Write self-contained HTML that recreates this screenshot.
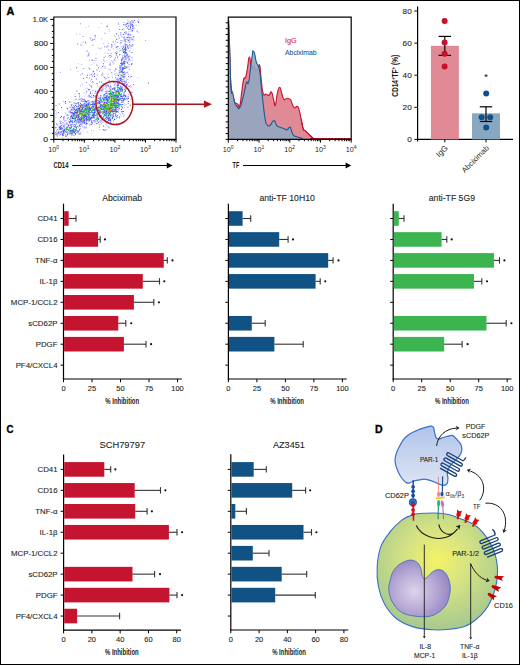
<!DOCTYPE html>
<html><head><meta charset="utf-8"><style>
html,body{margin:0;padding:0;background:#fff;}
body{width:520px;height:665px;overflow:hidden;}
svg{display:block;}
text{font-family:"Liberation Sans", sans-serif;}
</style></head><body>
<svg width="520" height="665" viewBox="0 0 520 665" fill="#231f20">
<defs>
<radialGradient id="mono" cx="0.5" cy="0.4" r="0.62">
<stop offset="0" stop-color="#f4f266"/><stop offset="0.4" stop-color="#d8e482"/><stop offset="1" stop-color="#a4c890"/>
</radialGradient>
<radialGradient id="nuc" cx="0.42" cy="0.55" r="0.6">
<stop offset="0" stop-color="#dcd4ea"/><stop offset="0.6" stop-color="#b4a6d4"/><stop offset="1" stop-color="#9484c0"/>
</radialGradient>
<linearGradient id="plt" x1="0" y1="0" x2="0" y2="1">
<stop offset="0" stop-color="#b0c4ea"/><stop offset="1" stop-color="#dde5f4"/>
</linearGradient>
</defs>
<rect x="0.5" y="0.5" width="519" height="664" fill="#fff" stroke="#000" stroke-width="1"/>
<text x="6.6" y="14.6" font-size="10.8" font-weight="bold" textLength="7.8" lengthAdjust="spacingAndGlyphs" fill="#000" stroke="#000" stroke-width="0.35">A</text>
<text x="6.8" y="197.9" font-size="10.8" font-weight="bold" textLength="7" lengthAdjust="spacingAndGlyphs" fill="#000" stroke="#000" stroke-width="0.35">B</text>
<text x="6.6" y="432.6" font-size="10.8" font-weight="bold" textLength="7" lengthAdjust="spacingAndGlyphs" fill="#000" stroke="#000" stroke-width="0.35">C</text>
<text x="375" y="432.7" font-size="10.8" font-weight="bold" textLength="7.6" lengthAdjust="spacingAndGlyphs" fill="#000" stroke="#000" stroke-width="0.35">D</text>
<path d="M98.4 104.9h.9v.9h-.9zM107.8 118.1h.9v.9h-.9zM114.9 105.0h.9v.9h-.9zM113.0 120.1h.9v.9h-.9zM104.9 118.5h.9v.9h-.9zM100.4 121.7h.9v.9h-.9zM115.1 82.9h.9v.9h-.9zM113.4 99.8h.9v.9h-.9zM124.3 104.8h.9v.9h-.9zM122.1 96.5h.9v.9h-.9zM127.5 97.4h.9v.9h-.9zM114.2 109.9h.9v.9h-.9zM104.5 109.3h.9v.9h-.9zM106.8 121.0h.9v.9h-.9zM99.6 98.2h.9v.9h-.9zM114.6 116.2h.9v.9h-.9zM114.1 117.7h.9v.9h-.9zM116.8 116.6h.9v.9h-.9zM97.1 113.1h.9v.9h-.9zM104.8 102.3h.9v.9h-.9zM126.1 118.7h.9v.9h-.9zM119.2 95.2h.9v.9h-.9zM114.9 86.4h.9v.9h-.9zM123.9 114.7h.9v.9h-.9zM124.7 81.7h.9v.9h-.9zM115.4 111.2h.9v.9h-.9zM130.2 85.1h.9v.9h-.9zM111.4 123.0h.9v.9h-.9zM116.5 112.2h.9v.9h-.9zM107.3 116.6h.9v.9h-.9zM103.4 100.9h.9v.9h-.9zM117.4 117.1h.9v.9h-.9zM127.3 98.1h.9v.9h-.9zM106.6 116.4h.9v.9h-.9zM107.0 107.0h.9v.9h-.9zM99.6 106.2h.9v.9h-.9zM118.3 100.7h.9v.9h-.9zM120.9 95.2h.9v.9h-.9zM99.3 106.5h.9v.9h-.9zM113.1 112.4h.9v.9h-.9zM110.4 116.6h.9v.9h-.9zM103.7 112.1h.9v.9h-.9zM115.5 111.2h.9v.9h-.9zM99.3 114.6h.9v.9h-.9zM97.4 107.0h.9v.9h-.9zM101.8 101.5h.9v.9h-.9zM100.0 103.0h.9v.9h-.9zM126.4 84.5h.9v.9h-.9zM96.4 121.1h.9v.9h-.9zM115.7 95.9h.9v.9h-.9zM118.2 93.0h.9v.9h-.9zM108.1 108.0h.9v.9h-.9zM119.9 114.3h.9v.9h-.9zM114.3 86.9h.9v.9h-.9zM114.7 111.3h.9v.9h-.9zM127.7 89.0h.9v.9h-.9zM101.5 108.0h.9v.9h-.9zM100.5 121.0h.9v.9h-.9zM119.6 103.3h.9v.9h-.9zM121.5 107.6h.9v.9h-.9zM101.1 100.6h.9v.9h-.9zM99.0 115.1h.9v.9h-.9zM122.1 101.4h.9v.9h-.9zM113.3 93.2h.9v.9h-.9zM107.5 90.5h.9v.9h-.9zM105.0 93.1h.9v.9h-.9zM94.2 122.0h.9v.9h-.9zM113.9 89.6h.9v.9h-.9zM103.7 112.6h.9v.9h-.9zM108.4 127.5h.9v.9h-.9zM102.6 88.7h.9v.9h-.9zM123.6 107.2h.9v.9h-.9zM120.6 116.4h.9v.9h-.9zM103.8 119.0h.9v.9h-.9zM104.2 97.3h.9v.9h-.9zM120.8 100.4h.9v.9h-.9zM119.8 93.5h.9v.9h-.9zM117.9 108.4h.9v.9h-.9zM118.3 106.2h.9v.9h-.9zM120.9 102.4h.9v.9h-.9zM112.9 104.1h.9v.9h-.9zM112.6 98.6h.9v.9h-.9zM116.2 97.9h.9v.9h-.9zM115.3 103.2h.9v.9h-.9zM105.2 79.4h.9v.9h-.9zM124.0 98.3h.9v.9h-.9zM123.8 81.1h.9v.9h-.9zM103.4 115.8h.9v.9h-.9zM109.1 105.7h.9v.9h-.9zM121.2 106.2h.9v.9h-.9zM115.2 99.8h.9v.9h-.9zM125.9 78.7h.9v.9h-.9zM119.1 117.8h.9v.9h-.9zM99.6 107.9h.9v.9h-.9zM116.5 102.0h.9v.9h-.9zM118.1 109.8h.9v.9h-.9zM116.6 90.9h.9v.9h-.9zM100.0 112.6h.9v.9h-.9zM103.6 121.7h.9v.9h-.9zM104.8 86.3h.9v.9h-.9zM107.0 99.3h.9v.9h-.9zM106.5 98.1h.9v.9h-.9zM126.1 88.5h.9v.9h-.9zM108.9 126.5h.9v.9h-.9zM120.9 95.4h.9v.9h-.9zM113.1 121.6h.9v.9h-.9zM125.7 103.8h.9v.9h-.9zM116.4 107.4h.9v.9h-.9zM100.3 115.8h.9v.9h-.9zM124.0 82.9h.9v.9h-.9zM120.0 97.7h.9v.9h-.9zM107.9 116.0h.9v.9h-.9zM100.3 88.4h.9v.9h-.9zM117.2 87.8h.9v.9h-.9zM115.9 114.6h.9v.9h-.9zM108.5 121.7h.9v.9h-.9zM109.4 119.8h.9v.9h-.9zM114.8 113.9h.9v.9h-.9zM119.4 105.8h.9v.9h-.9zM107.3 118.4h.9v.9h-.9zM102.3 120.5h.9v.9h-.9zM106.2 116.9h.9v.9h-.9zM111.5 114.4h.9v.9h-.9zM113.8 118.8h.9v.9h-.9zM114.5 91.9h.9v.9h-.9zM111.5 105.2h.9v.9h-.9zM107.1 111.1h.9v.9h-.9zM111.2 99.4h.9v.9h-.9zM112.1 98.3h.9v.9h-.9zM122.7 113.7h.9v.9h-.9zM111.5 114.2h.9v.9h-.9zM112.0 100.9h.9v.9h-.9zM110.4 90.4h.9v.9h-.9zM100.9 115.8h.9v.9h-.9zM107.1 107.3h.9v.9h-.9zM106.4 118.1h.9v.9h-.9zM103.3 104.4h.9v.9h-.9zM123.1 104.2h.9v.9h-.9zM100.6 116.5h.9v.9h-.9zM97.8 115.5h.9v.9h-.9zM102.7 113.1h.9v.9h-.9zM89.4 125.1h.9v.9h-.9zM115.2 96.4h.9v.9h-.9zM111.9 107.1h.9v.9h-.9zM107.6 105.5h.9v.9h-.9zM120.8 104.8h.9v.9h-.9zM105.4 92.1h.9v.9h-.9zM125.2 95.2h.9v.9h-.9zM116.0 117.8h.9v.9h-.9zM103.2 106.9h.9v.9h-.9zM101.6 89.1h.9v.9h-.9zM128.2 101.4h.9v.9h-.9zM110.4 100.1h.9v.9h-.9zM111.8 109.4h.9v.9h-.9zM116.9 105.1h.9v.9h-.9zM115.2 111.9h.9v.9h-.9zM103.1 104.4h.9v.9h-.9zM105.9 116.2h.9v.9h-.9zM127.8 94.3h.9v.9h-.9zM105.2 112.8h.9v.9h-.9zM115.5 84.2h.9v.9h-.9zM116.9 90.3h.9v.9h-.9zM105.9 113.8h.9v.9h-.9zM116.6 117.2h.9v.9h-.9zM124.4 94.8h.9v.9h-.9zM99.3 129.3h.9v.9h-.9zM108.7 109.9h.9v.9h-.9zM100.9 123.0h.9v.9h-.9zM112.1 106.3h.9v.9h-.9zM113.4 104.7h.9v.9h-.9zM123.6 102.7h.9v.9h-.9zM87.5 101.1h.9v.9h-.9zM68.0 114.9h.9v.9h-.9zM88.3 114.7h.9v.9h-.9zM63.1 101.0h.9v.9h-.9zM84.8 93.7h.9v.9h-.9zM74.2 110.9h.9v.9h-.9zM72.5 114.0h.9v.9h-.9zM79.7 102.6h.9v.9h-.9zM80.3 107.5h.9v.9h-.9zM70.3 112.3h.9v.9h-.9zM74.5 112.1h.9v.9h-.9zM64.2 120.3h.9v.9h-.9zM77.0 102.9h.9v.9h-.9zM91.7 118.0h.9v.9h-.9zM64.3 120.9h.9v.9h-.9zM66.5 107.3h.9v.9h-.9zM82.6 123.2h.9v.9h-.9zM68.6 111.9h.9v.9h-.9zM88.9 100.7h.9v.9h-.9zM78.4 105.9h.9v.9h-.9zM97.7 95.6h.9v.9h-.9zM79.1 94.8h.9v.9h-.9zM87.1 104.9h.9v.9h-.9zM74.5 116.4h.9v.9h-.9zM69.5 110.5h.9v.9h-.9zM90.4 118.2h.9v.9h-.9zM89.1 100.7h.9v.9h-.9zM91.4 101.7h.9v.9h-.9zM97.4 121.3h.9v.9h-.9zM63.9 116.1h.9v.9h-.9zM90.2 105.5h.9v.9h-.9zM82.7 103.3h.9v.9h-.9zM77.5 102.2h.9v.9h-.9zM79.6 111.8h.9v.9h-.9zM98.6 114.7h.9v.9h-.9zM96.0 108.2h.9v.9h-.9zM78.1 104.4h.9v.9h-.9zM88.1 102.4h.9v.9h-.9zM80.1 121.7h.9v.9h-.9zM91.4 121.7h.9v.9h-.9zM88.8 102.7h.9v.9h-.9zM75.5 107.1h.9v.9h-.9zM64.8 122.9h.9v.9h-.9zM73.5 117.4h.9v.9h-.9zM77.9 116.9h.9v.9h-.9zM90.1 103.9h.9v.9h-.9zM75.7 98.3h.9v.9h-.9zM75.2 120.1h.9v.9h-.9zM88.2 121.4h.9v.9h-.9zM96.9 94.8h.9v.9h-.9zM102.5 121.9h.9v.9h-.9zM71.8 107.0h.9v.9h-.9zM89.4 96.6h.9v.9h-.9zM70.4 107.3h.9v.9h-.9zM70.1 118.7h.9v.9h-.9zM75.0 109.0h.9v.9h-.9zM64.9 119.9h.9v.9h-.9zM88.3 111.9h.9v.9h-.9zM104.1 110.0h.9v.9h-.9zM74.9 115.1h.9v.9h-.9zM69.7 111.2h.9v.9h-.9zM67.4 118.7h.9v.9h-.9zM62.9 119.7h.9v.9h-.9zM72.4 114.3h.9v.9h-.9zM74.8 93.5h.9v.9h-.9zM88.1 115.5h.9v.9h-.9zM77.1 111.5h.9v.9h-.9zM86.7 120.2h.9v.9h-.9zM93.2 116.2h.9v.9h-.9zM79.1 124.1h.9v.9h-.9zM69.9 117.7h.9v.9h-.9zM75.6 115.5h.9v.9h-.9zM82.0 107.4h.9v.9h-.9zM71.4 106.1h.9v.9h-.9zM82.7 130.4h.9v.9h-.9zM88.5 99.9h.9v.9h-.9zM73.5 99.6h.9v.9h-.9zM69.2 106.6h.9v.9h-.9zM94.3 119.9h.9v.9h-.9zM69.2 111.8h.9v.9h-.9zM84.0 116.9h.9v.9h-.9zM72.9 117.8h.9v.9h-.9zM101.7 91.5h.9v.9h-.9zM71.9 123.4h.9v.9h-.9zM67.0 109.2h.9v.9h-.9zM68.1 126.0h.9v.9h-.9zM81.8 113.5h.9v.9h-.9zM77.7 118.8h.9v.9h-.9zM88.6 94.8h.9v.9h-.9zM70.9 101.5h.9v.9h-.9zM86.1 115.0h.9v.9h-.9zM88.8 110.2h.9v.9h-.9zM95.0 111.7h.9v.9h-.9zM86.7 119.0h.9v.9h-.9zM70.8 109.1h.9v.9h-.9zM66.2 126.9h.9v.9h-.9zM94.3 115.7h.9v.9h-.9zM75.5 108.8h.9v.9h-.9zM92.1 103.6h.9v.9h-.9zM82.2 119.4h.9v.9h-.9zM77.8 122.9h.9v.9h-.9zM88.9 106.5h.9v.9h-.9zM63.7 117.4h.9v.9h-.9zM84.3 119.5h.9v.9h-.9zM73.5 103.3h.9v.9h-.9zM76.9 122.1h.9v.9h-.9zM78.2 126.9h.9v.9h-.9zM87.4 113.5h.9v.9h-.9zM90.1 109.5h.9v.9h-.9zM95.6 123.3h.9v.9h-.9zM80.3 111.7h.9v.9h-.9zM80.1 119.7h.9v.9h-.9zM78.8 125.5h.9v.9h-.9zM76.7 106.5h.9v.9h-.9zM70.9 105.5h.9v.9h-.9zM63.5 116.5h.9v.9h-.9zM82.9 126.7h.9v.9h-.9zM94.7 121.3h.9v.9h-.9zM71.4 124.1h.9v.9h-.9zM82.0 113.4h.9v.9h-.9zM77.5 102.5h.9v.9h-.9zM87.5 95.9h.9v.9h-.9zM88.5 116.1h.9v.9h-.9zM106.2 105.2h.9v.9h-.9zM66.7 118.0h.9v.9h-.9zM69.9 114.6h.9v.9h-.9zM83.6 92.3h.9v.9h-.9zM73.3 115.0h.9v.9h-.9zM76.8 113.7h.9v.9h-.9zM93.2 113.5h.9v.9h-.9zM96.8 97.4h.9v.9h-.9zM71.2 115.5h.9v.9h-.9zM95.2 99.7h.9v.9h-.9zM91.9 122.8h.9v.9h-.9zM88.4 112.8h.9v.9h-.9zM86.1 123.8h.9v.9h-.9zM89.1 117.1h.9v.9h-.9zM80.8 99.7h.9v.9h-.9zM95.5 114.4h.9v.9h-.9zM81.5 120.8h.9v.9h-.9zM67.7 121.4h.9v.9h-.9zM92.7 115.9h.9v.9h-.9zM84.1 102.2h.9v.9h-.9zM76.8 113.7h.9v.9h-.9zM74.8 103.5h.9v.9h-.9zM80.7 100.6h.9v.9h-.9zM92.4 105.2h.9v.9h-.9zM61.0 120.8h.9v.9h-.9zM79.9 103.7h.9v.9h-.9zM60.2 132.2h.9v.9h-.9zM57.3 133.8h.9v.9h-.9zM65.6 130.8h.9v.9h-.9zM71.2 135.3h.9v.9h-.9zM65.1 135.6h.9v.9h-.9zM75.5 130.7h.9v.9h-.9zM72.8 135.1h.9v.9h-.9zM73.1 135.0h.9v.9h-.9zM90.9 129.8h.9v.9h-.9zM75.5 128.7h.9v.9h-.9zM86.4 127.3h.9v.9h-.9zM68.4 129.7h.9v.9h-.9zM71.6 130.1h.9v.9h-.9zM87.5 131.9h.9v.9h-.9zM62.3 136.8h.9v.9h-.9zM63.0 135.1h.9v.9h-.9zM67.0 130.8h.9v.9h-.9zM78.0 133.6h.9v.9h-.9zM62.3 135.1h.9v.9h-.9zM77.1 132.4h.9v.9h-.9zM55.5 134.1h.9v.9h-.9zM75.1 128.8h.9v.9h-.9zM70.8 133.7h.9v.9h-.9zM72.0 134.2h.9v.9h-.9zM78.8 130.3h.9v.9h-.9zM64.5 132.5h.9v.9h-.9zM77.3 131.4h.9v.9h-.9zM91.5 133.2h.9v.9h-.9zM59.1 134.8h.9v.9h-.9zM56.8 132.3h.9v.9h-.9zM60.8 131.0h.9v.9h-.9zM66.9 131.4h.9v.9h-.9zM71.8 125.8h.9v.9h-.9zM60.0 128.7h.9v.9h-.9zM63.6 132.7h.9v.9h-.9zM65.9 132.1h.9v.9h-.9zM65.1 132.3h.9v.9h-.9zM63.2 135.2h.9v.9h-.9zM86.7 131.4h.9v.9h-.9zM70.2 130.2h.9v.9h-.9zM77.7 131.1h.9v.9h-.9zM84.2 128.2h.9v.9h-.9zM79.1 129.9h.9v.9h-.9zM55.8 134.6h.9v.9h-.9zM72.8 130.7h.9v.9h-.9zM67.2 131.7h.9v.9h-.9zM59.2 131.9h.9v.9h-.9zM67.9 126.5h.9v.9h-.9zM77.4 125.8h.9v.9h-.9zM72.0 124.2h.9v.9h-.9zM79.9 132.1h.9v.9h-.9zM61.6 128.1h.9v.9h-.9zM62.6 132.4h.9v.9h-.9zM73.5 135.0h.9v.9h-.9zM57.2 133.5h.9v.9h-.9zM69.7 134.2h.9v.9h-.9zM76.9 131.1h.9v.9h-.9zM55.1 133.6h.9v.9h-.9zM72.9 127.4h.9v.9h-.9zM56.1 130.5h.9v.9h-.9zM65.8 135.6h.9v.9h-.9zM55.2 127.5h.9v.9h-.9zM67.6 130.9h.9v.9h-.9zM81.8 126.3h.9v.9h-.9zM56.3 130.6h.9v.9h-.9zM64.6 129.2h.9v.9h-.9zM80.8 133.7h.9v.9h-.9zM79.6 126.0h.9v.9h-.9zM66.0 120.2h.9v.9h-.9zM68.7 122.6h.9v.9h-.9zM63.4 125.2h.9v.9h-.9zM78.4 121.4h.9v.9h-.9zM69.4 124.5h.9v.9h-.9zM68.7 128.9h.9v.9h-.9zM69.6 125.5h.9v.9h-.9zM67.0 123.5h.9v.9h-.9zM66.2 122.2h.9v.9h-.9zM64.7 124.3h.9v.9h-.9zM72.9 125.6h.9v.9h-.9zM75.2 125.0h.9v.9h-.9zM69.9 121.3h.9v.9h-.9zM70.5 124.9h.9v.9h-.9zM65.5 128.0h.9v.9h-.9zM67.5 126.1h.9v.9h-.9zM65.8 126.4h.9v.9h-.9zM67.8 120.8h.9v.9h-.9zM75.1 119.8h.9v.9h-.9zM62.7 123.8h.9v.9h-.9zM66.0 122.3h.9v.9h-.9zM59.8 125.9h.9v.9h-.9zM106.2 96.4h.9v.9h-.9zM94.0 106.7h.9v.9h-.9zM108.1 126.3h.9v.9h-.9zM88.2 96.5h.9v.9h-.9zM93.5 100.0h.9v.9h-.9zM105.4 93.4h.9v.9h-.9zM107.9 118.6h.9v.9h-.9zM70.0 119.8h.9v.9h-.9zM85.0 118.5h.9v.9h-.9zM106.4 125.4h.9v.9h-.9zM88.4 95.0h.9v.9h-.9zM88.3 108.1h.9v.9h-.9zM83.5 99.1h.9v.9h-.9zM111.4 92.8h.9v.9h-.9zM99.4 88.2h.9v.9h-.9zM105.8 97.6h.9v.9h-.9zM103.2 108.5h.9v.9h-.9zM97.6 107.4h.9v.9h-.9zM97.2 103.1h.9v.9h-.9zM85.6 124.5h.9v.9h-.9zM124.3 91.2h.9v.9h-.9zM99.6 86.8h.9v.9h-.9zM97.7 96.7h.9v.9h-.9zM98.6 113.7h.9v.9h-.9zM100.7 109.8h.9v.9h-.9zM94.2 114.7h.9v.9h-.9zM93.3 130.5h.9v.9h-.9zM126.9 99.1h.9v.9h-.9zM80.9 123.0h.9v.9h-.9zM93.1 110.3h.9v.9h-.9zM102.6 87.2h.9v.9h-.9zM102.6 104.1h.9v.9h-.9zM137.5 77.4h.9v.9h-.9zM101.9 90.0h.9v.9h-.9zM77.8 110.0h.9v.9h-.9zM95.1 90.3h.9v.9h-.9zM116.4 80.8h.9v.9h-.9zM102.6 89.7h.9v.9h-.9zM90.5 95.9h.9v.9h-.9zM119.7 91.7h.9v.9h-.9zM100.0 120.5h.9v.9h-.9zM80.6 99.5h.9v.9h-.9zM111.1 102.5h.9v.9h-.9zM122.2 108.2h.9v.9h-.9zM79.0 118.6h.9v.9h-.9zM126.3 88.1h.9v.9h-.9zM86.7 102.6h.9v.9h-.9zM83.2 111.2h.9v.9h-.9zM95.0 104.6h.9v.9h-.9zM99.7 85.7h.9v.9h-.9zM103.3 82.9h.9v.9h-.9zM127.4 101.0h.9v.9h-.9zM92.3 92.7h.9v.9h-.9zM103.7 83.5h.9v.9h-.9zM130.6 91.6h.9v.9h-.9zM87.4 103.9h.9v.9h-.9zM89.7 102.7h.9v.9h-.9zM86.0 123.2h.9v.9h-.9zM74.8 117.4h.9v.9h-.9zM118.9 92.3h.9v.9h-.9zM97.3 98.4h.9v.9h-.9zM79.0 96.1h.9v.9h-.9zM90.0 120.2h.9v.9h-.9zM62.7 125.0h.9v.9h-.9zM92.4 121.6h.9v.9h-.9zM104.9 83.4h.9v.9h-.9zM67.9 110.8h.9v.9h-.9zM98.6 105.0h.9v.9h-.9zM92.2 104.3h.9v.9h-.9zM104.7 91.5h.9v.9h-.9zM95.7 119.5h.9v.9h-.9zM82.2 99.2h.9v.9h-.9zM93.1 97.1h.9v.9h-.9zM108.6 81.7h.9v.9h-.9zM101.5 91.1h.9v.9h-.9zM97.5 90.7h.9v.9h-.9zM95.2 121.4h.9v.9h-.9zM96.5 123.0h.9v.9h-.9zM109.9 116.6h.9v.9h-.9zM121.2 100.0h.9v.9h-.9zM111.3 122.9h.9v.9h-.9zM95.7 97.6h.9v.9h-.9zM90.6 101.0h.9v.9h-.9zM104.5 78.3h.9v.9h-.9zM80.1 99.7h.9v.9h-.9zM92.5 97.2h.9v.9h-.9zM95.8 83.3h.9v.9h-.9zM128.8 86.1h.9v.9h-.9zM121.5 60.0h.9v.9h-.9zM121.3 60.0h.9v.9h-.9zM123.4 44.8h.9v.9h-.9zM129.5 40.8h.9v.9h-.9zM120.3 66.5h.9v.9h-.9zM125.4 61.3h.9v.9h-.9zM126.9 57.2h.9v.9h-.9zM127.7 35.5h.9v.9h-.9zM123.0 37.6h.9v.9h-.9zM128.6 55.4h.9v.9h-.9zM128.6 34.8h.9v.9h-.9zM125.6 52.5h.9v.9h-.9zM117.2 73.4h.9v.9h-.9zM120.5 86.0h.9v.9h-.9zM128.8 33.5h.9v.9h-.9zM118.6 72.5h.9v.9h-.9zM130.3 37.8h.9v.9h-.9zM123.7 33.7h.9v.9h-.9zM122.0 72.1h.9v.9h-.9zM129.7 31.4h.9v.9h-.9zM125.0 46.9h.9v.9h-.9zM130.6 34.8h.9v.9h-.9zM125.3 45.0h.9v.9h-.9zM132.6 29.4h.9v.9h-.9zM128.9 68.5h.9v.9h-.9zM134.4 28.1h.9v.9h-.9zM132.2 30.3h.9v.9h-.9zM132.9 27.6h.9v.9h-.9zM127.5 67.6h.9v.9h-.9zM124.5 66.0h.9v.9h-.9zM126.4 41.5h.9v.9h-.9zM119.2 65.1h.9v.9h-.9zM125.2 53.1h.9v.9h-.9zM123.8 38.0h.9v.9h-.9zM127.0 34.3h.9v.9h-.9zM125.7 31.7h.9v.9h-.9zM132.4 27.4h.9v.9h-.9zM122.2 55.1h.9v.9h-.9zM130.6 35.2h.9v.9h-.9zM123.8 78.3h.9v.9h-.9zM129.7 22.4h.9v.9h-.9zM132.4 26.2h.9v.9h-.9zM123.9 75.6h.9v.9h-.9zM121.4 58.6h.9v.9h-.9zM132.1 27.7h.9v.9h-.9zM126.9 57.0h.9v.9h-.9zM122.3 83.3h.9v.9h-.9zM122.6 83.4h.9v.9h-.9zM124.3 43.7h.9v.9h-.9zM121.3 72.2h.9v.9h-.9zM132.7 37.1h.9v.9h-.9zM125.7 33.8h.9v.9h-.9zM124.8 40.1h.9v.9h-.9zM127.5 20.7h.9v.9h-.9zM126.8 66.8h.9v.9h-.9zM125.2 56.7h.9v.9h-.9zM132.6 44.8h.9v.9h-.9zM128.1 57.0h.9v.9h-.9zM130.3 60.3h.9v.9h-.9zM124.3 71.1h.9v.9h-.9zM122.6 34.3h.9v.9h-.9zM122.6 66.8h.9v.9h-.9zM127.8 73.5h.9v.9h-.9zM125.5 47.9h.9v.9h-.9zM135.7 25.0h.9v.9h-.9zM130.6 29.1h.9v.9h-.9zM126.1 24.0h.9v.9h-.9zM122.3 69.4h.9v.9h-.9zM121.1 61.3h.9v.9h-.9zM127.5 57.0h.9v.9h-.9zM122.7 79.2h.9v.9h-.9zM128.3 20.9h.9v.9h-.9zM138.5 19.3h.9v.9h-.9zM123.9 40.8h.9v.9h-.9zM127.3 39.1h.9v.9h-.9zM127.8 25.1h.9v.9h-.9zM130.8 20.7h.9v.9h-.9zM137.8 32.2h.9v.9h-.9zM127.3 19.2h.9v.9h-.9zM124.1 82.0h.9v.9h-.9zM127.2 57.4h.9v.9h-.9zM128.6 51.4h.9v.9h-.9zM120.7 46.3h.9v.9h-.9zM127.0 71.8h.9v.9h-.9zM132.5 29.2h.9v.9h-.9zM119.4 48.2h.9v.9h-.9zM127.9 28.4h.9v.9h-.9zM129.6 38.9h.9v.9h-.9zM121.4 40.7h.9v.9h-.9zM128.4 31.3h.9v.9h-.9zM130.0 26.7h.9v.9h-.9zM129.1 39.3h.9v.9h-.9zM132.9 26.6h.9v.9h-.9zM115.9 50.9h.9v.9h-.9zM122.5 22.3h.9v.9h-.9zM132.4 22.5h.9v.9h-.9zM122.8 58.3h.9v.9h-.9zM123.9 79.9h.9v.9h-.9zM124.7 65.9h.9v.9h-.9zM129.6 27.8h.9v.9h-.9zM123.2 45.9h.9v.9h-.9zM127.5 66.0h.9v.9h-.9zM126.2 50.2h.9v.9h-.9zM124.3 74.2h.9v.9h-.9zM124.6 24.0h.9v.9h-.9zM118.1 84.9h.9v.9h-.9zM117.6 79.9h.9v.9h-.9zM116.0 69.1h.9v.9h-.9zM131.8 43.7h.9v.9h-.9zM126.0 47.4h.9v.9h-.9zM126.3 38.4h.9v.9h-.9zM132.6 21.3h.9v.9h-.9zM120.7 42.7h.9v.9h-.9zM122.0 56.3h.9v.9h-.9zM122.5 39.8h.9v.9h-.9zM124.6 43.1h.9v.9h-.9zM121.7 71.1h.9v.9h-.9zM128.6 41.6h.9v.9h-.9zM124.2 87.5h.9v.9h-.9zM127.5 24.9h.9v.9h-.9zM129.6 24.8h.9v.9h-.9zM128.8 22.4h.9v.9h-.9zM124.9 75.8h.9v.9h-.9zM123.4 89.4h.9v.9h-.9zM132.5 20.3h.9v.9h-.9zM126.3 61.5h.9v.9h-.9zM124.5 43.9h.9v.9h-.9zM126.8 60.5h.9v.9h-.9zM126.3 25.7h.9v.9h-.9zM84.0 96.4h.9v.9h-.9zM98.8 87.6h.9v.9h-.9zM114.0 73.6h.9v.9h-.9zM79.1 97.4h.9v.9h-.9zM127.0 21.7h.9v.9h-.9zM126.2 38.8h.9v.9h-.9zM109.4 63.7h.9v.9h-.9zM123.4 54.7h.9v.9h-.9zM93.8 74.8h.9v.9h-.9zM120.7 31.9h.9v.9h-.9zM101.7 75.0h.9v.9h-.9zM129.8 55.7h.9v.9h-.9zM104.2 77.1h.9v.9h-.9zM109.9 83.0h.9v.9h-.9zM128.7 69.2h.9v.9h-.9zM102.2 72.4h.9v.9h-.9zM116.2 86.2h.9v.9h-.9zM122.0 89.3h.9v.9h-.9zM93.3 95.9h.9v.9h-.9zM127.9 96.4h.9v.9h-.9zM127.8 29.2h.9v.9h-.9zM120.4 35.2h.9v.9h-.9zM107.6 68.4h.9v.9h-.9zM115.1 83.4h.9v.9h-.9zM121.5 49.7h.9v.9h-.9zM94.3 95.5h.9v.9h-.9zM128.4 39.6h.9v.9h-.9zM132.0 60.2h.9v.9h-.9zM114.3 70.3h.9v.9h-.9zM111.6 44.5h.9v.9h-.9zM110.8 47.0h.9v.9h-.9zM131.7 46.1h.9v.9h-.9zM103.3 65.6h.9v.9h-.9zM113.3 88.1h.9v.9h-.9zM124.6 52.4h.9v.9h-.9zM102.4 86.3h.9v.9h-.9zM104.6 86.0h.9v.9h-.9zM124.4 72.6h.9v.9h-.9zM130.0 44.8h.9v.9h-.9zM89.1 77.3h.9v.9h-.9zM131.4 23.8h.9v.9h-.9zM86.5 89.8h.9v.9h-.9zM122.3 45.8h.9v.9h-.9zM112.1 77.3h.9v.9h-.9zM124.0 92.2h.9v.9h-.9zM130.3 47.6h.9v.9h-.9zM125.2 82.8h.9v.9h-.9zM127.9 82.1h.9v.9h-.9zM120.8 74.4h.9v.9h-.9zM119.8 32.3h.9v.9h-.9zM122.8 36.8h.9v.9h-.9zM108.2 76.8h.9v.9h-.9zM92.9 74.2h.9v.9h-.9zM94.6 92.5h.9v.9h-.9zM101.3 61.7h.9v.9h-.9zM130.5 99.3h.9v.9h-.9zM127.4 79.1h.9v.9h-.9zM131.3 30.9h.9v.9h-.9zM97.2 85.6h.9v.9h-.9zM109.8 49.8h.9v.9h-.9zM89.3 75.2h.9v.9h-.9zM115.6 72.8h.9v.9h-.9zM110.9 86.4h.9v.9h-.9zM122.1 96.1h.9v.9h-.9zM121.4 36.6h.9v.9h-.9zM102.4 82.9h.9v.9h-.9zM119.0 50.5h.9v.9h-.9zM128.2 58.6h.9v.9h-.9zM102.6 84.0h.9v.9h-.9zM91.1 85.3h.9v.9h-.9zM125.8 55.7h.9v.9h-.9zM112.6 48.4h.9v.9h-.9zM115.4 36.3h.9v.9h-.9zM95.1 95.1h.9v.9h-.9zM92.2 71.6h.9v.9h-.9zM128.5 60.0h.9v.9h-.9zM98.9 81.1h.9v.9h-.9zM80.2 98.1h.9v.9h-.9zM116.8 48.5h.9v.9h-.9zM117.2 78.7h.9v.9h-.9zM117.9 79.1h.9v.9h-.9zM128.4 61.3h.9v.9h-.9zM108.6 56.2h.9v.9h-.9zM128.9 66.1h.9v.9h-.9zM111.6 45.7h.9v.9h-.9zM89.1 84.2h.9v.9h-.9zM110.0 65.2h.9v.9h-.9zM106.0 78.0h.9v.9h-.9zM108.6 31.2h.9v.9h-.9zM117.3 51.8h.9v.9h-.9zM91.1 74.5h.9v.9h-.9zM107.7 91.5h.9v.9h-.9zM112.7 59.7h.9v.9h-.9zM106.5 90.2h.9v.9h-.9zM124.4 22.3h.9v.9h-.9zM120.6 49.5h.9v.9h-.9zM102.1 73.5h.9v.9h-.9zM93.7 62.7h.9v.9h-.9zM118.4 24.0h.9v.9h-.9zM79.5 34.2h.9v.9h-.9zM127.9 44.9h.9v.9h-.9zM87.9 67.5h.9v.9h-.9zM122.4 62.5h.9v.9h-.9zM85.5 42.8h.9v.9h-.9zM88.6 78.4h.9v.9h-.9zM76.1 33.5h.9v.9h-.9zM77.3 70.7h.9v.9h-.9zM99.1 81.8h.9v.9h-.9zM106.1 87.0h.9v.9h-.9zM85.7 26.9h.9v.9h-.9zM81.5 42.1h.9v.9h-.9zM89.6 37.3h.9v.9h-.9zM81.8 83.8h.9v.9h-.9zM100.7 85.4h.9v.9h-.9zM114.3 44.3h.9v.9h-.9zM104.4 52.7h.9v.9h-.9zM124.6 73.1h.9v.9h-.9zM77.8 63.3h.9v.9h-.9zM104.8 55.9h.9v.9h-.9zM115.4 60.6h.9v.9h-.9zM100.8 47.5h.9v.9h-.9zM97.6 47.5h.9v.9h-.9zM99.1 71.1h.9v.9h-.9zM107.3 90.7h.9v.9h-.9zM89.6 84.8h.9v.9h-.9zM89.0 68.1h.9v.9h-.9zM90.5 64.3h.9v.9h-.9zM127.5 33.4h.9v.9h-.9zM120.1 53.9h.9v.9h-.9zM119.2 67.3h.9v.9h-.9zM117.3 58.3h.9v.9h-.9zM104.0 32.7h.9v.9h-.9zM108.1 42.9h.9v.9h-.9zM90.3 85.6h.9v.9h-.9zM82.9 41.2h.9v.9h-.9zM80.2 85.6h.9v.9h-.9zM101.0 38.3h.9v.9h-.9zM120.9 69.8h.9v.9h-.9zM93.1 81.8h.9v.9h-.9zM119.3 25.9h.9v.9h-.9zM127.5 48.1h.9v.9h-.9zM104.6 66.0h.9v.9h-.9zM109.7 62.3h.9v.9h-.9zM113.9 35.3h.9v.9h-.9zM104.5 33.0h.9v.9h-.9zM118.5 70.3h.9v.9h-.9zM104.1 61.2h.9v.9h-.9zM108.8 28.8h.9v.9h-.9zM93.8 60.1h.9v.9h-.9zM116.7 55.5h.9v.9h-.9zM114.9 52.1h.9v.9h-.9zM88.3 25.8h.9v.9h-.9zM98.5 27.1h.9v.9h-.9zM107.9 48.9h.9v.9h-.9zM95.7 53.4h.9v.9h-.9zM110.9 60.3h.9v.9h-.9zM111.0 45.9h.9v.9h-.9zM90.3 80.3h.9v.9h-.9zM83.4 88.9h.9v.9h-.9zM106.8 24.7h.9v.9h-.9zM89.1 89.7h.9v.9h-.9zM101.0 23.2h.9v.9h-.9zM101.2 74.0h.9v.9h-.9zM85.6 87.8h.9v.9h-.9zM123.5 30.4h.9v.9h-.9zM103.0 75.9h.9v.9h-.9zM91.6 59.2h.9v.9h-.9zM92.0 82.8h.9v.9h-.9zM124.6 67.4h.9v.9h-.9zM116.2 33.6h.9v.9h-.9zM120.2 67.1h.9v.9h-.9zM103.3 73.7h.9v.9h-.9zM95.6 60.0h.9v.9h-.9zM114.5 43.6h.9v.9h-.9zM116.2 39.0h.9v.9h-.9zM109.3 68.8h.9v.9h-.9zM80.1 74.5h.9v.9h-.9zM81.3 64.0h.9v.9h-.9zM108.2 73.5h.9v.9h-.9zM109.9 69.6h.9v.9h-.9zM107.3 76.5h.9v.9h-.9zM96.5 63.9h.9v.9h-.9zM111.6 75.5h.9v.9h-.9zM120.0 43.7h.9v.9h-.9zM103.3 43.1h.9v.9h-.9zM115.7 78.9h.9v.9h-.9zM107.8 49.9h.9v.9h-.9zM87.4 87.8h.9v.9h-.9zM120.1 50.0h.9v.9h-.9zM108.7 77.4h.9v.9h-.9zM114.5 70.9h.9v.9h-.9zM100.4 68.1h.9v.9h-.9zM110.2 62.8h.9v.9h-.9zM121.5 87.3h.9v.9h-.9zM115.1 60.4h.9v.9h-.9zM55.9 131.1h.9v.9h-.9zM56.4 111.8h.9v.9h-.9zM56.8 131.7h.9v.9h-.9zM63.9 101.9h.9v.9h-.9zM55.2 117.4h.9v.9h-.9zM58.6 118.4h.9v.9h-.9zM69.4 125.4h.9v.9h-.9zM55.6 113.6h.9v.9h-.9zM55.0 105.3h.9v.9h-.9zM56.3 105.0h.9v.9h-.9zM55.1 109.9h.9v.9h-.9zM59.6 125.5h.9v.9h-.9zM70.0 69.0h.9v.9h-.9zM60.0 72.0h.9v.9h-.9zM145.0 40.0h.9v.9h-.9z" fill="#a4a4ff"/>
<path d="M117.3 108.9h.9v.9h-.9zM107.8 108.9h.9v.9h-.9zM102.5 116.8h.9v.9h-.9zM106.8 109.6h.9v.9h-.9zM105.8 110.5h.9v.9h-.9zM108.3 92.9h.9v.9h-.9zM105.8 105.6h.9v.9h-.9zM117.0 86.6h.9v.9h-.9zM107.8 97.1h.9v.9h-.9zM118.9 92.6h.9v.9h-.9zM105.3 111.0h.9v.9h-.9zM116.7 99.7h.9v.9h-.9zM105.9 109.4h.9v.9h-.9zM108.2 100.4h.9v.9h-.9zM99.3 109.4h.9v.9h-.9zM110.4 96.6h.9v.9h-.9zM104.8 106.5h.9v.9h-.9zM99.8 108.1h.9v.9h-.9zM110.7 111.3h.9v.9h-.9zM116.0 104.9h.9v.9h-.9zM105.1 104.6h.9v.9h-.9zM107.4 109.0h.9v.9h-.9zM108.3 115.1h.9v.9h-.9zM123.3 94.5h.9v.9h-.9zM108.2 108.0h.9v.9h-.9zM122.1 100.2h.9v.9h-.9zM120.2 96.1h.9v.9h-.9zM106.4 98.1h.9v.9h-.9zM116.9 111.1h.9v.9h-.9zM92.1 115.4h.9v.9h-.9zM117.3 102.0h.9v.9h-.9zM110.1 103.7h.9v.9h-.9zM116.6 99.8h.9v.9h-.9zM106.1 98.8h.9v.9h-.9zM119.2 104.2h.9v.9h-.9zM105.2 98.6h.9v.9h-.9zM106.6 116.8h.9v.9h-.9zM116.4 122.9h.9v.9h-.9zM104.0 106.8h.9v.9h-.9zM110.7 101.3h.9v.9h-.9zM115.2 107.5h.9v.9h-.9zM114.7 102.1h.9v.9h-.9zM104.1 109.1h.9v.9h-.9zM108.0 117.6h.9v.9h-.9zM111.1 96.7h.9v.9h-.9zM108.2 97.1h.9v.9h-.9zM108.1 105.5h.9v.9h-.9zM120.6 88.8h.9v.9h-.9zM115.0 109.6h.9v.9h-.9zM105.0 107.2h.9v.9h-.9zM115.8 116.1h.9v.9h-.9zM96.2 119.2h.9v.9h-.9zM110.7 110.6h.9v.9h-.9zM115.4 98.9h.9v.9h-.9zM116.3 102.6h.9v.9h-.9zM108.2 112.0h.9v.9h-.9zM109.8 107.3h.9v.9h-.9zM112.5 100.4h.9v.9h-.9zM113.7 106.4h.9v.9h-.9zM111.5 96.1h.9v.9h-.9zM109.3 101.2h.9v.9h-.9zM106.8 105.1h.9v.9h-.9zM104.4 115.2h.9v.9h-.9zM117.1 95.1h.9v.9h-.9zM121.1 93.7h.9v.9h-.9zM101.3 104.5h.9v.9h-.9zM118.4 96.8h.9v.9h-.9zM117.0 102.5h.9v.9h-.9zM112.8 100.5h.9v.9h-.9zM107.6 94.4h.9v.9h-.9zM114.3 89.4h.9v.9h-.9zM116.3 107.6h.9v.9h-.9zM103.3 96.6h.9v.9h-.9zM112.3 107.1h.9v.9h-.9zM114.6 102.0h.9v.9h-.9zM104.0 106.5h.9v.9h-.9zM117.6 91.9h.9v.9h-.9zM116.5 103.3h.9v.9h-.9zM109.5 114.2h.9v.9h-.9zM103.8 111.7h.9v.9h-.9zM113.8 113.2h.9v.9h-.9zM122.9 98.6h.9v.9h-.9zM103.7 103.8h.9v.9h-.9zM117.5 87.1h.9v.9h-.9zM110.4 106.0h.9v.9h-.9zM105.6 114.4h.9v.9h-.9zM104.7 117.8h.9v.9h-.9zM114.8 101.5h.9v.9h-.9zM115.7 100.0h.9v.9h-.9zM125.4 95.8h.9v.9h-.9zM106.2 95.6h.9v.9h-.9zM113.5 102.6h.9v.9h-.9zM99.2 115.5h.9v.9h-.9zM110.7 95.6h.9v.9h-.9zM111.0 104.1h.9v.9h-.9zM115.9 99.1h.9v.9h-.9zM103.4 129.6h.9v.9h-.9zM118.5 99.3h.9v.9h-.9zM121.0 109.0h.9v.9h-.9zM110.4 114.7h.9v.9h-.9zM105.3 115.3h.9v.9h-.9zM107.7 101.5h.9v.9h-.9zM110.9 98.0h.9v.9h-.9zM107.1 108.4h.9v.9h-.9zM97.4 100.0h.9v.9h-.9zM114.7 104.2h.9v.9h-.9zM98.1 112.4h.9v.9h-.9zM125.0 88.5h.9v.9h-.9zM115.4 107.6h.9v.9h-.9zM112.7 104.2h.9v.9h-.9zM120.9 93.8h.9v.9h-.9zM115.0 102.0h.9v.9h-.9zM101.5 118.2h.9v.9h-.9zM107.8 113.7h.9v.9h-.9zM110.4 97.7h.9v.9h-.9zM111.6 106.2h.9v.9h-.9zM113.6 99.4h.9v.9h-.9zM91.6 110.2h.9v.9h-.9zM106.4 106.5h.9v.9h-.9zM111.2 108.7h.9v.9h-.9zM107.2 108.2h.9v.9h-.9zM115.0 97.9h.9v.9h-.9zM108.2 119.2h.9v.9h-.9zM109.6 102.3h.9v.9h-.9zM116.9 105.1h.9v.9h-.9zM104.4 102.2h.9v.9h-.9zM118.1 94.7h.9v.9h-.9zM103.5 98.8h.9v.9h-.9zM105.1 98.7h.9v.9h-.9zM117.2 91.2h.9v.9h-.9zM98.0 106.8h.9v.9h-.9zM113.9 101.4h.9v.9h-.9zM112.0 117.0h.9v.9h-.9zM103.6 118.9h.9v.9h-.9zM114.7 104.7h.9v.9h-.9zM120.6 89.3h.9v.9h-.9zM127.8 103.2h.9v.9h-.9zM100.1 95.3h.9v.9h-.9zM115.0 115.2h.9v.9h-.9zM118.0 100.7h.9v.9h-.9zM99.9 105.6h.9v.9h-.9zM112.6 116.1h.9v.9h-.9zM115.5 108.4h.9v.9h-.9zM122.1 97.5h.9v.9h-.9zM103.3 94.8h.9v.9h-.9zM106.9 100.7h.9v.9h-.9zM103.8 103.5h.9v.9h-.9zM102.1 110.7h.9v.9h-.9zM106.3 105.6h.9v.9h-.9zM118.3 105.5h.9v.9h-.9zM112.3 93.8h.9v.9h-.9zM110.6 108.2h.9v.9h-.9zM104.3 112.0h.9v.9h-.9zM113.8 105.0h.9v.9h-.9zM114.9 106.6h.9v.9h-.9zM124.2 98.7h.9v.9h-.9zM109.5 118.0h.9v.9h-.9zM112.8 96.8h.9v.9h-.9zM121.1 100.4h.9v.9h-.9zM104.0 105.5h.9v.9h-.9zM111.5 94.5h.9v.9h-.9zM110.1 109.5h.9v.9h-.9zM103.8 101.6h.9v.9h-.9zM118.5 103.3h.9v.9h-.9zM109.3 108.9h.9v.9h-.9zM100.6 104.1h.9v.9h-.9zM116.2 98.1h.9v.9h-.9zM109.4 93.0h.9v.9h-.9zM112.9 92.0h.9v.9h-.9zM107.1 100.0h.9v.9h-.9zM117.8 111.5h.9v.9h-.9zM117.8 107.2h.9v.9h-.9zM107.7 99.5h.9v.9h-.9zM101.6 107.2h.9v.9h-.9zM106.9 116.9h.9v.9h-.9zM125.1 90.6h.9v.9h-.9zM107.2 111.5h.9v.9h-.9zM96.7 114.0h.9v.9h-.9zM126.0 97.9h.9v.9h-.9zM96.4 117.3h.9v.9h-.9zM119.0 107.7h.9v.9h-.9zM111.4 107.3h.9v.9h-.9zM124.4 95.3h.9v.9h-.9zM116.5 97.5h.9v.9h-.9zM115.7 95.3h.9v.9h-.9zM125.3 99.2h.9v.9h-.9zM114.2 99.1h.9v.9h-.9zM93.6 110.0h.9v.9h-.9zM123.1 111.0h.9v.9h-.9zM100.5 95.2h.9v.9h-.9zM103.9 102.0h.9v.9h-.9zM112.0 118.0h.9v.9h-.9zM109.7 95.0h.9v.9h-.9zM100.9 107.8h.9v.9h-.9zM109.0 98.3h.9v.9h-.9zM100.8 100.7h.9v.9h-.9zM101.6 106.2h.9v.9h-.9zM100.7 117.3h.9v.9h-.9zM123.4 99.5h.9v.9h-.9zM101.5 117.3h.9v.9h-.9zM113.1 98.0h.9v.9h-.9zM104.8 118.2h.9v.9h-.9zM115.3 106.6h.9v.9h-.9zM121.9 112.7h.9v.9h-.9zM107.9 107.3h.9v.9h-.9zM119.9 97.7h.9v.9h-.9zM112.3 96.7h.9v.9h-.9zM97.9 119.2h.9v.9h-.9zM105.1 99.0h.9v.9h-.9zM111.9 110.2h.9v.9h-.9zM106.4 112.5h.9v.9h-.9zM123.2 100.4h.9v.9h-.9zM97.5 107.0h.9v.9h-.9zM122.6 95.4h.9v.9h-.9zM114.1 95.8h.9v.9h-.9zM118.0 103.7h.9v.9h-.9zM111.5 101.1h.9v.9h-.9zM120.3 104.0h.9v.9h-.9zM110.1 106.4h.9v.9h-.9zM106.6 95.1h.9v.9h-.9zM115.7 109.6h.9v.9h-.9zM112.1 91.5h.9v.9h-.9zM123.3 98.2h.9v.9h-.9zM115.0 97.9h.9v.9h-.9zM98.2 110.0h.9v.9h-.9zM106.4 97.2h.9v.9h-.9zM105.5 111.7h.9v.9h-.9zM97.6 103.4h.9v.9h-.9zM103.2 102.7h.9v.9h-.9zM115.5 103.4h.9v.9h-.9zM119.1 99.0h.9v.9h-.9zM117.2 107.1h.9v.9h-.9zM107.7 107.7h.9v.9h-.9zM108.8 113.1h.9v.9h-.9zM109.0 95.9h.9v.9h-.9zM110.0 111.2h.9v.9h-.9zM114.6 109.8h.9v.9h-.9zM101.2 120.4h.9v.9h-.9zM122.5 98.2h.9v.9h-.9zM103.6 98.1h.9v.9h-.9zM116.3 96.5h.9v.9h-.9zM115.0 113.5h.9v.9h-.9zM110.3 105.1h.9v.9h-.9zM107.9 108.5h.9v.9h-.9zM108.5 105.7h.9v.9h-.9zM96.9 119.8h.9v.9h-.9zM111.0 107.5h.9v.9h-.9zM113.5 111.0h.9v.9h-.9zM118.8 92.5h.9v.9h-.9zM112.5 92.2h.9v.9h-.9zM119.8 86.5h.9v.9h-.9zM105.6 129.3h.9v.9h-.9zM98.9 124.4h.9v.9h-.9zM114.1 101.3h.9v.9h-.9zM113.1 104.8h.9v.9h-.9zM99.4 112.2h.9v.9h-.9zM98.9 107.0h.9v.9h-.9zM105.2 105.2h.9v.9h-.9zM117.0 83.7h.9v.9h-.9zM113.6 107.1h.9v.9h-.9zM108.5 86.4h.9v.9h-.9zM114.5 97.0h.9v.9h-.9zM111.2 114.4h.9v.9h-.9zM102.7 107.8h.9v.9h-.9zM122.5 95.9h.9v.9h-.9zM108.2 103.9h.9v.9h-.9zM107.3 118.4h.9v.9h-.9zM101.3 106.6h.9v.9h-.9zM115.8 112.2h.9v.9h-.9zM108.6 117.8h.9v.9h-.9zM116.3 105.9h.9v.9h-.9zM106.3 117.1h.9v.9h-.9zM118.8 92.3h.9v.9h-.9zM111.3 94.1h.9v.9h-.9zM131.0 95.8h.9v.9h-.9zM101.9 104.6h.9v.9h-.9zM108.0 104.9h.9v.9h-.9zM109.3 109.2h.9v.9h-.9zM109.4 87.8h.9v.9h-.9zM119.7 98.7h.9v.9h-.9zM110.7 109.2h.9v.9h-.9zM108.7 80.2h.9v.9h-.9zM106.3 99.6h.9v.9h-.9zM98.1 122.0h.9v.9h-.9zM105.7 102.5h.9v.9h-.9zM107.3 108.6h.9v.9h-.9zM109.2 107.9h.9v.9h-.9zM103.0 125.6h.9v.9h-.9zM103.1 98.8h.9v.9h-.9zM107.2 111.9h.9v.9h-.9zM106.5 110.2h.9v.9h-.9zM93.8 120.6h.9v.9h-.9zM119.3 94.4h.9v.9h-.9zM123.7 99.2h.9v.9h-.9zM110.2 121.8h.9v.9h-.9zM107.8 97.5h.9v.9h-.9zM110.4 110.7h.9v.9h-.9zM119.3 93.5h.9v.9h-.9zM111.3 104.9h.9v.9h-.9zM108.5 109.7h.9v.9h-.9zM124.2 88.9h.9v.9h-.9zM116.8 105.2h.9v.9h-.9zM111.4 102.9h.9v.9h-.9zM104.8 95.5h.9v.9h-.9zM94.0 114.5h.9v.9h-.9zM115.9 103.7h.9v.9h-.9zM113.0 114.5h.9v.9h-.9zM123.2 115.7h.9v.9h-.9zM110.3 99.9h.9v.9h-.9zM116.4 111.2h.9v.9h-.9zM111.3 96.6h.9v.9h-.9zM109.8 112.0h.9v.9h-.9zM105.8 123.4h.9v.9h-.9zM110.8 102.4h.9v.9h-.9zM109.3 96.5h.9v.9h-.9zM113.6 103.0h.9v.9h-.9zM107.5 113.1h.9v.9h-.9zM114.0 95.3h.9v.9h-.9zM106.0 110.8h.9v.9h-.9zM111.4 108.1h.9v.9h-.9zM104.5 103.8h.9v.9h-.9zM113.9 102.7h.9v.9h-.9zM106.0 113.0h.9v.9h-.9zM110.0 120.1h.9v.9h-.9zM109.5 113.1h.9v.9h-.9zM110.4 102.7h.9v.9h-.9zM99.1 103.1h.9v.9h-.9zM104.5 97.1h.9v.9h-.9zM115.9 102.2h.9v.9h-.9zM120.9 98.3h.9v.9h-.9zM106.1 103.2h.9v.9h-.9zM113.4 108.4h.9v.9h-.9zM116.8 94.7h.9v.9h-.9zM108.2 100.6h.9v.9h-.9zM99.7 116.6h.9v.9h-.9zM112.5 110.6h.9v.9h-.9zM113.0 116.0h.9v.9h-.9zM100.4 117.4h.9v.9h-.9zM116.6 103.7h.9v.9h-.9zM109.6 107.9h.9v.9h-.9zM109.8 99.7h.9v.9h-.9zM114.3 103.4h.9v.9h-.9zM123.5 92.5h.9v.9h-.9zM112.5 98.3h.9v.9h-.9zM96.4 123.0h.9v.9h-.9zM111.8 97.5h.9v.9h-.9zM104.9 88.4h.9v.9h-.9zM113.8 103.3h.9v.9h-.9zM118.8 92.3h.9v.9h-.9zM111.5 108.8h.9v.9h-.9zM104.3 110.1h.9v.9h-.9zM112.5 109.4h.9v.9h-.9zM102.5 106.0h.9v.9h-.9zM105.9 110.7h.9v.9h-.9zM112.6 111.2h.9v.9h-.9zM110.0 112.3h.9v.9h-.9zM109.6 106.5h.9v.9h-.9zM112.1 111.0h.9v.9h-.9zM110.4 120.4h.9v.9h-.9zM112.6 109.3h.9v.9h-.9zM117.7 100.0h.9v.9h-.9zM114.6 97.3h.9v.9h-.9zM118.0 84.8h.9v.9h-.9zM109.0 106.8h.9v.9h-.9zM118.3 92.0h.9v.9h-.9zM121.9 106.8h.9v.9h-.9zM115.1 96.2h.9v.9h-.9zM118.2 92.9h.9v.9h-.9zM102.7 112.4h.9v.9h-.9zM121.8 90.3h.9v.9h-.9zM115.3 108.0h.9v.9h-.9zM100.4 102.1h.9v.9h-.9zM105.7 91.0h.9v.9h-.9zM112.4 103.7h.9v.9h-.9zM106.6 92.8h.9v.9h-.9zM104.1 94.1h.9v.9h-.9zM99.9 106.1h.9v.9h-.9zM102.0 101.5h.9v.9h-.9zM113.0 114.4h.9v.9h-.9zM115.5 111.0h.9v.9h-.9zM102.5 112.1h.9v.9h-.9zM112.8 104.5h.9v.9h-.9zM121.8 104.0h.9v.9h-.9zM103.0 99.5h.9v.9h-.9zM95.0 119.4h.9v.9h-.9zM107.9 96.5h.9v.9h-.9zM105.9 113.1h.9v.9h-.9zM112.2 91.3h.9v.9h-.9zM125.1 95.3h.9v.9h-.9zM108.7 106.8h.9v.9h-.9zM116.6 95.5h.9v.9h-.9zM113.2 92.6h.9v.9h-.9zM117.3 101.6h.9v.9h-.9zM102.9 106.1h.9v.9h-.9zM114.9 95.3h.9v.9h-.9zM118.3 103.9h.9v.9h-.9zM105.5 108.1h.9v.9h-.9zM106.4 106.7h.9v.9h-.9zM123.4 95.7h.9v.9h-.9zM115.4 93.9h.9v.9h-.9zM123.6 93.7h.9v.9h-.9zM119.0 116.6h.9v.9h-.9zM97.3 114.9h.9v.9h-.9zM104.7 120.3h.9v.9h-.9zM133.3 84.1h.9v.9h-.9zM119.4 99.6h.9v.9h-.9zM122.5 101.2h.9v.9h-.9zM108.9 107.8h.9v.9h-.9zM110.8 108.7h.9v.9h-.9zM101.5 111.8h.9v.9h-.9zM100.6 104.6h.9v.9h-.9zM103.3 108.5h.9v.9h-.9zM109.2 111.1h.9v.9h-.9zM111.6 106.9h.9v.9h-.9zM111.1 111.3h.9v.9h-.9zM101.1 100.7h.9v.9h-.9zM118.1 95.8h.9v.9h-.9zM103.6 111.7h.9v.9h-.9zM107.7 104.0h.9v.9h-.9zM104.1 113.9h.9v.9h-.9zM106.4 114.5h.9v.9h-.9zM103.7 109.6h.9v.9h-.9zM113.9 108.9h.9v.9h-.9zM113.0 92.5h.9v.9h-.9zM112.7 110.4h.9v.9h-.9zM112.2 100.6h.9v.9h-.9zM103.2 98.5h.9v.9h-.9zM112.9 100.5h.9v.9h-.9zM112.7 93.9h.9v.9h-.9zM115.1 101.6h.9v.9h-.9zM110.8 108.9h.9v.9h-.9zM106.7 98.8h.9v.9h-.9zM106.7 101.6h.9v.9h-.9zM110.1 100.5h.9v.9h-.9zM102.9 104.2h.9v.9h-.9zM101.7 105.0h.9v.9h-.9zM93.0 114.5h.9v.9h-.9zM119.0 88.8h.9v.9h-.9zM117.1 88.9h.9v.9h-.9zM112.2 91.3h.9v.9h-.9zM115.9 103.1h.9v.9h-.9zM114.6 102.9h.9v.9h-.9zM115.7 110.0h.9v.9h-.9zM113.2 112.2h.9v.9h-.9zM112.1 111.6h.9v.9h-.9zM118.7 108.4h.9v.9h-.9zM116.9 85.0h.9v.9h-.9zM105.6 116.7h.9v.9h-.9zM116.1 102.8h.9v.9h-.9zM109.8 89.2h.9v.9h-.9zM108.1 108.4h.9v.9h-.9zM112.5 103.0h.9v.9h-.9zM129.8 104.8h.9v.9h-.9zM114.0 94.6h.9v.9h-.9zM116.4 91.1h.9v.9h-.9zM103.3 116.1h.9v.9h-.9zM102.5 118.9h.9v.9h-.9zM121.1 96.1h.9v.9h-.9zM115.8 102.7h.9v.9h-.9zM111.6 105.7h.9v.9h-.9zM106.0 102.1h.9v.9h-.9zM123.4 94.7h.9v.9h-.9zM103.8 93.9h.9v.9h-.9zM113.3 96.3h.9v.9h-.9zM113.9 99.1h.9v.9h-.9zM103.0 118.4h.9v.9h-.9zM107.1 103.1h.9v.9h-.9zM100.9 108.9h.9v.9h-.9zM114.7 87.8h.9v.9h-.9zM102.4 105.2h.9v.9h-.9zM117.8 90.8h.9v.9h-.9zM120.2 94.7h.9v.9h-.9zM109.1 117.3h.9v.9h-.9zM113.6 101.6h.9v.9h-.9zM99.4 120.7h.9v.9h-.9zM103.6 105.6h.9v.9h-.9zM116.9 98.8h.9v.9h-.9zM115.5 108.0h.9v.9h-.9zM108.7 105.6h.9v.9h-.9zM117.1 97.2h.9v.9h-.9zM95.1 107.6h.9v.9h-.9zM115.6 94.7h.9v.9h-.9zM116.7 103.4h.9v.9h-.9zM117.8 91.1h.9v.9h-.9zM121.8 97.9h.9v.9h-.9zM121.7 90.6h.9v.9h-.9zM105.8 102.7h.9v.9h-.9zM102.9 108.6h.9v.9h-.9zM109.1 94.0h.9v.9h-.9zM114.3 119.0h.9v.9h-.9zM124.1 84.6h.9v.9h-.9zM109.9 107.4h.9v.9h-.9zM104.5 107.5h.9v.9h-.9zM108.7 108.8h.9v.9h-.9zM106.3 96.1h.9v.9h-.9zM107.8 120.1h.9v.9h-.9zM103.4 108.5h.9v.9h-.9zM120.8 105.7h.9v.9h-.9zM107.6 99.0h.9v.9h-.9zM107.4 115.4h.9v.9h-.9zM104.6 97.1h.9v.9h-.9zM114.0 98.8h.9v.9h-.9zM106.0 112.9h.9v.9h-.9zM113.4 103.4h.9v.9h-.9zM103.8 114.8h.9v.9h-.9zM108.1 119.8h.9v.9h-.9zM112.5 114.5h.9v.9h-.9zM121.0 88.6h.9v.9h-.9zM95.0 109.7h.9v.9h-.9zM115.0 97.8h.9v.9h-.9zM115.3 91.5h.9v.9h-.9zM111.4 107.5h.9v.9h-.9zM104.6 112.1h.9v.9h-.9zM112.4 110.9h.9v.9h-.9zM115.4 109.6h.9v.9h-.9zM106.2 108.6h.9v.9h-.9zM105.1 112.5h.9v.9h-.9zM113.2 104.8h.9v.9h-.9zM108.9 108.4h.9v.9h-.9zM102.7 128.9h.9v.9h-.9zM120.5 90.6h.9v.9h-.9zM120.9 111.3h.9v.9h-.9zM105.6 113.9h.9v.9h-.9zM112.1 100.6h.9v.9h-.9zM98.4 112.0h.9v.9h-.9zM119.5 91.2h.9v.9h-.9zM107.3 121.4h.9v.9h-.9zM110.1 119.1h.9v.9h-.9zM115.3 99.2h.9v.9h-.9zM121.8 81.4h.9v.9h-.9zM115.4 110.1h.9v.9h-.9zM104.4 129.9h.9v.9h-.9zM107.8 85.6h.9v.9h-.9zM113.5 101.4h.9v.9h-.9zM114.4 105.1h.9v.9h-.9zM111.3 93.7h.9v.9h-.9zM117.1 114.9h.9v.9h-.9zM115.3 109.9h.9v.9h-.9zM116.9 105.5h.9v.9h-.9zM117.4 102.3h.9v.9h-.9zM110.8 109.7h.9v.9h-.9zM108.9 119.7h.9v.9h-.9zM118.3 103.3h.9v.9h-.9zM104.5 111.0h.9v.9h-.9zM106.2 110.3h.9v.9h-.9zM124.8 95.5h.9v.9h-.9zM103.1 108.9h.9v.9h-.9zM125.6 81.9h.9v.9h-.9zM114.5 110.9h.9v.9h-.9zM115.9 98.6h.9v.9h-.9zM109.3 101.1h.9v.9h-.9zM113.0 113.2h.9v.9h-.9zM106.2 119.3h.9v.9h-.9zM87.1 116.7h.9v.9h-.9zM93.1 109.1h.9v.9h-.9zM79.0 117.8h.9v.9h-.9zM91.9 101.1h.9v.9h-.9zM84.3 119.7h.9v.9h-.9zM84.5 119.7h.9v.9h-.9zM81.2 116.2h.9v.9h-.9zM73.6 113.6h.9v.9h-.9zM88.5 110.8h.9v.9h-.9zM87.9 109.9h.9v.9h-.9zM88.5 117.4h.9v.9h-.9zM81.6 113.4h.9v.9h-.9zM83.2 115.0h.9v.9h-.9zM77.8 115.9h.9v.9h-.9zM92.7 119.9h.9v.9h-.9zM91.8 111.5h.9v.9h-.9zM85.1 108.3h.9v.9h-.9zM81.2 114.2h.9v.9h-.9zM91.3 117.0h.9v.9h-.9zM80.8 109.1h.9v.9h-.9zM96.7 111.6h.9v.9h-.9zM89.7 107.9h.9v.9h-.9zM76.8 114.5h.9v.9h-.9zM58.2 112.2h.9v.9h-.9zM71.4 114.7h.9v.9h-.9zM89.1 108.3h.9v.9h-.9zM87.0 113.6h.9v.9h-.9zM89.5 108.6h.9v.9h-.9zM87.5 100.0h.9v.9h-.9zM69.9 119.8h.9v.9h-.9zM73.3 109.2h.9v.9h-.9zM87.6 108.8h.9v.9h-.9zM96.3 113.2h.9v.9h-.9zM80.7 113.6h.9v.9h-.9zM94.4 117.4h.9v.9h-.9zM98.2 107.5h.9v.9h-.9zM81.0 116.0h.9v.9h-.9zM81.4 119.7h.9v.9h-.9zM84.5 122.5h.9v.9h-.9zM81.7 122.2h.9v.9h-.9zM80.2 111.1h.9v.9h-.9zM84.3 108.4h.9v.9h-.9zM85.5 112.0h.9v.9h-.9zM75.5 102.8h.9v.9h-.9zM71.3 114.8h.9v.9h-.9zM79.3 113.0h.9v.9h-.9zM79.1 110.0h.9v.9h-.9zM84.4 114.2h.9v.9h-.9zM80.0 117.6h.9v.9h-.9zM76.2 116.9h.9v.9h-.9zM77.0 112.5h.9v.9h-.9zM86.0 118.3h.9v.9h-.9zM97.8 109.4h.9v.9h-.9zM75.7 112.5h.9v.9h-.9zM77.8 103.7h.9v.9h-.9zM65.1 101.1h.9v.9h-.9zM71.4 112.6h.9v.9h-.9zM82.6 108.8h.9v.9h-.9zM82.0 105.3h.9v.9h-.9zM74.5 111.5h.9v.9h-.9zM71.6 115.4h.9v.9h-.9zM88.7 112.7h.9v.9h-.9zM73.5 109.7h.9v.9h-.9zM87.6 119.6h.9v.9h-.9zM88.1 104.6h.9v.9h-.9zM93.3 112.6h.9v.9h-.9zM71.9 111.7h.9v.9h-.9zM74.2 113.0h.9v.9h-.9zM88.7 109.3h.9v.9h-.9zM79.0 113.7h.9v.9h-.9zM72.0 118.1h.9v.9h-.9zM80.0 120.0h.9v.9h-.9zM70.2 124.4h.9v.9h-.9zM88.3 111.7h.9v.9h-.9zM94.4 112.5h.9v.9h-.9zM78.2 109.9h.9v.9h-.9zM82.5 110.6h.9v.9h-.9zM90.0 118.0h.9v.9h-.9zM60.1 126.1h.9v.9h-.9zM89.7 123.8h.9v.9h-.9zM85.9 113.5h.9v.9h-.9zM84.5 115.4h.9v.9h-.9zM83.9 115.6h.9v.9h-.9zM81.5 119.6h.9v.9h-.9zM99.8 106.6h.9v.9h-.9zM86.5 109.9h.9v.9h-.9zM77.0 112.0h.9v.9h-.9zM91.3 124.0h.9v.9h-.9zM70.4 112.3h.9v.9h-.9zM89.7 113.9h.9v.9h-.9zM85.9 102.3h.9v.9h-.9zM91.1 120.5h.9v.9h-.9zM79.8 109.5h.9v.9h-.9zM82.2 115.1h.9v.9h-.9zM73.2 112.4h.9v.9h-.9zM87.3 112.7h.9v.9h-.9zM86.1 117.8h.9v.9h-.9zM76.3 121.7h.9v.9h-.9zM73.4 104.9h.9v.9h-.9zM90.9 111.9h.9v.9h-.9zM88.9 108.2h.9v.9h-.9zM88.8 105.9h.9v.9h-.9zM72.4 121.7h.9v.9h-.9zM75.6 99.2h.9v.9h-.9zM82.4 113.9h.9v.9h-.9zM82.9 118.4h.9v.9h-.9zM93.5 109.2h.9v.9h-.9zM84.1 121.8h.9v.9h-.9zM84.9 113.2h.9v.9h-.9zM77.2 111.2h.9v.9h-.9zM85.3 116.2h.9v.9h-.9zM75.9 109.0h.9v.9h-.9zM92.1 114.9h.9v.9h-.9zM85.6 116.0h.9v.9h-.9zM87.6 112.4h.9v.9h-.9zM96.0 109.3h.9v.9h-.9zM94.7 108.4h.9v.9h-.9zM70.9 109.4h.9v.9h-.9zM73.8 125.8h.9v.9h-.9zM92.5 114.4h.9v.9h-.9zM77.7 111.7h.9v.9h-.9zM82.9 101.2h.9v.9h-.9zM88.1 113.9h.9v.9h-.9zM80.9 113.8h.9v.9h-.9zM77.5 108.1h.9v.9h-.9zM82.0 107.8h.9v.9h-.9zM80.3 103.1h.9v.9h-.9zM88.8 114.7h.9v.9h-.9zM80.6 109.3h.9v.9h-.9zM70.5 116.1h.9v.9h-.9zM87.7 117.5h.9v.9h-.9zM88.1 110.7h.9v.9h-.9zM82.4 114.0h.9v.9h-.9zM84.0 120.6h.9v.9h-.9zM71.0 121.0h.9v.9h-.9zM92.4 112.1h.9v.9h-.9zM84.1 117.0h.9v.9h-.9zM82.4 98.8h.9v.9h-.9zM82.4 114.0h.9v.9h-.9zM83.6 109.8h.9v.9h-.9zM88.9 118.1h.9v.9h-.9zM79.9 110.8h.9v.9h-.9zM85.5 114.5h.9v.9h-.9zM86.3 112.6h.9v.9h-.9zM85.7 119.7h.9v.9h-.9zM85.3 115.6h.9v.9h-.9zM87.7 115.3h.9v.9h-.9zM81.2 116.4h.9v.9h-.9zM75.2 105.1h.9v.9h-.9zM87.4 103.5h.9v.9h-.9zM84.9 106.2h.9v.9h-.9zM75.1 112.4h.9v.9h-.9zM70.7 117.8h.9v.9h-.9zM81.3 111.0h.9v.9h-.9zM75.8 129.9h.9v.9h-.9zM92.0 110.1h.9v.9h-.9zM102.5 108.7h.9v.9h-.9zM82.6 111.4h.9v.9h-.9zM82.4 113.7h.9v.9h-.9zM74.9 111.6h.9v.9h-.9zM79.0 111.3h.9v.9h-.9zM89.7 112.3h.9v.9h-.9zM77.7 116.9h.9v.9h-.9zM72.5 113.1h.9v.9h-.9zM74.0 112.4h.9v.9h-.9zM77.3 111.4h.9v.9h-.9zM86.1 106.8h.9v.9h-.9zM85.6 112.9h.9v.9h-.9zM59.9 117.0h.9v.9h-.9zM93.4 104.4h.9v.9h-.9zM83.6 99.6h.9v.9h-.9zM79.3 108.5h.9v.9h-.9zM76.2 121.4h.9v.9h-.9zM88.2 107.6h.9v.9h-.9zM95.1 107.0h.9v.9h-.9zM67.7 117.3h.9v.9h-.9zM80.6 113.0h.9v.9h-.9zM93.6 114.2h.9v.9h-.9zM78.4 119.0h.9v.9h-.9zM98.0 109.5h.9v.9h-.9zM85.9 105.3h.9v.9h-.9zM98.6 100.5h.9v.9h-.9zM85.7 116.0h.9v.9h-.9zM77.2 110.9h.9v.9h-.9zM89.9 119.0h.9v.9h-.9zM76.9 125.9h.9v.9h-.9zM86.1 123.0h.9v.9h-.9zM81.0 118.8h.9v.9h-.9zM99.6 97.1h.9v.9h-.9zM82.0 117.9h.9v.9h-.9zM95.5 95.9h.9v.9h-.9zM79.8 120.5h.9v.9h-.9zM106.6 108.6h.9v.9h-.9zM86.4 120.5h.9v.9h-.9zM79.2 112.5h.9v.9h-.9zM82.9 118.8h.9v.9h-.9zM80.4 113.9h.9v.9h-.9zM94.0 111.6h.9v.9h-.9zM85.5 123.7h.9v.9h-.9zM81.8 108.6h.9v.9h-.9zM73.2 128.1h.9v.9h-.9zM83.0 106.1h.9v.9h-.9zM71.2 111.8h.9v.9h-.9zM59.6 120.8h.9v.9h-.9zM71.4 108.7h.9v.9h-.9zM84.3 119.4h.9v.9h-.9zM64.3 124.7h.9v.9h-.9zM87.7 111.2h.9v.9h-.9zM90.7 118.1h.9v.9h-.9zM84.8 117.8h.9v.9h-.9zM76.0 111.7h.9v.9h-.9zM78.3 120.8h.9v.9h-.9zM73.8 107.6h.9v.9h-.9zM76.8 111.3h.9v.9h-.9zM75.6 115.3h.9v.9h-.9zM81.1 106.9h.9v.9h-.9zM79.0 108.0h.9v.9h-.9zM78.4 114.1h.9v.9h-.9zM86.0 116.1h.9v.9h-.9zM100.7 116.6h.9v.9h-.9zM88.5 114.3h.9v.9h-.9zM82.5 111.9h.9v.9h-.9zM72.7 113.9h.9v.9h-.9zM84.4 115.1h.9v.9h-.9zM73.0 115.7h.9v.9h-.9zM80.5 114.1h.9v.9h-.9zM88.6 109.8h.9v.9h-.9zM82.5 120.5h.9v.9h-.9zM85.1 112.0h.9v.9h-.9zM66.4 114.5h.9v.9h-.9zM80.5 119.1h.9v.9h-.9zM89.0 111.0h.9v.9h-.9zM92.5 103.2h.9v.9h-.9zM93.4 117.1h.9v.9h-.9zM86.0 113.6h.9v.9h-.9zM88.5 109.3h.9v.9h-.9zM88.3 110.9h.9v.9h-.9zM93.9 108.3h.9v.9h-.9zM96.8 111.5h.9v.9h-.9zM81.6 100.8h.9v.9h-.9zM88.8 110.9h.9v.9h-.9zM86.4 118.7h.9v.9h-.9zM91.0 96.9h.9v.9h-.9zM88.6 102.8h.9v.9h-.9zM82.2 108.9h.9v.9h-.9zM85.1 108.1h.9v.9h-.9zM81.8 106.8h.9v.9h-.9zM93.9 112.8h.9v.9h-.9zM88.9 112.2h.9v.9h-.9zM80.1 118.9h.9v.9h-.9zM60.6 123.3h.9v.9h-.9zM85.6 102.2h.9v.9h-.9zM67.4 129.1h.9v.9h-.9zM72.0 117.1h.9v.9h-.9zM85.4 111.2h.9v.9h-.9zM75.5 115.3h.9v.9h-.9zM93.4 113.4h.9v.9h-.9zM73.8 115.5h.9v.9h-.9zM85.6 110.8h.9v.9h-.9zM86.2 105.2h.9v.9h-.9zM79.2 111.1h.9v.9h-.9zM73.9 108.9h.9v.9h-.9zM92.7 116.7h.9v.9h-.9zM82.4 105.8h.9v.9h-.9zM79.6 106.9h.9v.9h-.9zM79.3 119.3h.9v.9h-.9zM71.7 109.5h.9v.9h-.9zM87.3 122.9h.9v.9h-.9zM86.6 119.3h.9v.9h-.9zM74.2 120.6h.9v.9h-.9zM78.9 125.1h.9v.9h-.9zM78.6 114.5h.9v.9h-.9zM76.5 112.5h.9v.9h-.9zM73.7 102.4h.9v.9h-.9zM67.3 114.7h.9v.9h-.9zM78.5 116.1h.9v.9h-.9zM78.0 103.3h.9v.9h-.9zM69.8 117.2h.9v.9h-.9zM81.7 117.9h.9v.9h-.9zM92.0 104.0h.9v.9h-.9zM97.5 117.2h.9v.9h-.9zM80.0 113.5h.9v.9h-.9zM98.0 118.1h.9v.9h-.9zM87.3 106.9h.9v.9h-.9zM83.7 116.8h.9v.9h-.9zM91.2 110.9h.9v.9h-.9zM90.2 117.3h.9v.9h-.9zM88.1 108.7h.9v.9h-.9zM85.1 109.8h.9v.9h-.9zM81.6 120.9h.9v.9h-.9zM66.8 108.0h.9v.9h-.9zM84.4 116.4h.9v.9h-.9zM91.8 104.2h.9v.9h-.9zM86.1 115.5h.9v.9h-.9zM94.9 109.5h.9v.9h-.9zM83.9 119.7h.9v.9h-.9zM80.7 112.6h.9v.9h-.9zM84.1 118.8h.9v.9h-.9zM80.7 115.4h.9v.9h-.9zM74.6 117.6h.9v.9h-.9zM79.7 125.9h.9v.9h-.9zM73.7 108.5h.9v.9h-.9zM86.0 112.6h.9v.9h-.9zM79.7 111.1h.9v.9h-.9zM94.0 111.9h.9v.9h-.9zM84.6 114.1h.9v.9h-.9zM73.1 112.9h.9v.9h-.9zM63.2 117.3h.9v.9h-.9zM77.7 106.0h.9v.9h-.9zM94.9 103.5h.9v.9h-.9zM88.2 103.6h.9v.9h-.9zM94.0 104.0h.9v.9h-.9zM92.3 105.8h.9v.9h-.9zM84.4 116.1h.9v.9h-.9zM88.6 108.7h.9v.9h-.9zM85.9 108.4h.9v.9h-.9zM89.0 106.4h.9v.9h-.9zM81.3 112.8h.9v.9h-.9zM80.4 106.0h.9v.9h-.9zM85.4 106.0h.9v.9h-.9zM83.6 121.7h.9v.9h-.9zM93.2 109.2h.9v.9h-.9zM91.2 108.1h.9v.9h-.9zM77.1 112.4h.9v.9h-.9zM88.5 120.7h.9v.9h-.9zM81.6 117.6h.9v.9h-.9zM80.7 110.3h.9v.9h-.9zM81.2 109.9h.9v.9h-.9zM92.9 114.5h.9v.9h-.9zM87.0 111.9h.9v.9h-.9zM94.2 112.4h.9v.9h-.9zM77.8 102.0h.9v.9h-.9zM85.9 104.0h.9v.9h-.9zM89.5 119.3h.9v.9h-.9zM91.2 121.8h.9v.9h-.9zM82.8 107.2h.9v.9h-.9zM72.5 122.0h.9v.9h-.9zM76.1 127.0h.9v.9h-.9zM93.7 102.6h.9v.9h-.9zM75.8 111.7h.9v.9h-.9zM80.4 119.0h.9v.9h-.9zM81.0 113.6h.9v.9h-.9zM94.4 109.3h.9v.9h-.9zM76.0 110.2h.9v.9h-.9zM86.8 105.4h.9v.9h-.9zM76.4 111.4h.9v.9h-.9zM99.9 104.5h.9v.9h-.9zM92.9 102.2h.9v.9h-.9zM83.6 111.0h.9v.9h-.9zM89.4 110.0h.9v.9h-.9zM81.2 104.2h.9v.9h-.9zM76.4 109.6h.9v.9h-.9zM77.8 107.6h.9v.9h-.9zM83.5 114.5h.9v.9h-.9zM79.8 113.7h.9v.9h-.9zM78.7 99.0h.9v.9h-.9zM99.2 103.3h.9v.9h-.9zM87.7 119.3h.9v.9h-.9zM75.1 117.9h.9v.9h-.9zM80.3 113.2h.9v.9h-.9zM87.8 103.9h.9v.9h-.9zM83.3 107.1h.9v.9h-.9zM78.8 109.5h.9v.9h-.9zM98.3 118.8h.9v.9h-.9zM85.5 109.2h.9v.9h-.9zM82.9 104.4h.9v.9h-.9zM93.6 104.1h.9v.9h-.9zM83.0 117.7h.9v.9h-.9zM102.8 108.1h.9v.9h-.9zM86.1 106.8h.9v.9h-.9zM102.0 97.6h.9v.9h-.9zM86.7 109.2h.9v.9h-.9zM80.3 124.2h.9v.9h-.9zM77.0 118.4h.9v.9h-.9zM83.4 117.7h.9v.9h-.9zM90.8 115.5h.9v.9h-.9zM79.0 112.1h.9v.9h-.9zM85.7 105.1h.9v.9h-.9zM84.1 99.5h.9v.9h-.9zM94.9 103.3h.9v.9h-.9zM81.2 104.9h.9v.9h-.9zM84.1 111.2h.9v.9h-.9zM88.9 119.9h.9v.9h-.9zM74.9 117.8h.9v.9h-.9zM82.5 117.1h.9v.9h-.9zM85.5 114.6h.9v.9h-.9zM81.8 112.7h.9v.9h-.9zM95.9 108.2h.9v.9h-.9zM76.3 106.1h.9v.9h-.9zM88.7 118.3h.9v.9h-.9zM83.0 115.8h.9v.9h-.9zM77.9 117.4h.9v.9h-.9zM69.8 110.6h.9v.9h-.9zM80.3 123.4h.9v.9h-.9zM78.0 115.4h.9v.9h-.9zM72.8 118.0h.9v.9h-.9zM82.1 110.8h.9v.9h-.9zM75.2 119.3h.9v.9h-.9zM84.0 108.6h.9v.9h-.9zM78.8 108.9h.9v.9h-.9zM76.1 116.6h.9v.9h-.9zM99.7 114.8h.9v.9h-.9zM93.0 95.0h.9v.9h-.9zM78.1 116.7h.9v.9h-.9zM75.8 112.7h.9v.9h-.9zM82.5 111.5h.9v.9h-.9zM84.6 106.5h.9v.9h-.9zM84.3 102.9h.9v.9h-.9zM70.8 104.6h.9v.9h-.9zM85.6 101.1h.9v.9h-.9zM78.8 118.8h.9v.9h-.9zM85.9 109.1h.9v.9h-.9zM87.4 116.8h.9v.9h-.9zM64.8 112.7h.9v.9h-.9zM75.9 123.6h.9v.9h-.9zM89.3 107.2h.9v.9h-.9zM71.3 115.4h.9v.9h-.9zM93.5 114.4h.9v.9h-.9zM84.5 101.1h.9v.9h-.9zM78.1 108.5h.9v.9h-.9zM75.0 110.1h.9v.9h-.9zM80.7 109.2h.9v.9h-.9zM79.5 105.0h.9v.9h-.9zM80.5 119.1h.9v.9h-.9zM89.2 116.0h.9v.9h-.9zM86.5 105.3h.9v.9h-.9zM94.5 108.9h.9v.9h-.9zM84.1 109.7h.9v.9h-.9zM88.7 102.0h.9v.9h-.9zM78.7 109.0h.9v.9h-.9zM84.0 122.9h.9v.9h-.9zM82.0 120.8h.9v.9h-.9zM74.7 96.0h.9v.9h-.9zM79.3 109.5h.9v.9h-.9zM85.4 107.9h.9v.9h-.9zM86.3 104.3h.9v.9h-.9zM86.6 107.7h.9v.9h-.9zM75.8 117.0h.9v.9h-.9zM83.4 104.2h.9v.9h-.9zM99.2 111.4h.9v.9h-.9zM84.2 108.6h.9v.9h-.9zM72.7 107.6h.9v.9h-.9zM71.1 116.3h.9v.9h-.9zM89.0 118.9h.9v.9h-.9zM83.0 117.2h.9v.9h-.9zM84.3 105.3h.9v.9h-.9zM99.6 113.2h.9v.9h-.9zM80.1 117.0h.9v.9h-.9zM85.8 121.5h.9v.9h-.9zM81.0 120.8h.9v.9h-.9zM75.8 103.3h.9v.9h-.9zM77.2 108.3h.9v.9h-.9zM75.7 113.6h.9v.9h-.9zM74.0 105.9h.9v.9h-.9zM80.9 118.1h.9v.9h-.9zM93.6 105.5h.9v.9h-.9zM84.5 112.1h.9v.9h-.9zM72.0 107.2h.9v.9h-.9zM87.3 106.6h.9v.9h-.9zM85.8 108.4h.9v.9h-.9zM80.7 119.0h.9v.9h-.9zM89.0 110.5h.9v.9h-.9zM77.7 114.6h.9v.9h-.9zM90.5 108.2h.9v.9h-.9zM94.5 115.1h.9v.9h-.9zM100.1 106.3h.9v.9h-.9zM87.6 118.9h.9v.9h-.9zM76.1 108.7h.9v.9h-.9zM71.8 112.3h.9v.9h-.9zM70.9 127.0h.9v.9h-.9zM84.9 116.0h.9v.9h-.9zM79.3 107.3h.9v.9h-.9zM62.0 133.7h.9v.9h-.9zM69.9 131.2h.9v.9h-.9zM72.7 130.0h.9v.9h-.9zM63.3 129.4h.9v.9h-.9zM73.7 132.6h.9v.9h-.9zM64.4 129.7h.9v.9h-.9zM61.1 127.8h.9v.9h-.9zM60.7 130.9h.9v.9h-.9zM69.1 130.6h.9v.9h-.9zM66.5 127.1h.9v.9h-.9zM71.6 128.8h.9v.9h-.9zM64.0 130.3h.9v.9h-.9zM64.8 128.4h.9v.9h-.9zM59.6 132.4h.9v.9h-.9zM70.0 127.8h.9v.9h-.9zM66.9 127.6h.9v.9h-.9zM57.9 131.9h.9v.9h-.9zM72.6 131.1h.9v.9h-.9zM57.3 129.3h.9v.9h-.9zM63.0 131.3h.9v.9h-.9zM71.6 128.8h.9v.9h-.9zM62.2 127.8h.9v.9h-.9zM68.8 130.4h.9v.9h-.9zM85.3 127.4h.9v.9h-.9zM67.1 133.5h.9v.9h-.9zM75.0 134.3h.9v.9h-.9zM71.4 134.4h.9v.9h-.9zM60.8 128.9h.9v.9h-.9zM71.4 131.7h.9v.9h-.9zM60.0 128.1h.9v.9h-.9zM73.0 132.4h.9v.9h-.9zM76.3 131.9h.9v.9h-.9zM77.4 131.4h.9v.9h-.9zM61.3 127.3h.9v.9h-.9zM70.8 130.5h.9v.9h-.9zM55.2 132.2h.9v.9h-.9zM64.7 131.2h.9v.9h-.9zM67.5 133.5h.9v.9h-.9zM62.6 131.3h.9v.9h-.9zM61.6 133.5h.9v.9h-.9zM77.8 131.7h.9v.9h-.9zM69.2 133.3h.9v.9h-.9zM74.9 129.2h.9v.9h-.9zM73.2 130.2h.9v.9h-.9zM76.0 128.2h.9v.9h-.9zM62.8 130.7h.9v.9h-.9zM75.2 130.9h.9v.9h-.9zM70.0 132.6h.9v.9h-.9zM58.3 133.3h.9v.9h-.9zM58.5 131.3h.9v.9h-.9zM70.8 132.6h.9v.9h-.9zM55.5 127.1h.9v.9h-.9zM62.2 129.7h.9v.9h-.9zM79.7 128.3h.9v.9h-.9zM70.6 127.4h.9v.9h-.9zM69.4 128.2h.9v.9h-.9zM60.8 131.6h.9v.9h-.9zM73.2 131.3h.9v.9h-.9zM72.1 130.8h.9v.9h-.9zM71.7 130.3h.9v.9h-.9zM79.0 129.3h.9v.9h-.9zM66.7 126.7h.9v.9h-.9zM56.5 133.0h.9v.9h-.9zM79.0 133.5h.9v.9h-.9zM62.9 132.6h.9v.9h-.9zM77.8 130.7h.9v.9h-.9zM70.8 132.9h.9v.9h-.9zM70.8 129.9h.9v.9h-.9zM65.4 136.1h.9v.9h-.9zM74.0 130.9h.9v.9h-.9zM66.6 129.1h.9v.9h-.9zM69.4 128.9h.9v.9h-.9zM75.3 130.1h.9v.9h-.9zM62.1 134.6h.9v.9h-.9zM80.1 133.4h.9v.9h-.9zM68.5 131.9h.9v.9h-.9zM60.6 129.0h.9v.9h-.9zM72.8 128.9h.9v.9h-.9zM69.8 130.2h.9v.9h-.9zM65.3 134.5h.9v.9h-.9zM63.3 132.1h.9v.9h-.9zM75.1 133.0h.9v.9h-.9zM66.4 132.4h.9v.9h-.9zM74.0 131.9h.9v.9h-.9zM63.5 129.6h.9v.9h-.9zM63.6 130.7h.9v.9h-.9zM74.1 129.4h.9v.9h-.9zM67.2 134.6h.9v.9h-.9zM62.9 130.5h.9v.9h-.9zM71.8 133.2h.9v.9h-.9zM67.4 124.4h.9v.9h-.9zM68.2 125.2h.9v.9h-.9zM63.7 125.9h.9v.9h-.9zM63.6 130.0h.9v.9h-.9zM70.5 124.7h.9v.9h-.9zM77.9 119.6h.9v.9h-.9zM67.9 124.6h.9v.9h-.9zM66.0 123.4h.9v.9h-.9zM68.9 122.4h.9v.9h-.9zM65.8 129.5h.9v.9h-.9zM70.8 126.7h.9v.9h-.9zM76.6 115.6h.9v.9h-.9zM74.6 121.6h.9v.9h-.9zM70.1 121.2h.9v.9h-.9zM76.9 118.4h.9v.9h-.9zM74.6 125.7h.9v.9h-.9zM73.6 118.1h.9v.9h-.9zM75.5 126.6h.9v.9h-.9zM69.3 127.0h.9v.9h-.9zM76.8 120.3h.9v.9h-.9zM62.9 125.9h.9v.9h-.9zM60.9 125.0h.9v.9h-.9zM63.9 129.0h.9v.9h-.9zM63.4 118.6h.9v.9h-.9zM72.4 121.9h.9v.9h-.9zM71.6 121.6h.9v.9h-.9zM66.6 114.5h.9v.9h-.9zM69.6 122.3h.9v.9h-.9zM58.6 127.3h.9v.9h-.9zM60.1 128.8h.9v.9h-.9zM72.5 116.8h.9v.9h-.9zM62.5 122.3h.9v.9h-.9zM73.8 124.0h.9v.9h-.9zM78.2 122.7h.9v.9h-.9zM82.6 122.3h.9v.9h-.9zM73.6 128.7h.9v.9h-.9zM78.6 121.9h.9v.9h-.9zM70.9 120.8h.9v.9h-.9zM58.9 126.6h.9v.9h-.9zM74.6 126.7h.9v.9h-.9zM60.2 134.1h.9v.9h-.9zM81.6 124.6h.9v.9h-.9zM79.6 121.3h.9v.9h-.9zM73.4 114.9h.9v.9h-.9zM70.8 124.3h.9v.9h-.9zM116.6 99.1h.9v.9h-.9zM98.6 101.3h.9v.9h-.9zM118.5 88.8h.9v.9h-.9zM118.7 105.1h.9v.9h-.9zM110.4 92.1h.9v.9h-.9zM103.4 109.2h.9v.9h-.9zM118.2 90.3h.9v.9h-.9zM116.7 98.4h.9v.9h-.9zM104.7 98.7h.9v.9h-.9zM99.0 115.8h.9v.9h-.9zM103.4 96.7h.9v.9h-.9zM97.7 109.4h.9v.9h-.9zM91.1 117.3h.9v.9h-.9zM91.3 78.8h.9v.9h-.9zM114.0 119.0h.9v.9h-.9zM122.0 110.9h.9v.9h-.9zM107.5 108.0h.9v.9h-.9zM116.1 92.3h.9v.9h-.9zM92.1 106.0h.9v.9h-.9zM103.4 109.6h.9v.9h-.9zM126.1 85.5h.9v.9h-.9zM74.0 121.2h.9v.9h-.9zM127.6 96.5h.9v.9h-.9zM109.7 115.0h.9v.9h-.9zM100.4 111.6h.9v.9h-.9zM96.8 90.5h.9v.9h-.9zM130.6 86.7h.9v.9h-.9zM108.8 97.7h.9v.9h-.9zM81.3 98.4h.9v.9h-.9zM93.9 103.8h.9v.9h-.9zM109.2 101.9h.9v.9h-.9zM82.8 120.1h.9v.9h-.9zM105.5 99.7h.9v.9h-.9zM101.1 115.2h.9v.9h-.9zM120.2 85.4h.9v.9h-.9zM85.2 100.8h.9v.9h-.9zM98.9 111.3h.9v.9h-.9zM100.7 90.0h.9v.9h-.9zM105.9 111.3h.9v.9h-.9zM118.2 100.1h.9v.9h-.9zM110.6 81.2h.9v.9h-.9zM114.2 95.8h.9v.9h-.9zM79.8 105.1h.9v.9h-.9zM107.9 102.1h.9v.9h-.9zM91.4 107.1h.9v.9h-.9zM83.6 106.7h.9v.9h-.9zM99.2 98.7h.9v.9h-.9zM94.8 111.7h.9v.9h-.9zM100.4 107.9h.9v.9h-.9zM101.4 109.2h.9v.9h-.9zM120.3 75.4h.9v.9h-.9zM95.9 78.6h.9v.9h-.9zM114.6 95.7h.9v.9h-.9zM113.6 99.3h.9v.9h-.9zM103.8 111.6h.9v.9h-.9zM92.6 102.5h.9v.9h-.9zM108.9 123.0h.9v.9h-.9zM84.8 103.5h.9v.9h-.9zM93.6 101.1h.9v.9h-.9zM90.1 92.8h.9v.9h-.9zM96.8 108.7h.9v.9h-.9zM99.0 126.7h.9v.9h-.9zM110.6 90.8h.9v.9h-.9zM86.9 107.3h.9v.9h-.9zM94.9 91.2h.9v.9h-.9zM89.7 96.1h.9v.9h-.9zM92.9 115.6h.9v.9h-.9zM107.5 84.6h.9v.9h-.9zM92.4 117.0h.9v.9h-.9zM97.5 118.0h.9v.9h-.9zM82.8 101.2h.9v.9h-.9zM101.4 118.5h.9v.9h-.9zM108.7 96.4h.9v.9h-.9zM122.0 89.3h.9v.9h-.9zM119.7 68.9h.9v.9h-.9zM86.3 101.2h.9v.9h-.9zM78.6 108.3h.9v.9h-.9zM88.7 94.7h.9v.9h-.9zM107.4 96.3h.9v.9h-.9zM99.2 101.8h.9v.9h-.9zM77.0 111.9h.9v.9h-.9zM91.6 122.5h.9v.9h-.9zM78.5 118.4h.9v.9h-.9zM87.7 117.1h.9v.9h-.9zM112.6 98.2h.9v.9h-.9zM111.7 87.9h.9v.9h-.9zM121.5 102.0h.9v.9h-.9zM102.4 88.6h.9v.9h-.9zM95.7 115.3h.9v.9h-.9zM74.1 112.5h.9v.9h-.9zM74.2 114.3h.9v.9h-.9zM110.7 103.8h.9v.9h-.9zM98.1 97.9h.9v.9h-.9zM110.5 89.6h.9v.9h-.9zM113.4 81.8h.9v.9h-.9zM75.3 120.2h.9v.9h-.9zM77.2 109.9h.9v.9h-.9zM95.7 92.5h.9v.9h-.9zM128.0 101.1h.9v.9h-.9zM79.0 112.0h.9v.9h-.9zM100.0 111.2h.9v.9h-.9zM105.2 104.6h.9v.9h-.9zM88.8 89.1h.9v.9h-.9zM110.8 109.5h.9v.9h-.9zM101.9 98.1h.9v.9h-.9zM105.2 109.1h.9v.9h-.9zM94.8 107.5h.9v.9h-.9zM100.0 99.9h.9v.9h-.9zM105.7 92.9h.9v.9h-.9zM93.2 103.9h.9v.9h-.9zM84.3 126.5h.9v.9h-.9zM122.7 80.7h.9v.9h-.9zM90.1 109.8h.9v.9h-.9zM98.5 102.6h.9v.9h-.9zM94.6 95.7h.9v.9h-.9zM79.6 104.4h.9v.9h-.9zM108.9 113.7h.9v.9h-.9zM85.6 111.6h.9v.9h-.9zM105.5 97.3h.9v.9h-.9zM80.3 110.3h.9v.9h-.9zM93.3 104.2h.9v.9h-.9zM96.4 100.4h.9v.9h-.9zM131.5 91.9h.9v.9h-.9zM87.6 105.4h.9v.9h-.9zM103.5 104.1h.9v.9h-.9zM115.9 101.1h.9v.9h-.9zM94.3 115.4h.9v.9h-.9zM90.9 104.1h.9v.9h-.9zM88.7 109.2h.9v.9h-.9zM117.9 102.7h.9v.9h-.9zM127.5 106.8h.9v.9h-.9zM87.8 114.8h.9v.9h-.9zM114.3 88.7h.9v.9h-.9zM91.3 106.5h.9v.9h-.9zM91.7 101.4h.9v.9h-.9zM89.9 109.5h.9v.9h-.9zM107.8 91.2h.9v.9h-.9zM84.5 104.8h.9v.9h-.9zM93.9 110.1h.9v.9h-.9zM115.0 92.7h.9v.9h-.9zM89.0 107.4h.9v.9h-.9zM103.8 104.4h.9v.9h-.9zM121.6 71.3h.9v.9h-.9zM92.9 106.1h.9v.9h-.9zM100.0 98.4h.9v.9h-.9zM101.6 108.9h.9v.9h-.9zM95.6 105.8h.9v.9h-.9zM112.1 88.8h.9v.9h-.9zM89.7 118.1h.9v.9h-.9zM99.1 101.0h.9v.9h-.9zM79.4 119.9h.9v.9h-.9zM96.0 107.2h.9v.9h-.9zM82.1 104.6h.9v.9h-.9zM94.9 108.1h.9v.9h-.9zM97.6 102.1h.9v.9h-.9zM125.3 96.5h.9v.9h-.9zM86.6 111.4h.9v.9h-.9zM93.6 115.3h.9v.9h-.9zM79.8 106.9h.9v.9h-.9zM88.1 117.5h.9v.9h-.9zM93.1 107.1h.9v.9h-.9zM100.2 99.3h.9v.9h-.9zM82.8 107.0h.9v.9h-.9zM106.5 84.5h.9v.9h-.9zM109.9 96.9h.9v.9h-.9zM87.4 116.3h.9v.9h-.9zM111.3 72.3h.9v.9h-.9zM100.5 96.4h.9v.9h-.9zM84.3 106.9h.9v.9h-.9zM71.6 104.4h.9v.9h-.9zM81.2 113.3h.9v.9h-.9zM77.4 119.1h.9v.9h-.9zM113.6 91.9h.9v.9h-.9zM68.9 119.2h.9v.9h-.9zM89.8 113.9h.9v.9h-.9zM117.6 99.1h.9v.9h-.9zM110.5 103.3h.9v.9h-.9zM115.3 107.2h.9v.9h-.9zM106.1 98.4h.9v.9h-.9zM117.7 84.2h.9v.9h-.9zM105.1 106.0h.9v.9h-.9zM137.6 21.1h.9v.9h-.9zM127.3 37.2h.9v.9h-.9zM130.9 45.5h.9v.9h-.9zM124.5 39.7h.9v.9h-.9zM119.2 71.8h.9v.9h-.9zM120.1 77.6h.9v.9h-.9zM122.9 67.4h.9v.9h-.9zM123.6 72.0h.9v.9h-.9zM123.4 64.3h.9v.9h-.9zM125.7 53.2h.9v.9h-.9zM119.5 67.5h.9v.9h-.9zM125.9 25.9h.9v.9h-.9zM118.8 80.9h.9v.9h-.9zM122.2 68.8h.9v.9h-.9zM123.6 83.2h.9v.9h-.9zM124.2 60.9h.9v.9h-.9zM131.5 20.4h.9v.9h-.9zM122.6 62.6h.9v.9h-.9zM123.0 34.2h.9v.9h-.9zM124.5 45.7h.9v.9h-.9zM129.0 37.5h.9v.9h-.9zM138.1 22.1h.9v.9h-.9zM121.7 71.2h.9v.9h-.9zM127.2 27.5h.9v.9h-.9zM123.2 74.3h.9v.9h-.9zM119.8 78.4h.9v.9h-.9zM120.9 75.3h.9v.9h-.9zM121.3 86.8h.9v.9h-.9zM123.6 63.0h.9v.9h-.9zM125.2 49.1h.9v.9h-.9zM121.0 79.6h.9v.9h-.9zM130.0 26.6h.9v.9h-.9zM124.4 39.3h.9v.9h-.9zM123.3 24.0h.9v.9h-.9zM125.3 58.8h.9v.9h-.9zM120.9 71.0h.9v.9h-.9zM116.2 53.0h.9v.9h-.9zM122.1 89.5h.9v.9h-.9zM123.3 61.0h.9v.9h-.9zM130.2 27.0h.9v.9h-.9zM130.3 28.4h.9v.9h-.9zM124.8 46.5h.9v.9h-.9zM120.5 79.8h.9v.9h-.9zM121.5 65.3h.9v.9h-.9zM125.1 52.0h.9v.9h-.9zM125.3 44.3h.9v.9h-.9zM122.9 76.8h.9v.9h-.9zM121.1 59.1h.9v.9h-.9zM132.2 26.1h.9v.9h-.9zM122.1 66.9h.9v.9h-.9zM123.9 36.6h.9v.9h-.9zM113.9 84.5h.9v.9h-.9zM128.2 25.8h.9v.9h-.9zM134.1 20.1h.9v.9h-.9zM132.9 25.3h.9v.9h-.9zM127.4 55.7h.9v.9h-.9zM121.2 60.3h.9v.9h-.9zM119.6 80.7h.9v.9h-.9zM117.6 75.1h.9v.9h-.9zM126.3 44.3h.9v.9h-.9zM120.6 39.9h.9v.9h-.9zM124.3 47.9h.9v.9h-.9zM123.5 62.3h.9v.9h-.9zM125.7 67.3h.9v.9h-.9zM131.5 63.0h.9v.9h-.9zM121.4 61.9h.9v.9h-.9zM121.0 64.7h.9v.9h-.9zM120.3 79.5h.9v.9h-.9zM127.1 62.2h.9v.9h-.9zM130.3 34.2h.9v.9h-.9zM124.4 52.8h.9v.9h-.9zM125.0 50.6h.9v.9h-.9zM122.7 49.0h.9v.9h-.9zM123.2 52.0h.9v.9h-.9zM121.7 71.5h.9v.9h-.9zM118.9 77.9h.9v.9h-.9zM124.7 24.8h.9v.9h-.9zM122.8 47.1h.9v.9h-.9zM125.7 66.6h.9v.9h-.9zM122.6 57.7h.9v.9h-.9zM122.9 52.2h.9v.9h-.9zM128.6 58.8h.9v.9h-.9zM121.9 75.4h.9v.9h-.9zM122.4 73.2h.9v.9h-.9zM122.2 69.8h.9v.9h-.9zM126.8 45.4h.9v.9h-.9zM131.9 30.3h.9v.9h-.9zM129.2 44.3h.9v.9h-.9zM127.9 40.1h.9v.9h-.9zM124.2 67.8h.9v.9h-.9zM121.2 87.9h.9v.9h-.9zM119.2 88.0h.9v.9h-.9zM121.6 69.5h.9v.9h-.9zM124.5 61.5h.9v.9h-.9zM122.2 63.0h.9v.9h-.9zM123.6 64.2h.9v.9h-.9zM122.5 83.2h.9v.9h-.9zM133.3 36.0h.9v.9h-.9zM129.1 58.6h.9v.9h-.9zM129.2 46.4h.9v.9h-.9zM124.0 49.1h.9v.9h-.9zM131.5 24.9h.9v.9h-.9zM125.9 58.6h.9v.9h-.9zM123.3 50.7h.9v.9h-.9zM118.5 76.4h.9v.9h-.9zM124.7 57.3h.9v.9h-.9zM124.6 52.6h.9v.9h-.9zM132.6 22.0h.9v.9h-.9zM124.9 39.3h.9v.9h-.9zM118.2 74.7h.9v.9h-.9zM125.0 46.8h.9v.9h-.9zM125.7 53.5h.9v.9h-.9zM126.7 23.1h.9v.9h-.9zM129.3 41.9h.9v.9h-.9zM119.7 89.7h.9v.9h-.9zM131.4 39.3h.9v.9h-.9zM124.4 74.2h.9v.9h-.9zM131.5 52.1h.9v.9h-.9zM131.6 30.1h.9v.9h-.9zM122.9 72.0h.9v.9h-.9zM125.6 80.6h.9v.9h-.9zM122.1 68.1h.9v.9h-.9zM124.5 67.7h.9v.9h-.9zM125.6 31.6h.9v.9h-.9zM125.0 48.3h.9v.9h-.9zM130.5 37.0h.9v.9h-.9zM123.4 85.0h.9v.9h-.9zM124.6 68.2h.9v.9h-.9zM121.7 76.6h.9v.9h-.9zM120.2 80.0h.9v.9h-.9zM127.6 46.8h.9v.9h-.9zM126.4 23.5h.9v.9h-.9zM119.4 73.7h.9v.9h-.9zM123.9 51.2h.9v.9h-.9zM116.6 78.5h.9v.9h-.9zM129.6 50.4h.9v.9h-.9zM128.7 29.0h.9v.9h-.9zM121.9 58.6h.9v.9h-.9zM124.5 63.2h.9v.9h-.9zM131.5 56.9h.9v.9h-.9zM136.7 30.8h.9v.9h-.9zM124.7 50.8h.9v.9h-.9zM123.0 67.9h.9v.9h-.9zM125.3 32.9h.9v.9h-.9zM132.2 44.4h.9v.9h-.9zM128.2 36.7h.9v.9h-.9zM121.4 63.9h.9v.9h-.9zM124.0 67.6h.9v.9h-.9zM120.0 71.7h.9v.9h-.9zM125.6 49.2h.9v.9h-.9zM133.4 39.7h.9v.9h-.9zM123.5 28.4h.9v.9h-.9zM125.9 84.0h.9v.9h-.9zM123.7 67.9h.9v.9h-.9zM117.9 86.7h.9v.9h-.9zM120.4 62.9h.9v.9h-.9zM123.3 52.2h.9v.9h-.9zM122.1 63.8h.9v.9h-.9zM131.9 24.0h.9v.9h-.9zM118.6 80.8h.9v.9h-.9zM120.0 88.5h.9v.9h-.9zM127.3 63.2h.9v.9h-.9zM132.4 38.5h.9v.9h-.9zM128.6 56.0h.9v.9h-.9zM117.3 82.6h.9v.9h-.9zM118.0 83.8h.9v.9h-.9zM125.2 50.1h.9v.9h-.9zM132.3 28.1h.9v.9h-.9zM120.5 64.7h.9v.9h-.9zM124.8 41.3h.9v.9h-.9zM121.1 81.1h.9v.9h-.9zM128.6 63.9h.9v.9h-.9zM121.9 86.4h.9v.9h-.9zM127.2 54.2h.9v.9h-.9zM128.0 33.8h.9v.9h-.9zM119.1 87.6h.9v.9h-.9zM121.1 63.0h.9v.9h-.9zM125.7 56.4h.9v.9h-.9zM127.7 40.1h.9v.9h-.9zM122.2 83.4h.9v.9h-.9zM130.2 25.4h.9v.9h-.9zM111.1 43.9h.9v.9h-.9zM127.0 84.4h.9v.9h-.9zM120.5 42.0h.9v.9h-.9zM115.1 40.7h.9v.9h-.9zM124.9 47.8h.9v.9h-.9zM103.1 63.3h.9v.9h-.9zM126.9 54.6h.9v.9h-.9zM120.7 78.0h.9v.9h-.9zM127.9 76.1h.9v.9h-.9zM96.8 82.9h.9v.9h-.9zM104.7 67.7h.9v.9h-.9zM91.3 94.7h.9v.9h-.9zM115.0 77.3h.9v.9h-.9zM117.4 96.1h.9v.9h-.9zM78.8 93.0h.9v.9h-.9zM96.8 74.7h.9v.9h-.9zM116.2 93.0h.9v.9h-.9zM123.4 76.0h.9v.9h-.9zM131.0 24.7h.9v.9h-.9zM128.5 23.3h.9v.9h-.9zM117.2 56.6h.9v.9h-.9zM115.4 52.5h.9v.9h-.9zM101.2 99.4h.9v.9h-.9zM86.0 81.9h.9v.9h-.9zM122.7 69.1h.9v.9h-.9zM92.2 89.9h.9v.9h-.9zM111.1 93.5h.9v.9h-.9zM119.9 68.8h.9v.9h-.9zM93.1 71.1h.9v.9h-.9zM78.6 93.3h.9v.9h-.9zM108.6 81.2h.9v.9h-.9zM110.0 85.6h.9v.9h-.9zM92.0 80.9h.9v.9h-.9zM89.9 92.8h.9v.9h-.9zM131.2 64.1h.9v.9h-.9zM128.7 85.8h.9v.9h-.9zM115.8 47.1h.9v.9h-.9zM90.6 73.8h.9v.9h-.9zM115.5 74.7h.9v.9h-.9zM91.9 75.7h.9v.9h-.9zM125.1 95.9h.9v.9h-.9zM113.7 87.6h.9v.9h-.9zM124.0 54.7h.9v.9h-.9zM130.3 21.5h.9v.9h-.9zM102.0 66.1h.9v.9h-.9zM112.8 41.5h.9v.9h-.9zM114.0 59.3h.9v.9h-.9zM116.0 90.8h.9v.9h-.9zM123.7 59.6h.9v.9h-.9zM109.3 54.9h.9v.9h-.9zM129.8 76.7h.9v.9h-.9zM122.1 48.0h.9v.9h-.9zM130.1 23.5h.9v.9h-.9zM96.4 69.5h.9v.9h-.9zM104.3 77.2h.9v.9h-.9zM122.7 57.0h.9v.9h-.9zM100.9 81.5h.9v.9h-.9zM118.2 80.5h.9v.9h-.9zM130.8 75.9h.9v.9h-.9zM122.3 88.7h.9v.9h-.9zM126.4 72.2h.9v.9h-.9zM99.5 90.3h.9v.9h-.9zM113.5 63.4h.9v.9h-.9zM123.6 51.4h.9v.9h-.9zM127.9 98.1h.9v.9h-.9zM116.7 90.4h.9v.9h-.9zM120.4 33.5h.9v.9h-.9zM125.8 52.0h.9v.9h-.9zM120.7 67.5h.9v.9h-.9zM91.2 86.5h.9v.9h-.9zM115.1 68.6h.9v.9h-.9zM79.9 23.4h.9v.9h-.9zM110.3 86.7h.9v.9h-.9zM87.5 55.6h.9v.9h-.9zM90.1 91.5h.9v.9h-.9zM116.5 45.9h.9v.9h-.9zM88.1 89.3h.9v.9h-.9zM119.7 65.8h.9v.9h-.9zM106.9 26.3h.9v.9h-.9zM89.3 59.7h.9v.9h-.9zM109.4 64.3h.9v.9h-.9zM123.0 67.6h.9v.9h-.9zM86.5 77.1h.9v.9h-.9zM103.7 57.2h.9v.9h-.9zM83.3 67.9h.9v.9h-.9zM82.9 78.1h.9v.9h-.9zM105.7 85.7h.9v.9h-.9zM103.4 59.5h.9v.9h-.9zM90.2 38.4h.9v.9h-.9zM127.1 46.5h.9v.9h-.9zM126.5 37.1h.9v.9h-.9zM87.1 74.8h.9v.9h-.9zM117.9 22.7h.9v.9h-.9zM94.3 38.7h.9v.9h-.9zM119.2 29.0h.9v.9h-.9zM105.4 85.2h.9v.9h-.9zM116.8 42.2h.9v.9h-.9zM92.5 39.0h.9v.9h-.9zM111.0 55.7h.9v.9h-.9zM123.9 84.4h.9v.9h-.9zM121.9 81.7h.9v.9h-.9zM127.1 23.2h.9v.9h-.9zM80.5 44.6h.9v.9h-.9zM106.5 26.2h.9v.9h-.9zM114.9 57.3h.9v.9h-.9zM100.5 87.2h.9v.9h-.9zM119.5 70.3h.9v.9h-.9zM88.2 54.5h.9v.9h-.9zM89.4 68.7h.9v.9h-.9zM114.7 90.0h.9v.9h-.9zM117.4 46.3h.9v.9h-.9zM76.1 67.3h.9v.9h-.9zM107.5 45.6h.9v.9h-.9zM94.2 73.3h.9v.9h-.9zM112.5 61.5h.9v.9h-.9zM91.6 40.0h.9v.9h-.9zM96.5 64.9h.9v.9h-.9zM125.9 86.3h.9v.9h-.9zM92.5 44.7h.9v.9h-.9zM125.0 90.3h.9v.9h-.9zM94.1 76.0h.9v.9h-.9zM125.6 55.0h.9v.9h-.9zM121.8 29.0h.9v.9h-.9zM115.9 33.3h.9v.9h-.9zM118.8 82.8h.9v.9h-.9zM112.8 88.5h.9v.9h-.9zM124.1 56.3h.9v.9h-.9zM116.4 38.8h.9v.9h-.9zM121.1 71.6h.9v.9h-.9zM109.8 56.9h.9v.9h-.9zM76.5 90.5h.9v.9h-.9zM82.6 36.2h.9v.9h-.9zM124.2 65.4h.9v.9h-.9zM124.0 32.2h.9v.9h-.9zM110.7 52.9h.9v.9h-.9zM124.5 91.0h.9v.9h-.9zM95.1 36.4h.9v.9h-.9zM109.6 55.1h.9v.9h-.9zM85.1 41.8h.9v.9h-.9zM116.6 79.7h.9v.9h-.9zM86.7 50.6h.9v.9h-.9zM99.6 48.4h.9v.9h-.9zM118.1 35.4h.9v.9h-.9zM116.2 54.5h.9v.9h-.9zM91.8 60.1h.9v.9h-.9zM77.3 43.5h.9v.9h-.9zM106.4 46.5h.9v.9h-.9zM104.3 46.3h.9v.9h-.9zM109.0 90.4h.9v.9h-.9zM86.1 91.3h.9v.9h-.9zM119.0 37.7h.9v.9h-.9zM81.6 73.3h.9v.9h-.9zM107.7 52.9h.9v.9h-.9zM111.6 45.4h.9v.9h-.9zM124.4 80.9h.9v.9h-.9zM95.5 57.9h.9v.9h-.9zM123.8 76.3h.9v.9h-.9zM119.0 54.3h.9v.9h-.9zM127.9 47.9h.9v.9h-.9zM98.2 67.3h.9v.9h-.9zM88.5 52.8h.9v.9h-.9zM94.6 35.0h.9v.9h-.9zM57.0 135.6h.9v.9h-.9zM59.7 127.6h.9v.9h-.9zM61.0 107.1h.9v.9h-.9zM58.8 103.5h.9v.9h-.9zM58.3 132.8h.9v.9h-.9zM65.0 102.8h.9v.9h-.9zM59.9 122.5h.9v.9h-.9zM59.3 128.8h.9v.9h-.9zM69.1 101.6h.9v.9h-.9zM63.2 134.6h.9v.9h-.9zM57.4 124.6h.9v.9h-.9zM56.3 123.5h.9v.9h-.9zM55.7 134.4h.9v.9h-.9zM60.5 126.9h.9v.9h-.9zM62.3 133.4h.9v.9h-.9zM61.0 116.1h.9v.9h-.9zM148.0 82.5h.9v.9h-.9z" fill="#4646f6"/>
<path d="M110.4 108.0h.9v.9h-.9zM120.5 90.9h.9v.9h-.9zM121.8 91.3h.9v.9h-.9zM96.7 110.1h.9v.9h-.9zM106.5 96.4h.9v.9h-.9zM110.6 110.8h.9v.9h-.9zM110.8 106.7h.9v.9h-.9zM112.5 93.3h.9v.9h-.9zM105.1 102.9h.9v.9h-.9zM112.0 108.5h.9v.9h-.9zM109.8 105.9h.9v.9h-.9zM101.8 105.6h.9v.9h-.9zM122.9 97.9h.9v.9h-.9zM113.9 106.2h.9v.9h-.9zM109.3 120.6h.9v.9h-.9zM117.7 106.6h.9v.9h-.9zM108.0 105.3h.9v.9h-.9zM104.7 110.5h.9v.9h-.9zM113.3 95.8h.9v.9h-.9zM112.0 97.0h.9v.9h-.9zM109.6 120.5h.9v.9h-.9zM111.4 118.4h.9v.9h-.9zM107.4 104.2h.9v.9h-.9zM110.7 97.4h.9v.9h-.9zM111.5 106.2h.9v.9h-.9zM119.8 94.0h.9v.9h-.9zM106.2 106.7h.9v.9h-.9zM109.4 110.2h.9v.9h-.9zM99.3 113.1h.9v.9h-.9zM93.7 117.8h.9v.9h-.9zM108.4 112.5h.9v.9h-.9zM120.3 95.1h.9v.9h-.9zM112.3 115.2h.9v.9h-.9zM117.7 104.6h.9v.9h-.9zM115.1 98.6h.9v.9h-.9zM115.1 104.4h.9v.9h-.9zM104.7 113.2h.9v.9h-.9zM110.3 104.9h.9v.9h-.9zM103.1 111.3h.9v.9h-.9zM124.5 98.2h.9v.9h-.9zM103.7 95.6h.9v.9h-.9zM110.9 92.6h.9v.9h-.9zM105.6 101.4h.9v.9h-.9zM107.7 108.4h.9v.9h-.9zM106.1 113.8h.9v.9h-.9zM111.3 100.7h.9v.9h-.9zM121.8 104.1h.9v.9h-.9zM117.6 104.3h.9v.9h-.9zM109.1 91.0h.9v.9h-.9zM102.6 114.2h.9v.9h-.9zM118.2 87.7h.9v.9h-.9zM110.1 93.8h.9v.9h-.9zM103.5 103.7h.9v.9h-.9zM99.4 110.6h.9v.9h-.9zM102.0 118.1h.9v.9h-.9zM111.1 99.1h.9v.9h-.9zM101.0 101.0h.9v.9h-.9zM116.2 103.4h.9v.9h-.9zM108.5 116.1h.9v.9h-.9zM109.3 104.2h.9v.9h-.9zM98.3 112.3h.9v.9h-.9zM116.1 99.7h.9v.9h-.9zM102.8 110.8h.9v.9h-.9zM106.5 109.6h.9v.9h-.9zM111.3 102.7h.9v.9h-.9zM124.2 97.7h.9v.9h-.9zM116.1 90.4h.9v.9h-.9zM104.3 114.1h.9v.9h-.9zM119.9 99.2h.9v.9h-.9zM109.9 102.0h.9v.9h-.9zM118.4 97.6h.9v.9h-.9zM98.6 109.5h.9v.9h-.9zM111.5 104.3h.9v.9h-.9zM106.0 97.4h.9v.9h-.9zM104.5 100.3h.9v.9h-.9zM104.1 114.5h.9v.9h-.9zM113.3 102.7h.9v.9h-.9zM115.2 109.3h.9v.9h-.9zM78.8 111.5h.9v.9h-.9zM79.3 111.8h.9v.9h-.9zM87.6 103.0h.9v.9h-.9zM80.2 113.9h.9v.9h-.9zM80.9 110.1h.9v.9h-.9zM82.2 110.8h.9v.9h-.9zM85.2 113.3h.9v.9h-.9zM80.8 117.1h.9v.9h-.9zM78.6 116.3h.9v.9h-.9zM72.9 106.9h.9v.9h-.9zM90.7 109.9h.9v.9h-.9zM85.2 113.4h.9v.9h-.9zM89.8 112.0h.9v.9h-.9zM70.9 126.0h.9v.9h-.9zM97.2 110.0h.9v.9h-.9zM87.7 118.3h.9v.9h-.9zM71.7 116.0h.9v.9h-.9zM83.1 112.0h.9v.9h-.9zM86.4 107.6h.9v.9h-.9zM73.9 111.3h.9v.9h-.9zM92.1 114.0h.9v.9h-.9zM79.6 112.4h.9v.9h-.9zM85.6 119.0h.9v.9h-.9zM83.2 117.0h.9v.9h-.9zM86.0 117.0h.9v.9h-.9zM94.0 103.1h.9v.9h-.9zM80.5 114.0h.9v.9h-.9zM84.9 110.3h.9v.9h-.9zM76.7 110.4h.9v.9h-.9zM92.2 109.2h.9v.9h-.9zM73.7 106.6h.9v.9h-.9zM77.3 115.0h.9v.9h-.9zM79.6 112.2h.9v.9h-.9zM86.6 111.6h.9v.9h-.9zM78.5 111.7h.9v.9h-.9zM74.3 114.3h.9v.9h-.9zM81.4 117.7h.9v.9h-.9zM89.6 104.5h.9v.9h-.9zM86.1 113.1h.9v.9h-.9zM94.5 109.8h.9v.9h-.9zM77.8 109.2h.9v.9h-.9zM69.1 121.1h.9v.9h-.9zM87.4 107.1h.9v.9h-.9zM82.0 106.9h.9v.9h-.9zM92.1 109.9h.9v.9h-.9zM73.9 118.2h.9v.9h-.9zM78.4 105.6h.9v.9h-.9zM91.6 113.4h.9v.9h-.9zM78.2 115.8h.9v.9h-.9zM88.1 106.8h.9v.9h-.9zM81.5 115.8h.9v.9h-.9zM82.3 110.6h.9v.9h-.9zM70.3 128.0h.9v.9h-.9zM62.7 132.9h.9v.9h-.9zM67.4 129.1h.9v.9h-.9zM72.1 132.6h.9v.9h-.9zM69.8 131.3h.9v.9h-.9zM58.7 129.4h.9v.9h-.9zM75.4 129.1h.9v.9h-.9zM73.5 130.8h.9v.9h-.9zM65.5 131.0h.9v.9h-.9zM78.9 122.1h.9v.9h-.9zM76.5 121.3h.9v.9h-.9zM72.0 120.2h.9v.9h-.9zM100.2 100.3h.9v.9h-.9zM71.6 119.8h.9v.9h-.9zM107.5 105.1h.9v.9h-.9zM94.0 109.4h.9v.9h-.9zM73.6 119.1h.9v.9h-.9zM94.8 105.5h.9v.9h-.9zM88.7 109.7h.9v.9h-.9zM105.4 107.8h.9v.9h-.9zM119.5 88.3h.9v.9h-.9zM107.2 107.0h.9v.9h-.9zM97.4 118.1h.9v.9h-.9zM106.3 94.7h.9v.9h-.9zM101.3 118.5h.9v.9h-.9zM99.2 97.9h.9v.9h-.9zM100.0 97.9h.9v.9h-.9zM105.9 99.4h.9v.9h-.9zM89.6 106.9h.9v.9h-.9zM102.0 112.7h.9v.9h-.9zM94.4 110.9h.9v.9h-.9zM115.4 95.8h.9v.9h-.9zM114.7 96.6h.9v.9h-.9zM119.6 98.0h.9v.9h-.9zM80.8 105.0h.9v.9h-.9zM120.2 87.6h.9v.9h-.9zM122.9 49.5h.9v.9h-.9zM118.5 79.2h.9v.9h-.9zM122.2 84.1h.9v.9h-.9zM121.1 79.0h.9v.9h-.9zM120.2 63.0h.9v.9h-.9zM123.3 84.0h.9v.9h-.9zM107.7 98.9h.9v.9h-.9zM84.9 99.8h.9v.9h-.9zM122.1 48.1h.9v.9h-.9zM112.0 95.5h.9v.9h-.9zM122.4 79.3h.9v.9h-.9zM63.8 126.9h.9v.9h-.9z" fill="#10b0b0"/>
<path d="M102.3 112.8h.9v.9h-.9zM110.0 100.5h.9v.9h-.9zM115.1 102.9h.9v.9h-.9zM115.0 105.4h.9v.9h-.9zM109.7 110.8h.9v.9h-.9zM113.2 100.9h.9v.9h-.9zM106.0 106.9h.9v.9h-.9zM116.3 99.4h.9v.9h-.9zM109.0 106.7h.9v.9h-.9zM112.2 95.9h.9v.9h-.9zM105.2 112.3h.9v.9h-.9zM118.0 91.9h.9v.9h-.9zM115.4 101.7h.9v.9h-.9zM109.8 109.1h.9v.9h-.9zM106.9 112.6h.9v.9h-.9zM103.3 106.7h.9v.9h-.9zM110.4 101.7h.9v.9h-.9zM103.9 109.1h.9v.9h-.9zM106.4 105.8h.9v.9h-.9zM108.3 108.5h.9v.9h-.9zM105.9 108.0h.9v.9h-.9zM112.7 108.5h.9v.9h-.9zM107.6 107.6h.9v.9h-.9zM113.1 93.8h.9v.9h-.9zM114.1 103.3h.9v.9h-.9zM108.4 108.1h.9v.9h-.9zM106.6 107.7h.9v.9h-.9zM107.7 114.2h.9v.9h-.9zM108.1 107.8h.9v.9h-.9zM109.3 107.0h.9v.9h-.9zM109.5 112.1h.9v.9h-.9zM111.0 98.3h.9v.9h-.9zM106.2 106.4h.9v.9h-.9zM105.5 105.2h.9v.9h-.9zM115.7 105.0h.9v.9h-.9zM108.7 102.5h.9v.9h-.9zM104.5 99.9h.9v.9h-.9zM113.6 97.6h.9v.9h-.9zM117.7 105.3h.9v.9h-.9zM108.0 110.7h.9v.9h-.9zM108.0 105.0h.9v.9h-.9zM107.8 111.3h.9v.9h-.9zM114.2 97.7h.9v.9h-.9zM109.9 105.9h.9v.9h-.9zM115.3 91.9h.9v.9h-.9zM109.8 104.2h.9v.9h-.9zM110.0 99.7h.9v.9h-.9zM115.6 103.8h.9v.9h-.9zM102.3 118.7h.9v.9h-.9zM99.8 107.4h.9v.9h-.9zM114.6 104.4h.9v.9h-.9zM106.4 106.9h.9v.9h-.9zM115.0 101.5h.9v.9h-.9zM98.0 108.8h.9v.9h-.9zM110.5 101.1h.9v.9h-.9zM111.9 106.7h.9v.9h-.9zM109.9 104.7h.9v.9h-.9zM109.0 111.6h.9v.9h-.9zM110.0 96.2h.9v.9h-.9zM103.9 107.8h.9v.9h-.9zM114.5 91.7h.9v.9h-.9zM108.6 110.9h.9v.9h-.9zM114.9 108.6h.9v.9h-.9zM109.6 107.7h.9v.9h-.9zM110.0 110.9h.9v.9h-.9zM118.5 95.4h.9v.9h-.9zM104.1 104.3h.9v.9h-.9zM109.7 104.7h.9v.9h-.9zM107.5 108.4h.9v.9h-.9zM116.0 94.4h.9v.9h-.9zM110.2 103.7h.9v.9h-.9zM106.6 104.2h.9v.9h-.9zM108.4 107.3h.9v.9h-.9zM109.9 106.2h.9v.9h-.9zM111.7 109.3h.9v.9h-.9zM117.3 97.0h.9v.9h-.9zM108.3 105.3h.9v.9h-.9zM118.1 93.5h.9v.9h-.9zM111.9 101.2h.9v.9h-.9zM116.2 94.6h.9v.9h-.9zM112.8 95.3h.9v.9h-.9zM112.6 107.0h.9v.9h-.9zM115.3 111.3h.9v.9h-.9zM107.8 105.1h.9v.9h-.9zM110.4 104.3h.9v.9h-.9zM117.8 92.3h.9v.9h-.9zM117.1 94.6h.9v.9h-.9zM105.4 105.8h.9v.9h-.9zM110.4 93.9h.9v.9h-.9zM114.3 100.1h.9v.9h-.9zM109.4 101.9h.9v.9h-.9zM115.1 102.5h.9v.9h-.9zM115.3 97.9h.9v.9h-.9zM108.6 99.0h.9v.9h-.9zM110.5 102.8h.9v.9h-.9zM114.4 97.7h.9v.9h-.9zM107.7 100.2h.9v.9h-.9zM105.0 110.8h.9v.9h-.9zM110.5 116.3h.9v.9h-.9zM111.8 101.5h.9v.9h-.9zM112.6 106.5h.9v.9h-.9zM109.9 112.4h.9v.9h-.9zM109.6 102.2h.9v.9h-.9zM111.8 101.7h.9v.9h-.9zM115.6 104.2h.9v.9h-.9zM111.8 101.7h.9v.9h-.9zM107.9 104.5h.9v.9h-.9zM100.6 108.2h.9v.9h-.9zM102.9 104.4h.9v.9h-.9zM102.9 112.6h.9v.9h-.9zM108.7 105.3h.9v.9h-.9zM114.6 101.5h.9v.9h-.9zM104.8 108.7h.9v.9h-.9zM111.5 107.5h.9v.9h-.9zM119.1 97.5h.9v.9h-.9zM111.7 94.5h.9v.9h-.9zM112.8 109.7h.9v.9h-.9zM101.7 118.6h.9v.9h-.9zM115.3 97.9h.9v.9h-.9zM112.9 94.5h.9v.9h-.9zM108.7 110.5h.9v.9h-.9zM104.1 99.3h.9v.9h-.9zM111.3 99.5h.9v.9h-.9zM109.0 118.9h.9v.9h-.9zM103.1 106.6h.9v.9h-.9zM106.9 112.9h.9v.9h-.9zM100.0 109.3h.9v.9h-.9zM105.7 107.1h.9v.9h-.9zM113.1 103.6h.9v.9h-.9zM108.7 105.9h.9v.9h-.9zM114.9 109.9h.9v.9h-.9zM106.6 108.2h.9v.9h-.9zM113.5 103.7h.9v.9h-.9zM100.7 104.2h.9v.9h-.9zM106.0 105.0h.9v.9h-.9zM110.0 89.6h.9v.9h-.9zM108.2 105.4h.9v.9h-.9zM109.5 109.9h.9v.9h-.9zM110.2 101.6h.9v.9h-.9zM107.5 109.1h.9v.9h-.9zM117.7 93.8h.9v.9h-.9zM104.3 104.1h.9v.9h-.9zM103.8 108.6h.9v.9h-.9zM113.7 99.7h.9v.9h-.9zM116.1 100.1h.9v.9h-.9zM116.2 106.0h.9v.9h-.9zM113.0 100.2h.9v.9h-.9zM100.5 104.9h.9v.9h-.9zM103.0 100.1h.9v.9h-.9zM113.6 99.0h.9v.9h-.9zM107.4 108.1h.9v.9h-.9zM88.3 110.5h.9v.9h-.9zM95.9 114.5h.9v.9h-.9zM94.6 111.0h.9v.9h-.9zM77.5 118.9h.9v.9h-.9zM87.6 113.4h.9v.9h-.9zM85.9 109.3h.9v.9h-.9zM100.0 107.9h.9v.9h-.9zM85.3 113.2h.9v.9h-.9zM83.6 114.3h.9v.9h-.9zM81.6 115.0h.9v.9h-.9zM96.9 116.3h.9v.9h-.9zM87.1 113.5h.9v.9h-.9zM83.8 109.9h.9v.9h-.9zM91.8 108.1h.9v.9h-.9zM82.4 120.5h.9v.9h-.9zM86.3 106.4h.9v.9h-.9zM78.1 109.5h.9v.9h-.9zM85.9 110.5h.9v.9h-.9zM74.9 112.7h.9v.9h-.9zM86.9 110.2h.9v.9h-.9zM77.3 112.3h.9v.9h-.9zM87.7 117.5h.9v.9h-.9zM75.8 111.6h.9v.9h-.9zM89.5 104.1h.9v.9h-.9zM92.5 108.4h.9v.9h-.9zM83.6 113.6h.9v.9h-.9zM80.0 114.1h.9v.9h-.9zM81.6 106.5h.9v.9h-.9zM83.3 113.6h.9v.9h-.9zM83.2 121.3h.9v.9h-.9zM96.7 102.5h.9v.9h-.9zM80.1 106.8h.9v.9h-.9zM83.6 116.8h.9v.9h-.9zM83.8 109.9h.9v.9h-.9zM83.6 111.4h.9v.9h-.9zM93.2 107.2h.9v.9h-.9zM81.7 112.6h.9v.9h-.9zM82.1 109.2h.9v.9h-.9zM93.7 115.1h.9v.9h-.9zM83.3 116.6h.9v.9h-.9zM89.6 105.2h.9v.9h-.9zM78.7 111.0h.9v.9h-.9zM82.5 104.8h.9v.9h-.9zM102.4 108.8h.9v.9h-.9zM79.7 113.3h.9v.9h-.9zM87.4 111.5h.9v.9h-.9zM81.2 108.4h.9v.9h-.9zM89.0 118.0h.9v.9h-.9zM87.8 103.4h.9v.9h-.9zM77.5 113.8h.9v.9h-.9zM86.8 107.6h.9v.9h-.9zM75.1 116.6h.9v.9h-.9zM84.9 111.4h.9v.9h-.9zM85.6 111.5h.9v.9h-.9zM85.1 112.3h.9v.9h-.9zM82.4 106.9h.9v.9h-.9zM85.3 110.1h.9v.9h-.9zM96.6 110.9h.9v.9h-.9zM83.8 110.4h.9v.9h-.9zM84.4 109.1h.9v.9h-.9zM86.4 110.8h.9v.9h-.9zM83.3 111.6h.9v.9h-.9zM79.4 114.6h.9v.9h-.9zM79.6 118.7h.9v.9h-.9zM82.5 113.7h.9v.9h-.9zM74.6 109.4h.9v.9h-.9zM88.8 106.2h.9v.9h-.9zM78.9 104.8h.9v.9h-.9zM79.8 113.1h.9v.9h-.9zM86.0 112.9h.9v.9h-.9zM86.4 114.2h.9v.9h-.9zM86.5 106.1h.9v.9h-.9zM86.8 114.3h.9v.9h-.9zM83.4 120.8h.9v.9h-.9zM77.5 117.2h.9v.9h-.9zM71.4 116.7h.9v.9h-.9zM85.6 110.7h.9v.9h-.9zM84.7 113.4h.9v.9h-.9zM84.5 114.2h.9v.9h-.9zM81.6 106.6h.9v.9h-.9zM82.9 111.7h.9v.9h-.9zM83.3 112.7h.9v.9h-.9zM95.3 107.6h.9v.9h-.9zM80.7 104.3h.9v.9h-.9zM80.2 111.7h.9v.9h-.9zM82.2 117.8h.9v.9h-.9zM92.3 109.9h.9v.9h-.9zM74.4 116.7h.9v.9h-.9zM88.6 108.6h.9v.9h-.9zM85.4 112.8h.9v.9h-.9zM81.7 113.7h.9v.9h-.9zM92.1 108.8h.9v.9h-.9zM87.7 117.4h.9v.9h-.9zM87.4 112.1h.9v.9h-.9zM83.4 107.5h.9v.9h-.9zM71.5 130.6h.9v.9h-.9zM71.5 132.1h.9v.9h-.9zM64.6 128.7h.9v.9h-.9zM61.0 131.4h.9v.9h-.9zM76.7 130.1h.9v.9h-.9zM68.0 130.2h.9v.9h-.9zM70.2 131.7h.9v.9h-.9zM63.4 132.3h.9v.9h-.9zM76.1 127.7h.9v.9h-.9zM60.5 131.1h.9v.9h-.9zM70.8 120.9h.9v.9h-.9zM76.6 118.8h.9v.9h-.9zM75.7 126.6h.9v.9h-.9zM74.8 123.8h.9v.9h-.9zM88.4 118.8h.9v.9h-.9zM63.8 128.8h.9v.9h-.9zM72.1 120.9h.9v.9h-.9zM65.9 128.1h.9v.9h-.9zM111.9 104.5h.9v.9h-.9zM86.7 108.5h.9v.9h-.9zM111.3 97.9h.9v.9h-.9zM85.3 110.2h.9v.9h-.9zM103.9 103.8h.9v.9h-.9zM111.2 97.8h.9v.9h-.9zM109.8 92.0h.9v.9h-.9zM78.1 102.5h.9v.9h-.9zM96.6 118.0h.9v.9h-.9zM114.1 94.2h.9v.9h-.9zM97.9 103.3h.9v.9h-.9zM82.8 105.8h.9v.9h-.9zM114.8 96.3h.9v.9h-.9zM114.4 98.3h.9v.9h-.9zM103.6 106.7h.9v.9h-.9zM97.5 100.5h.9v.9h-.9zM115.2 100.9h.9v.9h-.9zM88.2 115.0h.9v.9h-.9zM106.3 104.2h.9v.9h-.9zM87.7 106.9h.9v.9h-.9zM91.0 110.2h.9v.9h-.9zM100.7 104.8h.9v.9h-.9zM89.0 110.7h.9v.9h-.9zM89.5 112.4h.9v.9h-.9zM102.3 112.6h.9v.9h-.9zM122.4 50.8h.9v.9h-.9zM125.3 56.3h.9v.9h-.9zM130.9 23.6h.9v.9h-.9zM121.7 74.4h.9v.9h-.9zM121.4 74.5h.9v.9h-.9zM125.5 56.2h.9v.9h-.9zM126.8 53.6h.9v.9h-.9zM119.9 71.7h.9v.9h-.9zM121.8 89.7h.9v.9h-.9zM122.7 71.4h.9v.9h-.9zM124.7 65.9h.9v.9h-.9zM111.4 97.8h.9v.9h-.9zM113.5 95.2h.9v.9h-.9zM113.6 87.4h.9v.9h-.9zM124.1 65.9h.9v.9h-.9zM61.3 131.5h.9v.9h-.9z" fill="#20d820"/>
<path d="M113.1 112.0h.9v.9h-.9zM111.2 109.0h.9v.9h-.9zM110.4 101.6h.9v.9h-.9zM107.3 111.7h.9v.9h-.9zM112.2 97.5h.9v.9h-.9zM109.8 98.6h.9v.9h-.9zM109.5 106.1h.9v.9h-.9zM105.7 109.4h.9v.9h-.9zM104.9 103.3h.9v.9h-.9zM109.7 110.1h.9v.9h-.9zM107.3 111.3h.9v.9h-.9zM108.7 106.7h.9v.9h-.9zM109.5 101.5h.9v.9h-.9zM111.6 105.7h.9v.9h-.9zM107.4 112.7h.9v.9h-.9zM102.0 111.8h.9v.9h-.9zM107.7 103.0h.9v.9h-.9zM110.4 97.1h.9v.9h-.9zM111.9 112.9h.9v.9h-.9zM106.6 106.5h.9v.9h-.9zM116.1 92.6h.9v.9h-.9zM111.5 112.5h.9v.9h-.9zM110.8 106.2h.9v.9h-.9zM111.9 100.1h.9v.9h-.9zM108.4 101.3h.9v.9h-.9zM104.8 109.4h.9v.9h-.9zM105.4 99.6h.9v.9h-.9zM88.3 106.3h.9v.9h-.9zM74.0 116.4h.9v.9h-.9zM80.2 116.7h.9v.9h-.9zM85.1 111.2h.9v.9h-.9zM81.7 120.3h.9v.9h-.9zM84.3 107.2h.9v.9h-.9zM102.1 104.1h.9v.9h-.9zM80.6 114.1h.9v.9h-.9zM87.1 111.6h.9v.9h-.9zM98.0 108.2h.9v.9h-.9zM83.6 118.7h.9v.9h-.9zM86.5 114.8h.9v.9h-.9zM75.9 110.8h.9v.9h-.9zM79.5 110.2h.9v.9h-.9zM79.4 114.9h.9v.9h-.9zM80.0 108.5h.9v.9h-.9zM75.1 113.4h.9v.9h-.9zM81.9 113.3h.9v.9h-.9zM85.8 113.5h.9v.9h-.9zM116.0 103.4h.9v.9h-.9zM86.7 113.2h.9v.9h-.9zM109.5 95.8h.9v.9h-.9zM82.9 106.3h.9v.9h-.9zM85.4 112.9h.9v.9h-.9zM88.4 109.7h.9v.9h-.9z" fill="#e6e020"/>
<path d="M108.7 106.8h.9v.9h-.9zM115.7 97.4h.9v.9h-.9zM108.4 108.6h.9v.9h-.9zM115.8 100.8h.9v.9h-.9zM107.6 110.2h.9v.9h-.9zM111.0 104.0h.9v.9h-.9zM108.6 110.3h.9v.9h-.9zM110.2 108.9h.9v.9h-.9zM110.1 109.5h.9v.9h-.9zM84.6 113.1h.9v.9h-.9zM85.1 112.4h.9v.9h-.9zM82.7 114.0h.9v.9h-.9zM81.6 112.6h.9v.9h-.9zM81.5 113.6h.9v.9h-.9zM104.4 104.3h.9v.9h-.9zM79.3 112.1h.9v.9h-.9zM107.4 104.2h.9v.9h-.9z" fill="#f08020"/>
<path d="M115.2 109.4h.9v.9h-.9zM104.2 103.4h.9v.9h-.9zM99.5 110.4h.9v.9h-.9zM114.6 109.8h.9v.9h-.9zM109.9 107.5h.9v.9h-.9zM117.6 96.6h.9v.9h-.9zM110.9 104.6h.9v.9h-.9zM114.2 99.5h.9v.9h-.9zM117.4 96.7h.9v.9h-.9zM114.9 105.9h.9v.9h-.9zM113.7 102.7h.9v.9h-.9zM77.5 116.5h.9v.9h-.9zM78.2 116.8h.9v.9h-.9zM75.8 112.0h.9v.9h-.9zM86.6 113.0h.9v.9h-.9zM89.7 108.8h.9v.9h-.9zM111.6 104.6h.9v.9h-.9zM111.3 99.8h.9v.9h-.9zM109.8 93.1h.9v.9h-.9zM79.9 106.0h.9v.9h-.9zM110.5 110.2h.9v.9h-.9z" fill="#e01818"/>
<path d="M53.8,17.0H176.0V139.4H53.8Z" fill="none" stroke="#000" stroke-width="1.2"/>
<line x1="50.2" y1="139.4" x2="53.8" y2="139.4" stroke="#000" stroke-width="1"/>
<line x1="51.8" y1="133.4" x2="53.8" y2="133.4" stroke="#000" stroke-width="1"/>
<line x1="51.8" y1="127.4" x2="53.8" y2="127.4" stroke="#000" stroke-width="1"/>
<line x1="51.8" y1="121.4" x2="53.8" y2="121.4" stroke="#000" stroke-width="1"/>
<line x1="50.2" y1="115.4" x2="53.8" y2="115.4" stroke="#000" stroke-width="1"/>
<line x1="51.8" y1="109.4" x2="53.8" y2="109.4" stroke="#000" stroke-width="1"/>
<line x1="51.8" y1="103.4" x2="53.8" y2="103.4" stroke="#000" stroke-width="1"/>
<line x1="51.8" y1="97.4" x2="53.8" y2="97.4" stroke="#000" stroke-width="1"/>
<line x1="50.2" y1="91.4" x2="53.8" y2="91.4" stroke="#000" stroke-width="1"/>
<line x1="51.8" y1="85.4" x2="53.8" y2="85.4" stroke="#000" stroke-width="1"/>
<line x1="51.8" y1="79.4" x2="53.8" y2="79.4" stroke="#000" stroke-width="1"/>
<line x1="51.8" y1="73.4" x2="53.8" y2="73.4" stroke="#000" stroke-width="1"/>
<line x1="50.2" y1="67.4" x2="53.8" y2="67.4" stroke="#000" stroke-width="1"/>
<line x1="51.8" y1="61.4" x2="53.8" y2="61.4" stroke="#000" stroke-width="1"/>
<line x1="51.8" y1="55.4" x2="53.8" y2="55.4" stroke="#000" stroke-width="1"/>
<line x1="51.8" y1="49.4" x2="53.8" y2="49.4" stroke="#000" stroke-width="1"/>
<line x1="50.2" y1="43.4" x2="53.8" y2="43.4" stroke="#000" stroke-width="1"/>
<line x1="51.8" y1="37.4" x2="53.8" y2="37.4" stroke="#000" stroke-width="1"/>
<line x1="51.8" y1="31.4" x2="53.8" y2="31.4" stroke="#000" stroke-width="1"/>
<line x1="51.8" y1="25.4" x2="53.8" y2="25.4" stroke="#000" stroke-width="1"/>
<line x1="50.2" y1="19.4" x2="53.8" y2="19.4" stroke="#000" stroke-width="1"/>
<text x="48" y="142.4" font-size="6.6" text-anchor="end" textLength="4.8" lengthAdjust="spacingAndGlyphs" fill="#231f20" stroke="#231f20" stroke-width="0.1">0</text>
<text x="48" y="118.4" font-size="6.6" text-anchor="end" textLength="14" lengthAdjust="spacingAndGlyphs" fill="#231f20" stroke="#231f20" stroke-width="0.1">200</text>
<text x="48" y="94.4" font-size="6.6" text-anchor="end" textLength="14" lengthAdjust="spacingAndGlyphs" fill="#231f20" stroke="#231f20" stroke-width="0.1">400</text>
<text x="48" y="70.4" font-size="6.6" text-anchor="end" textLength="14" lengthAdjust="spacingAndGlyphs" fill="#231f20" stroke="#231f20" stroke-width="0.1">600</text>
<text x="48" y="46.4" font-size="6.6" text-anchor="end" textLength="14" lengthAdjust="spacingAndGlyphs" fill="#231f20" stroke="#231f20" stroke-width="0.1">800</text>
<text x="48" y="22.4" font-size="6.6" text-anchor="end" textLength="15.2" lengthAdjust="spacingAndGlyphs" fill="#231f20" stroke="#231f20" stroke-width="0.1">1.0K</text>
<line x1="53.8" y1="139.4" x2="53.8" y2="142.6" stroke="#000" stroke-width="1"/>
<line x1="63" y1="139.4" x2="63" y2="141.2" stroke="#000" stroke-width="1"/>
<line x1="68.38" y1="139.4" x2="68.38" y2="141.2" stroke="#000" stroke-width="1"/>
<line x1="72.19" y1="139.4" x2="72.19" y2="141.2" stroke="#000" stroke-width="1"/>
<line x1="75.15" y1="139.4" x2="75.15" y2="141.2" stroke="#000" stroke-width="1"/>
<line x1="77.57" y1="139.4" x2="77.57" y2="141.2" stroke="#000" stroke-width="1"/>
<line x1="79.62" y1="139.4" x2="79.62" y2="141.2" stroke="#000" stroke-width="1"/>
<line x1="81.39" y1="139.4" x2="81.39" y2="141.2" stroke="#000" stroke-width="1"/>
<line x1="82.95" y1="139.4" x2="82.95" y2="141.2" stroke="#000" stroke-width="1"/>
<line x1="84.35" y1="139.4" x2="84.35" y2="142.6" stroke="#000" stroke-width="1"/>
<line x1="93.55" y1="139.4" x2="93.55" y2="141.2" stroke="#000" stroke-width="1"/>
<line x1="98.93" y1="139.4" x2="98.93" y2="141.2" stroke="#000" stroke-width="1"/>
<line x1="102.74" y1="139.4" x2="102.74" y2="141.2" stroke="#000" stroke-width="1"/>
<line x1="105.7" y1="139.4" x2="105.7" y2="141.2" stroke="#000" stroke-width="1"/>
<line x1="108.12" y1="139.4" x2="108.12" y2="141.2" stroke="#000" stroke-width="1"/>
<line x1="110.17" y1="139.4" x2="110.17" y2="141.2" stroke="#000" stroke-width="1"/>
<line x1="111.94" y1="139.4" x2="111.94" y2="141.2" stroke="#000" stroke-width="1"/>
<line x1="113.5" y1="139.4" x2="113.5" y2="141.2" stroke="#000" stroke-width="1"/>
<line x1="114.9" y1="139.4" x2="114.9" y2="142.6" stroke="#000" stroke-width="1"/>
<line x1="124.1" y1="139.4" x2="124.1" y2="141.2" stroke="#000" stroke-width="1"/>
<line x1="129.48" y1="139.4" x2="129.48" y2="141.2" stroke="#000" stroke-width="1"/>
<line x1="133.29" y1="139.4" x2="133.29" y2="141.2" stroke="#000" stroke-width="1"/>
<line x1="136.25" y1="139.4" x2="136.25" y2="141.2" stroke="#000" stroke-width="1"/>
<line x1="138.67" y1="139.4" x2="138.67" y2="141.2" stroke="#000" stroke-width="1"/>
<line x1="140.72" y1="139.4" x2="140.72" y2="141.2" stroke="#000" stroke-width="1"/>
<line x1="142.49" y1="139.4" x2="142.49" y2="141.2" stroke="#000" stroke-width="1"/>
<line x1="144.05" y1="139.4" x2="144.05" y2="141.2" stroke="#000" stroke-width="1"/>
<line x1="145.45" y1="139.4" x2="145.45" y2="142.6" stroke="#000" stroke-width="1"/>
<line x1="154.65" y1="139.4" x2="154.65" y2="141.2" stroke="#000" stroke-width="1"/>
<line x1="160.03" y1="139.4" x2="160.03" y2="141.2" stroke="#000" stroke-width="1"/>
<line x1="163.84" y1="139.4" x2="163.84" y2="141.2" stroke="#000" stroke-width="1"/>
<line x1="166.8" y1="139.4" x2="166.8" y2="141.2" stroke="#000" stroke-width="1"/>
<line x1="169.22" y1="139.4" x2="169.22" y2="141.2" stroke="#000" stroke-width="1"/>
<line x1="171.27" y1="139.4" x2="171.27" y2="141.2" stroke="#000" stroke-width="1"/>
<line x1="173.04" y1="139.4" x2="173.04" y2="141.2" stroke="#000" stroke-width="1"/>
<line x1="174.6" y1="139.4" x2="174.6" y2="141.2" stroke="#000" stroke-width="1"/>
<line x1="176" y1="139.4" x2="176" y2="142.6" stroke="#000" stroke-width="1"/>
<text x="48.3" y="151.6" font-size="7.2">10<tspan dy="-2.8" font-size="5">0</tspan></text>
<text x="78.85" y="151.6" font-size="7.2">10<tspan dy="-2.8" font-size="5">1</tspan></text>
<text x="109.4" y="151.6" font-size="7.2">10<tspan dy="-2.8" font-size="5">2</tspan></text>
<text x="139.95" y="151.6" font-size="7.2">10<tspan dy="-2.8" font-size="5">3</tspan></text>
<text x="170.5" y="151.6" font-size="7.2">10<tspan dy="-2.8" font-size="5">4</tspan></text>
<text x="53.4" y="167.7" font-size="9.4" font-weight="bold" textLength="15" lengthAdjust="spacingAndGlyphs" fill="#1a1a1a">CD14</text>
<line x1="72.3" y1="165.5" x2="168" y2="165.5" stroke="#000" stroke-width="1.1"/>
<path d="M172.6,165.5 L166.8,162.6 L166.8,168.4 Z" fill="#000"/>
<ellipse cx="114.4" cy="103" rx="18.4" ry="21.6" fill="none" stroke="#b0121e" stroke-width="1.5" transform="rotate(-8 114.4 103)"/>
<line x1="132.8" y1="104.2" x2="205" y2="104.2" stroke="#b0121e" stroke-width="1.5"/>
<path d="M212,104.2 L204,100.6 L204,107.8 Z" fill="#b0121e"/>
<path d="M228.6,20.5 C228.9,29.35 228.91,31.13 229.6,50 C230.29,68.87 229.64,68.7 230.9,83.4 C232.16,98.1 232.33,93.12 233.8,99 C235.27,104.88 234.63,101.5 235.8,103 C236.97,104.5 236.53,103.1 237.7,104 C238.87,104.9 238.53,109.24 239.7,106 C240.87,102.76 240.43,101.15 241.6,93.2 C242.77,85.25 242.43,84.18 243.6,79.5 C244.77,74.82 244.33,81.11 245.5,77.6 C246.67,74.09 246.33,73.98 247.5,67.8 C248.67,61.62 248.23,57 249.4,57 C250.57,57 250.17,64.95 251.4,67.8 C252.63,70.65 252.03,65.93 253.5,66.5 C254.97,67.07 254.89,69.31 256.3,69.7 C257.71,70.09 257.15,68.97 258.2,67.8 C259.25,66.63 258.9,62.29 259.8,65.8 C260.7,69.31 260.21,71.28 261.2,79.5 C262.19,87.72 261.63,88.79 263.1,93.2 C264.57,97.61 264.33,93.6 266.1,94.2 C267.87,94.8 267.38,95.8 269,95.2 C270.62,94.6 270.03,90.46 271.5,92.2 C272.97,93.94 272.73,97.16 273.9,101 C275.07,104.84 274.35,107.34 275.4,105 C276.45,102.66 276.11,98.51 277.4,93.2 C278.69,87.89 278.41,87.3 279.7,87.3 C280.99,87.3 280.5,89.69 281.7,93.2 C282.9,96.71 282.56,97.26 283.7,99 C284.84,100.74 284.36,99.24 285.5,99 C286.64,98.76 286.3,98.2 287.5,98.2 C288.7,98.2 288.45,98.34 289.5,99 C290.55,99.66 290.13,98.78 291,100.4 C291.87,102.02 291.38,102.18 292.4,104.4 C293.42,106.62 292.99,107.2 294.4,107.8 C295.81,108.4 295.69,105.8 297.1,106.4 C298.51,107 297.87,105.96 299.1,109.8 C300.33,113.64 299.97,113.56 301.2,119.2 C302.43,124.84 302,125.15 303.2,128.6 C304.4,132.05 303.79,129.26 305.2,130.7 C306.61,132.14 306.28,131.81 307.9,133.4 C309.52,134.99 308.98,134.53 310.6,136 C312.22,137.47 311.68,137.52 313.3,138.3 C314.92,139.08 304.69,138.51 316,138.6 C327.31,138.69 340.5,138.6 351,138.6 L351,139.4 L228.6,139.4 Z" fill="#e08a96"/>
<path d="M228.6,20.5 C228.9,29.35 228.91,31.13 229.6,50 C230.29,68.87 229.64,68.7 230.9,83.4 C232.16,98.1 232.33,93.12 233.8,99 C235.27,104.88 234.63,101.5 235.8,103 C236.97,104.5 236.53,103.1 237.7,104 C238.87,104.9 238.53,109.24 239.7,106 C240.87,102.76 240.43,101.15 241.6,93.2 C242.77,85.25 242.43,84.18 243.6,79.5 C244.77,74.82 244.33,81.11 245.5,77.6 C246.67,74.09 246.33,73.98 247.5,67.8 C248.67,61.62 248.23,57 249.4,57 C250.57,57 250.17,64.95 251.4,67.8 C252.63,70.65 252.03,65.93 253.5,66.5 C254.97,67.07 254.89,69.31 256.3,69.7 C257.71,70.09 257.15,68.97 258.2,67.8 C259.25,66.63 258.9,62.29 259.8,65.8 C260.7,69.31 260.21,71.28 261.2,79.5 C262.19,87.72 261.63,88.79 263.1,93.2 C264.57,97.61 264.33,93.6 266.1,94.2 C267.87,94.8 267.38,95.8 269,95.2 C270.62,94.6 270.03,90.46 271.5,92.2 C272.97,93.94 272.73,97.16 273.9,101 C275.07,104.84 274.35,107.34 275.4,105 C276.45,102.66 276.11,98.51 277.4,93.2 C278.69,87.89 278.41,87.3 279.7,87.3 C280.99,87.3 280.5,89.69 281.7,93.2 C282.9,96.71 282.56,97.26 283.7,99 C284.84,100.74 284.36,99.24 285.5,99 C286.64,98.76 286.3,98.2 287.5,98.2 C288.7,98.2 288.45,98.34 289.5,99 C290.55,99.66 290.13,98.78 291,100.4 C291.87,102.02 291.38,102.18 292.4,104.4 C293.42,106.62 292.99,107.2 294.4,107.8 C295.81,108.4 295.69,105.8 297.1,106.4 C298.51,107 297.87,105.96 299.1,109.8 C300.33,113.64 299.97,113.56 301.2,119.2 C302.43,124.84 302,125.15 303.2,128.6 C304.4,132.05 303.79,129.26 305.2,130.7 C306.61,132.14 306.28,131.81 307.9,133.4 C309.52,134.99 308.98,134.53 310.6,136 C312.22,137.47 311.68,137.52 313.3,138.3 C314.92,139.08 304.69,138.51 316,138.6 C327.31,138.69 340.5,138.6 351,138.6" fill="none" stroke="#c8102e" stroke-width="1.1"/>
<path d="M228.6,20.5 C228.99,30.55 229.21,33.96 229.9,54 C230.59,74.04 230.03,75.54 230.9,87.3 C231.77,99.06 231.63,88.49 232.8,93.2 C233.97,97.91 233.63,99.16 234.8,103 C235.97,106.84 235.23,104.53 236.7,106 C238.17,107.47 237.93,110 239.7,107.9 C241.47,105.8 241.16,104.01 242.6,99 C244.04,93.99 243.33,96.18 244.5,91.2 C245.67,86.22 245.3,85.04 246.5,82.4 C247.7,79.76 247.33,86.21 248.5,82.4 C249.67,78.59 249.23,78.19 250.4,69.7 C251.57,61.21 251.53,59.65 252.4,54.1 C253.27,48.55 252.61,51.2 253.3,51.2 C253.99,51.2 253.8,50.86 254.7,54.1 C255.6,57.34 255.25,58.49 256.3,62 C257.35,65.51 257.15,62.89 258.2,65.8 C259.25,68.71 258.9,65.82 259.8,71.7 C260.7,77.58 260.21,76.01 261.2,85.4 C262.19,94.79 261.93,93.04 263.1,103 C264.27,112.96 263.93,112.15 265.1,118.6 C266.27,125.05 265.53,122.43 267,124.5 C268.47,126.57 267.93,126.67 270,125.5 C272.07,124.33 271.86,120.6 273.9,120.6 C275.94,120.6 274.76,123.46 276.8,125.5 C278.84,127.54 278.63,126.53 280.7,127.4 C282.77,128.27 282.11,127.68 283.7,128.4 C285.29,129.12 284.86,129.47 286,129.8 C287.14,130.13 286.39,130.34 287.5,129.5 C288.61,128.66 288.65,127.06 289.7,127 C290.75,126.94 290.01,126.99 291,129.3 C291.99,131.61 291.56,132.57 293,134.7 C294.44,136.83 294.15,135.65 295.8,136.4 C297.45,137.15 296.49,136.57 298.5,137.2 C300.51,137.83 286.75,138.08 302.5,138.5 C318.25,138.92 336.45,138.57 351,138.6 L351,139.4 L228.6,139.4 Z" fill="#92a6c1" fill-opacity="0.9"/>
<path d="M228.6,20.5 C228.99,30.55 229.21,33.96 229.9,54 C230.59,74.04 230.03,75.54 230.9,87.3 C231.77,99.06 231.63,88.49 232.8,93.2 C233.97,97.91 233.63,99.16 234.8,103 C235.97,106.84 235.23,104.53 236.7,106 C238.17,107.47 237.93,110 239.7,107.9 C241.47,105.8 241.16,104.01 242.6,99 C244.04,93.99 243.33,96.18 244.5,91.2 C245.67,86.22 245.3,85.04 246.5,82.4 C247.7,79.76 247.33,86.21 248.5,82.4 C249.67,78.59 249.23,78.19 250.4,69.7 C251.57,61.21 251.53,59.65 252.4,54.1 C253.27,48.55 252.61,51.2 253.3,51.2 C253.99,51.2 253.8,50.86 254.7,54.1 C255.6,57.34 255.25,58.49 256.3,62 C257.35,65.51 257.15,62.89 258.2,65.8 C259.25,68.71 258.9,65.82 259.8,71.7 C260.7,77.58 260.21,76.01 261.2,85.4 C262.19,94.79 261.93,93.04 263.1,103 C264.27,112.96 263.93,112.15 265.1,118.6 C266.27,125.05 265.53,122.43 267,124.5 C268.47,126.57 267.93,126.67 270,125.5 C272.07,124.33 271.86,120.6 273.9,120.6 C275.94,120.6 274.76,123.46 276.8,125.5 C278.84,127.54 278.63,126.53 280.7,127.4 C282.77,128.27 282.11,127.68 283.7,128.4 C285.29,129.12 284.86,129.47 286,129.8 C287.14,130.13 286.39,130.34 287.5,129.5 C288.61,128.66 288.65,127.06 289.7,127 C290.75,126.94 290.01,126.99 291,129.3 C291.99,131.61 291.56,132.57 293,134.7 C294.44,136.83 294.15,135.65 295.8,136.4 C297.45,137.15 296.49,136.57 298.5,137.2 C300.51,137.83 301.3,138.11 302.5,138.5" fill="none" stroke="#1e5a96" stroke-width="1.1"/>
<path d="M301.2,119.2 C301.8,122.02 302,125.15 303.2,128.6 C304.4,132.05 303.79,129.26 305.2,130.7 C306.61,132.14 306.28,131.81 307.9,133.4 C309.52,134.99 308.98,134.53 310.6,136 C312.22,137.47 311.68,137.52 313.3,138.3 C314.92,139.08 304.69,138.51 316,138.6 C327.31,138.69 340.5,138.6 351,138.6" fill="none" stroke="#c8102e" stroke-width="1.1"/>
<path d="M228.3,17.2H351.2V139.4H228.3Z" fill="none" stroke="#000" stroke-width="1.2"/>
<line x1="225.7" y1="139.4" x2="228.3" y2="139.4" stroke="#000" stroke-width="1"/>
<line x1="225.7" y1="133.57" x2="228.3" y2="133.57" stroke="#000" stroke-width="1"/>
<line x1="225.7" y1="127.74" x2="228.3" y2="127.74" stroke="#000" stroke-width="1"/>
<line x1="225.7" y1="121.91" x2="228.3" y2="121.91" stroke="#000" stroke-width="1"/>
<line x1="225.7" y1="116.08" x2="228.3" y2="116.08" stroke="#000" stroke-width="1"/>
<line x1="225.7" y1="110.25" x2="228.3" y2="110.25" stroke="#000" stroke-width="1"/>
<line x1="225.7" y1="104.42" x2="228.3" y2="104.42" stroke="#000" stroke-width="1"/>
<line x1="225.7" y1="98.59" x2="228.3" y2="98.59" stroke="#000" stroke-width="1"/>
<line x1="225.7" y1="92.76" x2="228.3" y2="92.76" stroke="#000" stroke-width="1"/>
<line x1="225.7" y1="86.93" x2="228.3" y2="86.93" stroke="#000" stroke-width="1"/>
<line x1="225.7" y1="81.1" x2="228.3" y2="81.1" stroke="#000" stroke-width="1"/>
<line x1="225.7" y1="75.27" x2="228.3" y2="75.27" stroke="#000" stroke-width="1"/>
<line x1="225.7" y1="69.44" x2="228.3" y2="69.44" stroke="#000" stroke-width="1"/>
<line x1="225.7" y1="63.61" x2="228.3" y2="63.61" stroke="#000" stroke-width="1"/>
<line x1="225.7" y1="57.78" x2="228.3" y2="57.78" stroke="#000" stroke-width="1"/>
<line x1="225.7" y1="51.95" x2="228.3" y2="51.95" stroke="#000" stroke-width="1"/>
<line x1="225.7" y1="46.12" x2="228.3" y2="46.12" stroke="#000" stroke-width="1"/>
<line x1="225.7" y1="40.29" x2="228.3" y2="40.29" stroke="#000" stroke-width="1"/>
<line x1="225.7" y1="34.46" x2="228.3" y2="34.46" stroke="#000" stroke-width="1"/>
<line x1="225.7" y1="28.63" x2="228.3" y2="28.63" stroke="#000" stroke-width="1"/>
<line x1="225.7" y1="22.8" x2="228.3" y2="22.8" stroke="#000" stroke-width="1"/>
<line x1="228.3" y1="139.4" x2="228.3" y2="142.6" stroke="#000" stroke-width="1"/>
<line x1="237.55" y1="139.4" x2="237.55" y2="141.2" stroke="#000" stroke-width="1"/>
<line x1="242.96" y1="139.4" x2="242.96" y2="141.2" stroke="#000" stroke-width="1"/>
<line x1="246.8" y1="139.4" x2="246.8" y2="141.2" stroke="#000" stroke-width="1"/>
<line x1="249.78" y1="139.4" x2="249.78" y2="141.2" stroke="#000" stroke-width="1"/>
<line x1="252.21" y1="139.4" x2="252.21" y2="141.2" stroke="#000" stroke-width="1"/>
<line x1="254.27" y1="139.4" x2="254.27" y2="141.2" stroke="#000" stroke-width="1"/>
<line x1="256.05" y1="139.4" x2="256.05" y2="141.2" stroke="#000" stroke-width="1"/>
<line x1="257.62" y1="139.4" x2="257.62" y2="141.2" stroke="#000" stroke-width="1"/>
<line x1="259.02" y1="139.4" x2="259.02" y2="142.6" stroke="#000" stroke-width="1"/>
<line x1="268.27" y1="139.4" x2="268.27" y2="141.2" stroke="#000" stroke-width="1"/>
<line x1="273.68" y1="139.4" x2="273.68" y2="141.2" stroke="#000" stroke-width="1"/>
<line x1="277.52" y1="139.4" x2="277.52" y2="141.2" stroke="#000" stroke-width="1"/>
<line x1="280.5" y1="139.4" x2="280.5" y2="141.2" stroke="#000" stroke-width="1"/>
<line x1="282.93" y1="139.4" x2="282.93" y2="141.2" stroke="#000" stroke-width="1"/>
<line x1="284.99" y1="139.4" x2="284.99" y2="141.2" stroke="#000" stroke-width="1"/>
<line x1="286.77" y1="139.4" x2="286.77" y2="141.2" stroke="#000" stroke-width="1"/>
<line x1="288.34" y1="139.4" x2="288.34" y2="141.2" stroke="#000" stroke-width="1"/>
<line x1="289.75" y1="139.4" x2="289.75" y2="142.6" stroke="#000" stroke-width="1"/>
<line x1="299" y1="139.4" x2="299" y2="141.2" stroke="#000" stroke-width="1"/>
<line x1="304.41" y1="139.4" x2="304.41" y2="141.2" stroke="#000" stroke-width="1"/>
<line x1="308.25" y1="139.4" x2="308.25" y2="141.2" stroke="#000" stroke-width="1"/>
<line x1="311.23" y1="139.4" x2="311.23" y2="141.2" stroke="#000" stroke-width="1"/>
<line x1="313.66" y1="139.4" x2="313.66" y2="141.2" stroke="#000" stroke-width="1"/>
<line x1="315.72" y1="139.4" x2="315.72" y2="141.2" stroke="#000" stroke-width="1"/>
<line x1="317.5" y1="139.4" x2="317.5" y2="141.2" stroke="#000" stroke-width="1"/>
<line x1="319.07" y1="139.4" x2="319.07" y2="141.2" stroke="#000" stroke-width="1"/>
<line x1="320.48" y1="139.4" x2="320.48" y2="142.6" stroke="#000" stroke-width="1"/>
<line x1="329.72" y1="139.4" x2="329.72" y2="141.2" stroke="#000" stroke-width="1"/>
<line x1="335.13" y1="139.4" x2="335.13" y2="141.2" stroke="#000" stroke-width="1"/>
<line x1="338.97" y1="139.4" x2="338.97" y2="141.2" stroke="#000" stroke-width="1"/>
<line x1="341.95" y1="139.4" x2="341.95" y2="141.2" stroke="#000" stroke-width="1"/>
<line x1="344.38" y1="139.4" x2="344.38" y2="141.2" stroke="#000" stroke-width="1"/>
<line x1="346.44" y1="139.4" x2="346.44" y2="141.2" stroke="#000" stroke-width="1"/>
<line x1="348.22" y1="139.4" x2="348.22" y2="141.2" stroke="#000" stroke-width="1"/>
<line x1="349.79" y1="139.4" x2="349.79" y2="141.2" stroke="#000" stroke-width="1"/>
<line x1="351.2" y1="139.4" x2="351.2" y2="142.6" stroke="#000" stroke-width="1"/>
<text x="222.8" y="151.6" font-size="7.2">10<tspan dy="-2.8" font-size="5">0</tspan></text>
<text x="253.52" y="151.6" font-size="7.2">10<tspan dy="-2.8" font-size="5">1</tspan></text>
<text x="284.25" y="151.6" font-size="7.2">10<tspan dy="-2.8" font-size="5">2</tspan></text>
<text x="314.98" y="151.6" font-size="7.2">10<tspan dy="-2.8" font-size="5">3</tspan></text>
<text x="345.7" y="151.6" font-size="7.2">10<tspan dy="-2.8" font-size="5">4</tspan></text>
<text x="232.6" y="167.7" font-size="9.4" font-weight="bold" textLength="6.6" lengthAdjust="spacingAndGlyphs" fill="#1a1a1a">TF</text>
<line x1="243" y1="165.5" x2="347" y2="165.5" stroke="#000" stroke-width="1.1"/>
<path d="M351.2,165.5 L345.6,162.6 L345.6,168.4 Z" fill="#000"/>
<text x="285" y="42.8" font-size="7" textLength="11.8" lengthAdjust="spacingAndGlyphs" fill="#d03048" stroke="#d03048" stroke-width="0.1">IgG</text>
<text x="285" y="54.8" font-size="7" textLength="31.6" lengthAdjust="spacingAndGlyphs" fill="#1f5a8f" stroke="#1f5a8f" stroke-width="0.1">Abciximab</text>
<line x1="417.6" y1="6.5" x2="417.6" y2="141.6" stroke="#000" stroke-width="1.2"/>
<line x1="417" y1="139.4" x2="513" y2="139.4" stroke="#000" stroke-width="1.2"/>
<line x1="414.4" y1="139.4" x2="417.6" y2="139.4" stroke="#000" stroke-width="1"/>
<text x="411.7" y="142.2" font-size="7.9" text-anchor="end" textLength="4.55" lengthAdjust="spacingAndGlyphs" fill="#231f20" stroke="#231f20" stroke-width="0.1">0</text>
<line x1="414.4" y1="107.3" x2="417.6" y2="107.3" stroke="#000" stroke-width="1"/>
<text x="411.7" y="110.1" font-size="7.9" text-anchor="end" textLength="9.1" lengthAdjust="spacingAndGlyphs" fill="#231f20" stroke="#231f20" stroke-width="0.1">20</text>
<line x1="414.4" y1="75.2" x2="417.6" y2="75.2" stroke="#000" stroke-width="1"/>
<text x="411.7" y="78" font-size="7.9" text-anchor="end" textLength="9.1" lengthAdjust="spacingAndGlyphs" fill="#231f20" stroke="#231f20" stroke-width="0.1">40</text>
<line x1="414.4" y1="43.1" x2="417.6" y2="43.1" stroke="#000" stroke-width="1"/>
<text x="411.7" y="45.9" font-size="7.9" text-anchor="end" textLength="9.1" lengthAdjust="spacingAndGlyphs" fill="#231f20" stroke="#231f20" stroke-width="0.1">60</text>
<line x1="414.4" y1="11" x2="417.6" y2="11" stroke="#000" stroke-width="1"/>
<text x="411.7" y="13.8" font-size="7.9" text-anchor="end" textLength="9.1" lengthAdjust="spacingAndGlyphs" fill="#231f20" stroke="#231f20" stroke-width="0.1">80</text>
<rect x="430.9" y="45.8" width="28" height="93.6" fill="#e08a96"/>
<rect x="472" y="113.3" width="28" height="26.1" fill="#88a8c2"/>
<line x1="444.8" y1="36.4" x2="444.8" y2="55.4" stroke="#000" stroke-width="1.2"/>
<line x1="438.6" y1="36.4" x2="451" y2="36.4" stroke="#000" stroke-width="1.2"/>
<line x1="438.6" y1="55.4" x2="451" y2="55.4" stroke="#000" stroke-width="1.2"/>
<line x1="486" y1="106.8" x2="486" y2="121.5" stroke="#000" stroke-width="1.2"/>
<line x1="479.8" y1="106.8" x2="492.2" y2="106.8" stroke="#000" stroke-width="1.2"/>
<line x1="479.8" y1="121.5" x2="492.2" y2="121.5" stroke="#000" stroke-width="1.2"/>
<circle cx="444.6" cy="21.1" r="3" fill="#c8102e"/>
<circle cx="444.6" cy="42.4" r="3" fill="#c8102e"/>
<circle cx="444.6" cy="53.8" r="3" fill="#c8102e"/>
<circle cx="444.6" cy="66.6" r="3" fill="#c8102e"/>
<circle cx="486.2" cy="93.4" r="3" fill="#0f4f8c"/>
<circle cx="481.6" cy="117.3" r="3" fill="#0f4f8c"/>
<circle cx="490.2" cy="117.3" r="3" fill="#0f4f8c"/>
<circle cx="486.2" cy="127.5" r="3" fill="#0f4f8c"/>
<line x1="444.8" y1="139.4" x2="444.8" y2="142.4" stroke="#000" stroke-width="1"/>
<line x1="486" y1="139.4" x2="486" y2="142.4" stroke="#000" stroke-width="1"/>
<text x="486" y="79.6" font-size="9" text-anchor="middle" fill="#231f20" stroke="#231f20" stroke-width="0.1">*</text>
<text x="0" y="0" font-size="8" text-anchor="end" transform="translate(448.3,148.5) rotate(-45)">IgG</text>
<text x="0" y="0" font-size="7.6" text-anchor="end" transform="translate(489.4,148.6) rotate(-45)">Abciximab</text>
<text x="0" y="0" font-size="9" font-weight="bold" fill="#1a1a1a" text-anchor="middle" textLength="42" lengthAdjust="spacingAndGlyphs" transform="translate(398.2,75.8) rotate(-90)">CD14<tspan dy="-2.8" font-size="6.2">+</tspan><tspan dy="2.6">TF</tspan><tspan dy="-2.8" font-size="6.2">+</tspan><tspan dy="2.6"> (%)</tspan></text>
<text x="102.2" y="200.7" font-size="8.7" textLength="39.9" lengthAdjust="spacingAndGlyphs" fill="#231f20" stroke="#231f20" stroke-width="0.1">Abciximab</text>
<line x1="63.5" y1="203.7" x2="63.5" y2="379.6" stroke="#000" stroke-width="1.2"/>
<line x1="62.9" y1="379" x2="181.8" y2="379" stroke="#000" stroke-width="1.2"/>
<line x1="63.5" y1="379" x2="63.5" y2="382.2" stroke="#000" stroke-width="1"/>
<text x="63.5" y="390.6" font-size="7.5" text-anchor="middle" fill="#231f20" stroke="#231f20" stroke-width="0.1">0</text>
<line x1="92" y1="379" x2="92" y2="382.2" stroke="#000" stroke-width="1"/>
<text x="92" y="390.6" font-size="7.5" text-anchor="middle" fill="#231f20" stroke="#231f20" stroke-width="0.1">25</text>
<line x1="120.5" y1="379" x2="120.5" y2="382.2" stroke="#000" stroke-width="1"/>
<text x="120.5" y="390.6" font-size="7.5" text-anchor="middle" fill="#231f20" stroke="#231f20" stroke-width="0.1">50</text>
<line x1="149" y1="379" x2="149" y2="382.2" stroke="#000" stroke-width="1"/>
<text x="149" y="390.6" font-size="7.5" text-anchor="middle" fill="#231f20" stroke="#231f20" stroke-width="0.1">75</text>
<line x1="177.5" y1="379" x2="177.5" y2="382.2" stroke="#000" stroke-width="1"/>
<text x="177.5" y="390.6" font-size="7.5" text-anchor="middle" fill="#231f20" stroke="#231f20" stroke-width="0.1">100</text>
<text x="105.3" y="403.8" font-size="9" font-weight="bold" textLength="33.8" lengthAdjust="spacingAndGlyphs" fill="#1a1a1a">% Inhibition</text>
<line x1="60.5" y1="218.5" x2="63.5" y2="218.5" stroke="#000" stroke-width="1"/>
<text x="57.5" y="221.1" font-size="7.85" text-anchor="end" fill="#231f20" stroke="#231f20" stroke-width="0.1">CD41</text>
<rect x="64.1" y="211.2" width="4.6" height="14.6" fill="#c41430"/>
<line x1="68.7" y1="218.5" x2="76" y2="218.5" stroke="#333" stroke-width="1.1"/>
<line x1="76" y1="215.3" x2="76" y2="221.7" stroke="#333" stroke-width="1.1"/>
<line x1="60.5" y1="239.45" x2="63.5" y2="239.45" stroke="#000" stroke-width="1"/>
<text x="57.5" y="242.05" font-size="7.85" text-anchor="end" fill="#231f20" stroke="#231f20" stroke-width="0.1">CD16</text>
<rect x="64.1" y="232.15" width="34" height="14.6" fill="#c41430"/>
<line x1="98.1" y1="239.45" x2="100.2" y2="239.45" stroke="#333" stroke-width="1.1"/>
<line x1="100.2" y1="236.25" x2="100.2" y2="242.65" stroke="#333" stroke-width="1.1"/>
<circle cx="105" cy="239.45" r="1.1" fill="#111"/>
<line x1="60.5" y1="260.4" x2="63.5" y2="260.4" stroke="#000" stroke-width="1"/>
<text x="57.5" y="263" font-size="7.85" text-anchor="end" fill="#231f20" stroke="#231f20" stroke-width="0.1">TNF-α</text>
<rect x="64.1" y="253.1" width="99.7" height="14.6" fill="#c41430"/>
<line x1="163.8" y1="260.4" x2="167.3" y2="260.4" stroke="#333" stroke-width="1.1"/>
<line x1="167.3" y1="257.2" x2="167.3" y2="263.6" stroke="#333" stroke-width="1.1"/>
<circle cx="172.5" cy="260.4" r="1.1" fill="#111"/>
<line x1="60.5" y1="281.35" x2="63.5" y2="281.35" stroke="#000" stroke-width="1"/>
<text x="57.5" y="283.95" font-size="7.85" text-anchor="end" fill="#231f20" stroke="#231f20" stroke-width="0.1">IL-1β</text>
<rect x="64.1" y="274.05" width="78.7" height="14.6" fill="#c41430"/>
<line x1="142.8" y1="281.35" x2="159.5" y2="281.35" stroke="#333" stroke-width="1.1"/>
<line x1="159.5" y1="278.15" x2="159.5" y2="284.55" stroke="#333" stroke-width="1.1"/>
<circle cx="164.3" cy="281.35" r="1.1" fill="#111"/>
<line x1="60.5" y1="302.3" x2="63.5" y2="302.3" stroke="#000" stroke-width="1"/>
<text x="57.5" y="304.9" font-size="7.85" text-anchor="end" fill="#231f20" stroke="#231f20" stroke-width="0.1">MCP-1/CCL2</text>
<rect x="64.1" y="295" width="69.8" height="14.6" fill="#c41430"/>
<line x1="133.9" y1="302.3" x2="153.8" y2="302.3" stroke="#333" stroke-width="1.1"/>
<line x1="153.8" y1="299.1" x2="153.8" y2="305.5" stroke="#333" stroke-width="1.1"/>
<circle cx="158.9" cy="302.3" r="1.1" fill="#111"/>
<line x1="60.5" y1="323.25" x2="63.5" y2="323.25" stroke="#000" stroke-width="1"/>
<text x="57.5" y="325.85" font-size="7.85" text-anchor="end" fill="#231f20" stroke="#231f20" stroke-width="0.1">sCD62P</text>
<rect x="64.1" y="315.95" width="54.2" height="14.6" fill="#c41430"/>
<line x1="118.3" y1="323.25" x2="125.8" y2="323.25" stroke="#333" stroke-width="1.1"/>
<line x1="125.8" y1="320.05" x2="125.8" y2="326.45" stroke="#333" stroke-width="1.1"/>
<circle cx="131.2" cy="323.25" r="1.1" fill="#111"/>
<line x1="60.5" y1="344.2" x2="63.5" y2="344.2" stroke="#000" stroke-width="1"/>
<text x="57.5" y="346.8" font-size="7.85" text-anchor="end" fill="#231f20" stroke="#231f20" stroke-width="0.1">PDGF</text>
<rect x="64.1" y="336.9" width="59.8" height="14.6" fill="#c41430"/>
<line x1="123.9" y1="344.2" x2="146" y2="344.2" stroke="#333" stroke-width="1.1"/>
<line x1="146" y1="341" x2="146" y2="347.4" stroke="#333" stroke-width="1.1"/>
<circle cx="151.1" cy="344.2" r="1.1" fill="#111"/>
<line x1="60.5" y1="365.15" x2="63.5" y2="365.15" stroke="#000" stroke-width="1"/>
<text x="57.5" y="367.75" font-size="7.85" text-anchor="end" fill="#231f20" stroke="#231f20" stroke-width="0.1">PF4/CXCL4</text>
<text x="259.4" y="200.9" font-size="8.7" textLength="55.4" lengthAdjust="spacingAndGlyphs" fill="#231f20" stroke="#231f20" stroke-width="0.1">anti-TF 10H10</text>
<line x1="228.4" y1="203.7" x2="228.4" y2="379.6" stroke="#000" stroke-width="1.2"/>
<line x1="227.8" y1="379" x2="346.7" y2="379" stroke="#000" stroke-width="1.2"/>
<line x1="228.4" y1="379" x2="228.4" y2="382.2" stroke="#000" stroke-width="1"/>
<text x="228.4" y="390.6" font-size="7.5" text-anchor="middle" fill="#231f20" stroke="#231f20" stroke-width="0.1">0</text>
<line x1="256.9" y1="379" x2="256.9" y2="382.2" stroke="#000" stroke-width="1"/>
<text x="256.9" y="390.6" font-size="7.5" text-anchor="middle" fill="#231f20" stroke="#231f20" stroke-width="0.1">25</text>
<line x1="285.4" y1="379" x2="285.4" y2="382.2" stroke="#000" stroke-width="1"/>
<text x="285.4" y="390.6" font-size="7.5" text-anchor="middle" fill="#231f20" stroke="#231f20" stroke-width="0.1">50</text>
<line x1="313.9" y1="379" x2="313.9" y2="382.2" stroke="#000" stroke-width="1"/>
<text x="313.9" y="390.6" font-size="7.5" text-anchor="middle" fill="#231f20" stroke="#231f20" stroke-width="0.1">75</text>
<line x1="342.4" y1="379" x2="342.4" y2="382.2" stroke="#000" stroke-width="1"/>
<text x="342.4" y="390.6" font-size="7.5" text-anchor="middle" fill="#231f20" stroke="#231f20" stroke-width="0.1">100</text>
<text x="270.2" y="403.8" font-size="9" font-weight="bold" textLength="33.8" lengthAdjust="spacingAndGlyphs" fill="#1a1a1a">% Inhibition</text>
<line x1="225.4" y1="218.5" x2="228.4" y2="218.5" stroke="#000" stroke-width="1"/>
<rect x="229" y="211.2" width="13.6" height="14.6" fill="#105284"/>
<line x1="242.6" y1="218.5" x2="250.7" y2="218.5" stroke="#333" stroke-width="1.1"/>
<line x1="250.7" y1="215.3" x2="250.7" y2="221.7" stroke="#333" stroke-width="1.1"/>
<line x1="225.4" y1="239.45" x2="228.4" y2="239.45" stroke="#000" stroke-width="1"/>
<rect x="229" y="232.15" width="50.2" height="14.6" fill="#105284"/>
<line x1="279.2" y1="239.45" x2="288.1" y2="239.45" stroke="#333" stroke-width="1.1"/>
<line x1="288.1" y1="236.25" x2="288.1" y2="242.65" stroke="#333" stroke-width="1.1"/>
<circle cx="293" cy="239.45" r="1.1" fill="#111"/>
<line x1="225.4" y1="260.4" x2="228.4" y2="260.4" stroke="#000" stroke-width="1"/>
<rect x="229" y="253.1" width="99.2" height="14.6" fill="#105284"/>
<line x1="328.2" y1="260.4" x2="333.1" y2="260.4" stroke="#333" stroke-width="1.1"/>
<line x1="333.1" y1="257.2" x2="333.1" y2="263.6" stroke="#333" stroke-width="1.1"/>
<circle cx="338.5" cy="260.4" r="1.1" fill="#111"/>
<line x1="225.4" y1="281.35" x2="228.4" y2="281.35" stroke="#000" stroke-width="1"/>
<rect x="229" y="274.05" width="86.6" height="14.6" fill="#105284"/>
<line x1="315.6" y1="281.35" x2="320.2" y2="281.35" stroke="#333" stroke-width="1.1"/>
<line x1="320.2" y1="278.15" x2="320.2" y2="284.55" stroke="#333" stroke-width="1.1"/>
<circle cx="325.3" cy="281.35" r="1.1" fill="#111"/>
<line x1="225.4" y1="302.3" x2="228.4" y2="302.3" stroke="#000" stroke-width="1"/>
<line x1="225.4" y1="323.25" x2="228.4" y2="323.25" stroke="#000" stroke-width="1"/>
<rect x="229" y="315.95" width="22.8" height="14.6" fill="#105284"/>
<line x1="251.8" y1="323.25" x2="265.2" y2="323.25" stroke="#333" stroke-width="1.1"/>
<line x1="265.2" y1="320.05" x2="265.2" y2="326.45" stroke="#333" stroke-width="1.1"/>
<line x1="225.4" y1="344.2" x2="228.4" y2="344.2" stroke="#000" stroke-width="1"/>
<rect x="229" y="336.9" width="45.4" height="14.6" fill="#105284"/>
<line x1="274.4" y1="344.2" x2="303.2" y2="344.2" stroke="#333" stroke-width="1.1"/>
<line x1="303.2" y1="341" x2="303.2" y2="347.4" stroke="#333" stroke-width="1.1"/>
<line x1="225.4" y1="365.15" x2="228.4" y2="365.15" stroke="#000" stroke-width="1"/>
<text x="428.75" y="200.6" font-size="8.7" textLength="46.25" lengthAdjust="spacingAndGlyphs" fill="#231f20" stroke="#231f20" stroke-width="0.1">anti-TF 5G9</text>
<line x1="393.2" y1="203.7" x2="393.2" y2="379.6" stroke="#000" stroke-width="1.2"/>
<line x1="392.6" y1="379" x2="511.5" y2="379" stroke="#000" stroke-width="1.2"/>
<line x1="393.2" y1="379" x2="393.2" y2="382.2" stroke="#000" stroke-width="1"/>
<text x="393.2" y="390.6" font-size="7.5" text-anchor="middle" fill="#231f20" stroke="#231f20" stroke-width="0.1">0</text>
<line x1="421.7" y1="379" x2="421.7" y2="382.2" stroke="#000" stroke-width="1"/>
<text x="421.7" y="390.6" font-size="7.5" text-anchor="middle" fill="#231f20" stroke="#231f20" stroke-width="0.1">25</text>
<line x1="450.2" y1="379" x2="450.2" y2="382.2" stroke="#000" stroke-width="1"/>
<text x="450.2" y="390.6" font-size="7.5" text-anchor="middle" fill="#231f20" stroke="#231f20" stroke-width="0.1">50</text>
<line x1="478.7" y1="379" x2="478.7" y2="382.2" stroke="#000" stroke-width="1"/>
<text x="478.7" y="390.6" font-size="7.5" text-anchor="middle" fill="#231f20" stroke="#231f20" stroke-width="0.1">75</text>
<line x1="507.2" y1="379" x2="507.2" y2="382.2" stroke="#000" stroke-width="1"/>
<text x="507.2" y="390.6" font-size="7.5" text-anchor="middle" fill="#231f20" stroke="#231f20" stroke-width="0.1">100</text>
<text x="435" y="403.8" font-size="9" font-weight="bold" textLength="33.8" lengthAdjust="spacingAndGlyphs" fill="#1a1a1a">% Inhibition</text>
<line x1="390.2" y1="218.5" x2="393.2" y2="218.5" stroke="#000" stroke-width="1"/>
<rect x="393.8" y="211.2" width="5" height="14.6" fill="#3cb450"/>
<line x1="398.8" y1="218.5" x2="404" y2="218.5" stroke="#333" stroke-width="1.1"/>
<line x1="404" y1="215.3" x2="404" y2="221.7" stroke="#333" stroke-width="1.1"/>
<line x1="390.2" y1="239.45" x2="393.2" y2="239.45" stroke="#000" stroke-width="1"/>
<rect x="393.8" y="232.15" width="47.8" height="14.6" fill="#3cb450"/>
<line x1="441.6" y1="239.45" x2="446.8" y2="239.45" stroke="#333" stroke-width="1.1"/>
<line x1="446.8" y1="236.25" x2="446.8" y2="242.65" stroke="#333" stroke-width="1.1"/>
<circle cx="451.7" cy="239.45" r="1.1" fill="#111"/>
<line x1="390.2" y1="260.4" x2="393.2" y2="260.4" stroke="#000" stroke-width="1"/>
<rect x="393.8" y="253.1" width="100.2" height="14.6" fill="#3cb450"/>
<line x1="494" y1="260.4" x2="499.5" y2="260.4" stroke="#333" stroke-width="1.1"/>
<line x1="499.5" y1="257.2" x2="499.5" y2="263.6" stroke="#333" stroke-width="1.1"/>
<circle cx="504.4" cy="260.4" r="1.1" fill="#111"/>
<line x1="390.2" y1="281.35" x2="393.2" y2="281.35" stroke="#000" stroke-width="1"/>
<rect x="393.8" y="274.05" width="80.2" height="14.6" fill="#3cb450"/>
<line x1="474" y1="281.35" x2="481.8" y2="281.35" stroke="#333" stroke-width="1.1"/>
<line x1="481.8" y1="278.15" x2="481.8" y2="284.55" stroke="#333" stroke-width="1.1"/>
<circle cx="487" cy="281.35" r="1.1" fill="#111"/>
<line x1="390.2" y1="302.3" x2="393.2" y2="302.3" stroke="#000" stroke-width="1"/>
<line x1="390.2" y1="323.25" x2="393.2" y2="323.25" stroke="#000" stroke-width="1"/>
<rect x="393.8" y="315.95" width="92.7" height="14.6" fill="#3cb450"/>
<line x1="486.5" y1="323.25" x2="506.2" y2="323.25" stroke="#333" stroke-width="1.1"/>
<line x1="506.2" y1="320.05" x2="506.2" y2="326.45" stroke="#333" stroke-width="1.1"/>
<circle cx="511.4" cy="323.25" r="1.1" fill="#111"/>
<line x1="390.2" y1="344.2" x2="393.2" y2="344.2" stroke="#000" stroke-width="1"/>
<rect x="393.8" y="336.9" width="50.4" height="14.6" fill="#3cb450"/>
<line x1="444.2" y1="344.2" x2="462.1" y2="344.2" stroke="#333" stroke-width="1.1"/>
<line x1="462.1" y1="341" x2="462.1" y2="347.4" stroke="#333" stroke-width="1.1"/>
<circle cx="467.6" cy="344.2" r="1.1" fill="#111"/>
<line x1="390.2" y1="365.15" x2="393.2" y2="365.15" stroke="#000" stroke-width="1"/>
<text x="99.4" y="448.2" font-size="9.3" textLength="45.8" lengthAdjust="spacingAndGlyphs" fill="#231f20" stroke="#231f20" stroke-width="0.1">SCH79797</text>
<line x1="63.6" y1="454.6" x2="63.6" y2="630.8" stroke="#000" stroke-width="1.2"/>
<line x1="63" y1="630.2" x2="181.02" y2="630.2" stroke="#000" stroke-width="1.2"/>
<line x1="63.6" y1="630.2" x2="63.6" y2="633.4" stroke="#000" stroke-width="1"/>
<text x="63.6" y="641.8" font-size="7.5" text-anchor="middle" fill="#231f20" stroke="#231f20" stroke-width="0.1">0</text>
<line x1="91.88" y1="630.2" x2="91.88" y2="633.4" stroke="#000" stroke-width="1"/>
<text x="91.88" y="641.8" font-size="7.5" text-anchor="middle" fill="#231f20" stroke="#231f20" stroke-width="0.1">20</text>
<line x1="120.16" y1="630.2" x2="120.16" y2="633.4" stroke="#000" stroke-width="1"/>
<text x="120.16" y="641.8" font-size="7.5" text-anchor="middle" fill="#231f20" stroke="#231f20" stroke-width="0.1">40</text>
<line x1="148.44" y1="630.2" x2="148.44" y2="633.4" stroke="#000" stroke-width="1"/>
<text x="148.44" y="641.8" font-size="7.5" text-anchor="middle" fill="#231f20" stroke="#231f20" stroke-width="0.1">60</text>
<line x1="176.72" y1="630.2" x2="176.72" y2="633.4" stroke="#000" stroke-width="1"/>
<text x="176.72" y="641.8" font-size="7.5" text-anchor="middle" fill="#231f20" stroke="#231f20" stroke-width="0.1">80</text>
<text x="104.96" y="655" font-size="9" font-weight="bold" textLength="33.8" lengthAdjust="spacingAndGlyphs" fill="#1a1a1a">% Inhibition</text>
<line x1="60.6" y1="469.4" x2="63.6" y2="469.4" stroke="#000" stroke-width="1"/>
<text x="57.6" y="472" font-size="7.85" text-anchor="end" fill="#231f20" stroke="#231f20" stroke-width="0.1">CD41</text>
<rect x="64.2" y="462.1" width="40.1" height="14.6" fill="#c41430"/>
<line x1="104.3" y1="469.4" x2="110.7" y2="469.4" stroke="#333" stroke-width="1.1"/>
<line x1="110.7" y1="466.2" x2="110.7" y2="472.6" stroke="#333" stroke-width="1.1"/>
<circle cx="115.3" cy="469.4" r="1.1" fill="#111"/>
<line x1="60.6" y1="490.35" x2="63.6" y2="490.35" stroke="#000" stroke-width="1"/>
<text x="57.6" y="492.95" font-size="7.85" text-anchor="end" fill="#231f20" stroke="#231f20" stroke-width="0.1">CD16</text>
<rect x="64.2" y="483.05" width="70.5" height="14.6" fill="#c41430"/>
<line x1="134.7" y1="490.35" x2="160.5" y2="490.35" stroke="#333" stroke-width="1.1"/>
<line x1="160.5" y1="487.15" x2="160.5" y2="493.55" stroke="#333" stroke-width="1.1"/>
<circle cx="165.4" cy="490.35" r="1.1" fill="#111"/>
<line x1="60.6" y1="511.3" x2="63.6" y2="511.3" stroke="#000" stroke-width="1"/>
<text x="57.6" y="513.9" font-size="7.85" text-anchor="end" fill="#231f20" stroke="#231f20" stroke-width="0.1">TNF-α</text>
<rect x="64.2" y="504" width="71" height="14.6" fill="#c41430"/>
<line x1="135.2" y1="511.3" x2="147.1" y2="511.3" stroke="#333" stroke-width="1.1"/>
<line x1="147.1" y1="508.1" x2="147.1" y2="514.5" stroke="#333" stroke-width="1.1"/>
<circle cx="151.9" cy="511.3" r="1.1" fill="#111"/>
<line x1="60.6" y1="532.25" x2="63.6" y2="532.25" stroke="#000" stroke-width="1"/>
<text x="57.6" y="534.85" font-size="7.85" text-anchor="end" fill="#231f20" stroke="#231f20" stroke-width="0.1">IL-1β</text>
<rect x="64.2" y="524.95" width="104.7" height="14.6" fill="#c41430"/>
<line x1="168.9" y1="532.25" x2="177" y2="532.25" stroke="#333" stroke-width="1.1"/>
<line x1="177" y1="529.05" x2="177" y2="535.45" stroke="#333" stroke-width="1.1"/>
<circle cx="182.1" cy="532.25" r="1.1" fill="#111"/>
<line x1="60.6" y1="553.2" x2="63.6" y2="553.2" stroke="#000" stroke-width="1"/>
<text x="57.6" y="555.8" font-size="7.85" text-anchor="end" fill="#231f20" stroke="#231f20" stroke-width="0.1">MCP-1/CCL2</text>
<line x1="60.6" y1="574.15" x2="63.6" y2="574.15" stroke="#000" stroke-width="1"/>
<text x="57.6" y="576.75" font-size="7.85" text-anchor="end" fill="#231f20" stroke="#231f20" stroke-width="0.1">sCD62P</text>
<rect x="64.2" y="566.85" width="68.3" height="14.6" fill="#c41430"/>
<line x1="132.5" y1="574.15" x2="154.6" y2="574.15" stroke="#333" stroke-width="1.1"/>
<line x1="154.6" y1="570.95" x2="154.6" y2="577.35" stroke="#333" stroke-width="1.1"/>
<circle cx="160" cy="574.15" r="1.1" fill="#111"/>
<line x1="60.6" y1="595.1" x2="63.6" y2="595.1" stroke="#000" stroke-width="1"/>
<text x="57.6" y="597.7" font-size="7.85" text-anchor="end" fill="#231f20" stroke="#231f20" stroke-width="0.1">PDGF</text>
<rect x="64.2" y="587.8" width="105.2" height="14.6" fill="#c41430"/>
<line x1="169.4" y1="595.1" x2="177" y2="595.1" stroke="#333" stroke-width="1.1"/>
<line x1="177" y1="591.9" x2="177" y2="598.3" stroke="#333" stroke-width="1.1"/>
<circle cx="182.1" cy="595.1" r="1.1" fill="#111"/>
<line x1="60.6" y1="616.05" x2="63.6" y2="616.05" stroke="#000" stroke-width="1"/>
<text x="57.6" y="618.65" font-size="7.85" text-anchor="end" fill="#231f20" stroke="#231f20" stroke-width="0.1">PF4/CXCL4</text>
<rect x="64.2" y="608.75" width="12.9" height="14.6" fill="#c41430"/>
<line x1="77.1" y1="616.05" x2="119.6" y2="616.05" stroke="#333" stroke-width="1.1"/>
<line x1="119.6" y1="612.85" x2="119.6" y2="619.25" stroke="#333" stroke-width="1.1"/>
<text x="272.9" y="448" font-size="9.2" textLength="32" lengthAdjust="spacingAndGlyphs" fill="#231f20" stroke="#231f20" stroke-width="0.1">AZ3451</text>
<line x1="230.8" y1="454.2" x2="230.8" y2="630.6" stroke="#000" stroke-width="1.2"/>
<line x1="230.2" y1="630" x2="348.22" y2="630" stroke="#000" stroke-width="1.2"/>
<line x1="230.8" y1="630" x2="230.8" y2="633.2" stroke="#000" stroke-width="1"/>
<text x="230.8" y="641.6" font-size="7.5" text-anchor="middle" fill="#231f20" stroke="#231f20" stroke-width="0.1">0</text>
<line x1="259.08" y1="630" x2="259.08" y2="633.2" stroke="#000" stroke-width="1"/>
<text x="259.08" y="641.6" font-size="7.5" text-anchor="middle" fill="#231f20" stroke="#231f20" stroke-width="0.1">20</text>
<line x1="287.36" y1="630" x2="287.36" y2="633.2" stroke="#000" stroke-width="1"/>
<text x="287.36" y="641.6" font-size="7.5" text-anchor="middle" fill="#231f20" stroke="#231f20" stroke-width="0.1">40</text>
<line x1="315.64" y1="630" x2="315.64" y2="633.2" stroke="#000" stroke-width="1"/>
<text x="315.64" y="641.6" font-size="7.5" text-anchor="middle" fill="#231f20" stroke="#231f20" stroke-width="0.1">60</text>
<line x1="343.92" y1="630" x2="343.92" y2="633.2" stroke="#000" stroke-width="1"/>
<text x="343.92" y="641.6" font-size="7.5" text-anchor="middle" fill="#231f20" stroke="#231f20" stroke-width="0.1">80</text>
<text x="272.16" y="654.8" font-size="9" font-weight="bold" textLength="33.8" lengthAdjust="spacingAndGlyphs" fill="#1a1a1a">% Inhibition</text>
<line x1="227.8" y1="469.4" x2="230.8" y2="469.4" stroke="#000" stroke-width="1"/>
<rect x="231.4" y="462.1" width="22.3" height="14.6" fill="#105284"/>
<line x1="253.7" y1="469.4" x2="266.3" y2="469.4" stroke="#333" stroke-width="1.1"/>
<line x1="266.3" y1="466.2" x2="266.3" y2="472.6" stroke="#333" stroke-width="1.1"/>
<line x1="227.8" y1="490.35" x2="230.8" y2="490.35" stroke="#000" stroke-width="1"/>
<rect x="231.4" y="483.05" width="60.8" height="14.6" fill="#105284"/>
<line x1="292.2" y1="490.35" x2="305.6" y2="490.35" stroke="#333" stroke-width="1.1"/>
<line x1="305.6" y1="487.15" x2="305.6" y2="493.55" stroke="#333" stroke-width="1.1"/>
<circle cx="310.2" cy="490.35" r="1.1" fill="#111"/>
<line x1="227.8" y1="511.3" x2="230.8" y2="511.3" stroke="#000" stroke-width="1"/>
<rect x="231.4" y="504" width="3.9" height="14.6" fill="#105284"/>
<line x1="235.3" y1="511.3" x2="246.4" y2="511.3" stroke="#333" stroke-width="1.1"/>
<line x1="246.4" y1="508.1" x2="246.4" y2="514.5" stroke="#333" stroke-width="1.1"/>
<line x1="227.8" y1="532.25" x2="230.8" y2="532.25" stroke="#000" stroke-width="1"/>
<rect x="231.4" y="524.95" width="72.1" height="14.6" fill="#105284"/>
<line x1="303.5" y1="532.25" x2="311.5" y2="532.25" stroke="#333" stroke-width="1.1"/>
<line x1="311.5" y1="529.05" x2="311.5" y2="535.45" stroke="#333" stroke-width="1.1"/>
<circle cx="316.4" cy="532.25" r="1.1" fill="#111"/>
<line x1="227.8" y1="553.2" x2="230.8" y2="553.2" stroke="#000" stroke-width="1"/>
<rect x="231.4" y="545.9" width="21.4" height="14.6" fill="#105284"/>
<line x1="252.8" y1="553.2" x2="269" y2="553.2" stroke="#333" stroke-width="1.1"/>
<line x1="269" y1="550" x2="269" y2="556.4" stroke="#333" stroke-width="1.1"/>
<line x1="227.8" y1="574.15" x2="230.8" y2="574.15" stroke="#000" stroke-width="1"/>
<rect x="231.4" y="566.85" width="50.3" height="14.6" fill="#105284"/>
<line x1="281.7" y1="574.15" x2="306.7" y2="574.15" stroke="#333" stroke-width="1.1"/>
<line x1="306.7" y1="570.95" x2="306.7" y2="577.35" stroke="#333" stroke-width="1.1"/>
<line x1="227.8" y1="595.1" x2="230.8" y2="595.1" stroke="#000" stroke-width="1"/>
<rect x="231.4" y="587.8" width="43.8" height="14.6" fill="#105284"/>
<line x1="275.2" y1="595.1" x2="315.3" y2="595.1" stroke="#333" stroke-width="1.1"/>
<line x1="315.3" y1="591.9" x2="315.3" y2="598.3" stroke="#333" stroke-width="1.1"/>
<line x1="227.8" y1="616.05" x2="230.8" y2="616.05" stroke="#000" stroke-width="1"/>
<path d="M413.3,514.6 C417.43,513.37 421.55,513.42 426,513.2 C430.45,512.98 435.78,512.97 440,513.3 C444.22,513.63 447.53,514.15 451.3,515.2 C455.07,516.25 458.85,518.05 462.6,519.6 C466.35,521.15 470.37,522.3 473.8,524.5 C477.23,526.7 480.37,529.5 483.2,532.8 C486.03,536.1 488.75,540.47 490.8,544.3 C492.85,548.13 494.4,552.02 495.5,555.8 C496.6,559.58 497.1,563.57 497.4,567 C497.7,570.43 497.62,572.95 497.3,576.4 C496.98,579.85 496.43,583.93 495.5,587.7 C494.57,591.47 493.43,595.23 491.7,599 C489.97,602.77 487.77,606.85 485.1,610.3 C482.43,613.75 479.15,617 475.7,619.7 C472.25,622.4 468.68,624.92 464.4,626.5 C460.12,628.08 455.15,628.65 450,629.2 C444.85,629.75 439.62,630.18 433.5,629.8 C427.38,629.42 419.55,628.82 413.3,626.9 C407.05,624.98 400.82,622.15 396,618.3 C391.18,614.45 387.33,609.1 384.4,603.8 C381.47,598.5 379.6,592.75 378.4,586.5 C377.2,580.25 376.77,573.03 377.2,566.3 C377.63,559.57 378.83,551.87 381,546.1 C383.17,540.33 386.83,535.95 390.2,531.7 C393.57,527.45 397.35,523.45 401.2,520.6 C405.05,517.75 409.17,515.83 413.3,514.6 Z" fill="url(#mono)" stroke="#3a6fc8" stroke-width="1.1"/>
<path d="M390.2,580.2 C390.98,577.07 391.77,573.47 393.5,570.7 C395.23,567.93 397.83,565.37 400.6,563.6 C403.37,561.83 407.33,560.28 410.1,560.1 C412.87,559.92 415.4,561.08 417.2,562.5 C419,563.92 420.07,566.43 420.9,568.6 C421.73,570.77 421.62,573.8 422.2,575.5 C422.78,577.2 423.47,578.62 424.4,578.8 C425.33,578.98 426.43,577.75 427.8,576.6 C429.17,575.45 430.82,573.07 432.6,571.9 C434.38,570.73 436.53,569.6 438.5,569.6 C440.47,569.6 442.78,570.5 444.4,571.9 C446.02,573.3 447.22,575.43 448.2,578 C449.18,580.57 450.15,584.18 450.3,587.3 C450.45,590.42 449.98,593.5 449.1,596.7 C448.22,599.9 447.6,603.42 445,606.5 C442.4,609.58 437.83,613.52 433.5,615.2 C429.17,616.88 424.3,617.05 419,616.6 C413.7,616.15 406.23,615.1 401.7,612.5 C397.17,609.9 393.95,604.83 391.8,601 C389.65,597.17 389.07,592.97 388.8,589.5 C388.53,586.03 389.42,583.33 390.2,580.2 Z" fill="url(#nuc)" stroke="#4a6ec4" stroke-width="0.9"/>
<path d="M395.1,461.3 C395,459.78 395.05,458.72 395.4,457 C395.75,455.28 396.4,453 397.2,451 C398,449 399.1,446.97 400.2,445 C401.3,443.03 402.55,440.78 403.8,439.2 C405.05,437.62 406.42,436.53 407.7,435.5 C408.98,434.47 410.22,433.73 411.5,433 C412.78,432.27 414.12,431.68 415.4,431.1 C416.68,430.52 417.48,430.13 419.2,429.5 C420.92,428.87 423.68,427.85 425.7,427.3 C427.72,426.75 429.98,426.15 431.3,426.2 C432.62,426.25 433.05,426.57 433.6,427.6 C434.15,428.63 434.18,430.73 434.6,432.4 C435.02,434.07 435.43,436.48 436.1,437.6 C436.77,438.72 437.7,439.02 438.6,439.1 C439.5,439.18 440.13,438.53 441.5,438.1 C442.87,437.67 445.02,436.95 446.8,436.5 C448.58,436.05 450.78,435.2 452.2,435.4 C453.62,435.6 454.27,436.73 455.3,437.7 C456.33,438.67 457.5,440.12 458.4,441.2 C459.3,442.28 460.13,443.05 460.7,444.2 C461.27,445.35 461.68,446.77 461.8,448.1 C461.92,449.43 461.77,450.95 461.4,452.2 C461.03,453.45 460.42,454.43 459.6,455.6 C458.78,456.77 457.73,457.9 456.5,459.2 C455.27,460.5 453.52,461.83 452.2,463.4 C450.88,464.97 449.4,466.92 448.6,468.6 C447.8,470.28 447.52,471.85 447.4,473.5 C447.28,475.15 447.93,476.85 447.9,478.5 C447.87,480.15 447.92,482.25 447.2,483.4 C446.48,484.55 445.15,485.37 443.6,485.4 C442.05,485.43 440,484.4 437.9,483.6 C435.8,482.8 433.32,481.33 431,480.6 C428.68,479.87 426.15,479.27 424,479.2 C421.85,479.13 419.93,479.87 418.1,480.2 C416.27,480.53 414.37,480.75 413,481.2 C411.63,481.65 411.02,482.67 409.9,482.9 C408.78,483.13 407.4,483.1 406.3,482.6 C405.2,482.1 404.27,480.95 403.3,479.9 C402.33,478.85 401.42,477.8 400.5,476.3 C399.58,474.8 398.55,472.6 397.8,470.9 C397.05,469.2 396.45,467.7 396,466.1 C395.55,464.5 395.2,462.82 395.1,461.3 Z" fill="url(#plt)" stroke="#3a6fc8" stroke-width="1.2"/>
<path d="M440.4,468.4 L454.39,476.16 C456.14,477.12 457.56,474.56 455.81,473.59 L441.82,465.84 C440.08,464.87 441.5,462.31 443.24,463.27 L457.23,471.03 C458.98,472 460.4,469.43 458.66,468.47 L444.66,460.71 C442.92,459.75 444.34,457.18 446.08,458.15 L460.08,465.91 C461.82,466.87 463.24,464.31 461.5,463.34 L447.5,455.59 C445.76,454.62 447.18,452.06 448.92,453.02 L462.92,460.78 Q464.42,460.58 465.6,457.8" fill="none" stroke="#173f78" stroke-width="1.3" stroke-linecap="round" stroke-linejoin="round"/>
<path d="M492.6,529.6 C494.6,531.2 495.2,533.6 494.99,535.01 L480.9,540.7 C479.04,541.45 480.15,544.19 482.01,543.44 L496.1,537.74 C497.96,536.99 499.06,539.72 497.2,540.48 L483.11,546.17 C481.25,546.92 482.36,549.66 484.22,548.91 L498.31,543.21 C500.17,542.46 501.27,545.2 499.41,545.95 L485.32,551.64 C483.46,552.39 484.57,555.13 486.43,554.38 L500.52,548.68 C502.38,547.93 503.48,550.67 501.62,551.42 L487.53,557.11" fill="none" stroke="#173f78" stroke-width="1.3" stroke-linecap="round" stroke-linejoin="round"/>
<line x1="413.2" y1="480.3" x2="413.1" y2="498" stroke="#0d3c80" stroke-width="1.4"/>
<circle cx="413.1" cy="486.8" r="1.9" fill="#1a4f9c"/>
<circle cx="413.1" cy="491.2" r="1.9" fill="#1a4f9c"/>
<circle cx="413.1" cy="495.5" r="1.9" fill="#1a4f9c"/>
<circle cx="412.9" cy="502.2" r="4.0" fill="#1d5aa8"/>
<circle cx="412.9" cy="502.6" r="2.6" fill="none" stroke="#4a86d4" stroke-width="0.8"/>
<line x1="413.2" y1="505" x2="413.5" y2="520.7" stroke="#d0101a" stroke-width="1.5"/>
<circle cx="413.1" cy="505.2" r="1.85" fill="#d0101a"/>
<circle cx="413.1" cy="509.9" r="1.85" fill="#d0101a"/>
<circle cx="413.1" cy="514.2" r="1.85" fill="#d0101a"/>
<line x1="438.3" y1="477" x2="438.4" y2="492" stroke="#e07272" stroke-width="0.8"/>
<line x1="442.6" y1="476.3" x2="442.4" y2="491.5" stroke="#1a4f90" stroke-width="1.2"/>
<ellipse cx="438.6" cy="494.3" rx="1.5" ry="2.6" fill="#f07f86"/>
<ellipse cx="442.0" cy="494.0" rx="1.6" ry="2.6" fill="#1d56a4"/>
<path d="M436,498.5 L444.8,497.2" fill="none" stroke="#f5c000" stroke-width="1.6"/>
<ellipse cx="438.6" cy="503.3" rx="1.5" ry="3.2" fill="#22c062"/>
<ellipse cx="442.4" cy="503.7" rx="1.6" ry="3.2" fill="#c272d2" transform="rotate(-10 442.4 503.7)"/>
<line x1="438.3" y1="506" x2="438.1" y2="519.2" stroke="#1a8a80" stroke-width="1.1"/>
<line x1="442.8" y1="506" x2="443.5" y2="519.2" stroke="#a060b0" stroke-width="1.0"/>
<g transform="translate(457.6,519.3) rotate(12)" fill="#dd0a0a"><path d="M-0.9,0 L-0.9,-2.9 L-2.2,-3.5 L-2.0,-6.4 L-2.5,-9.4 L0,-8.2 L2.5,-9.4 L2.0,-6.4 L2.2,-3.5 L0.9,-2.9 L0.9,0 Z"/></g>
<g transform="translate(465.2,522.9) rotate(20)" fill="#dd0a0a"><path d="M-0.9,0 L-0.9,-2.9 L-2.2,-3.5 L-2.0,-6.4 L-2.5,-9.4 L0,-8.2 L2.5,-9.4 L2.0,-6.4 L2.2,-3.5 L0.9,-2.9 L0.9,0 Z"/></g>
<g transform="translate(472.6,526.6) rotate(30)" fill="#dd0a0a"><path d="M-0.9,0 L-0.9,-2.9 L-2.2,-3.5 L-2.0,-6.4 L-2.5,-9.4 L0,-8.2 L2.5,-9.4 L2.0,-6.4 L2.2,-3.5 L0.9,-2.9 L0.9,0 Z"/></g>
<g transform="translate(495.2,577.0) rotate(12)" fill="#c80000"><path d="M0,-1.3 C3,-1.6 6,-2.2 8.6,-2.6 L6.6,0.2 L8.2,2.4 C5.5,1.9 3,1.5 0,1.3 C-0.9,0.8 -0.9,-0.8 0,-1.3 Z"/></g>
<g transform="translate(492.4,586.3) rotate(25)" fill="#c80000"><path d="M0,-1.3 C3,-1.6 6,-2.2 8.6,-2.6 L6.6,0.2 L8.2,2.4 C5.5,1.9 3,1.5 0,1.3 C-0.9,0.8 -0.9,-0.8 0,-1.3 Z"/></g>
<g transform="translate(488.5,593.8) rotate(33)" fill="#c80000"><path d="M0,-1.3 C3,-1.6 6,-2.2 8.6,-2.6 L6.6,0.2 L8.2,2.4 C5.5,1.9 3,1.5 0,1.3 C-0.9,0.8 -0.9,-0.8 0,-1.3 Z"/></g>
<path d="M436.6,446 C437.5,436 446,428.5 456.5,428.1" fill="none" stroke="#1a1a1a" stroke-width="1.0"/>
<path transform="translate(459.6,428.1) rotate(0)" d="M0,0 L-3.6,-2.23 L-2.88,0 L-3.6,2.23 Z" fill="#1a1a1a"/>
<path d="M479.7,500.3 C486,492 486,477 470.3,471" fill="none" stroke="#1a1a1a" stroke-width="1.0"/>
<path transform="translate(466.8,469.7) rotate(200)" d="M0,0 L-3.6,-2.23 L-2.88,0 L-3.6,2.23 Z" fill="#1a1a1a"/>
<path d="M485.4,503.2 C500,502 509,514 504.4,530" fill="none" stroke="#1a1a1a" stroke-width="1.0"/>
<path transform="translate(503.5,533) rotate(107)" d="M0,0 L-3.6,-2.23 L-2.88,0 L-3.6,2.23 Z" fill="#1a1a1a"/>
<path d="M416.3,525.6 C421,536 436,541 447,537 C452,535 455,532 457.6,528.8" fill="none" stroke="#1a1a1a" stroke-width="1.1"/>
<path d="M438.8,524.4 C440,531 446,536 452,533.8" fill="none" stroke="#1a1a1a" stroke-width="1.1"/>
<path transform="translate(460.4,525) rotate(-45)" d="M0,0 L-4.2,-2.6 L-3.36,0 L-4.2,2.6 Z" fill="#1a1a1a"/>
<path d="M470.6,563.6 C474,572 480,578 486.5,580.2" fill="none" stroke="#1a1a1a" stroke-width="1.0"/>
<path transform="translate(489.8,581.1) rotate(18)" d="M0,0 L-3.8,-2.36 L-3.04,0 L-3.8,2.36 Z" fill="#1a1a1a"/>
<line x1="424.3" y1="544.6" x2="424.3" y2="636.6" stroke="#1a1a1a" stroke-width="0.9"/>
<path transform="translate(424.3,638.6) rotate(90)" d="M0,0 L-2.6,-1.61 L-2.08,0 L-2.6,1.61 Z" fill="#1a1a1a"/>
<line x1="470.7" y1="563.6" x2="470.7" y2="637.6" stroke="#1a1a1a" stroke-width="0.9"/>
<path transform="translate(470.7,639.6) rotate(90)" d="M0,0 L-2.6,-1.61 L-2.08,0 L-2.6,1.61 Z" fill="#1a1a1a"/>
<text x="475.6" y="429.2" font-size="7" text-anchor="middle" textLength="19.7" lengthAdjust="spacingAndGlyphs" fill="#231f20" stroke="#231f20" stroke-width="0.1">PDGF</text>
<text x="475.8" y="438.1" font-size="7" text-anchor="middle" textLength="26.9" lengthAdjust="spacingAndGlyphs" fill="#231f20" stroke="#231f20" stroke-width="0.1">sCD62P</text>
<text x="419.9" y="461.6" font-size="6.6" textLength="18.3" lengthAdjust="spacingAndGlyphs" fill="#231f20" stroke="#231f20" stroke-width="0.1">PAR-1</text>
<text x="408.9" y="497.8" font-size="7.2" text-anchor="end" textLength="23.9" lengthAdjust="spacingAndGlyphs" fill="#231f20" stroke="#231f20" stroke-width="0.1">CD62P</text>
<text x="445.6" y="496.4" font-size="7.4">α<tspan font-size="4.8" dy="1.6">IIb</tspan><tspan dy="-1.6">/β</tspan><tspan font-size="4.8" dy="1.6">3</tspan></text>
<text x="472.9" y="509" font-size="7.4" textLength="7.5" lengthAdjust="spacingAndGlyphs" fill="#231f20" stroke="#231f20" stroke-width="0.1">TF</text>
<text x="452.2" y="556" font-size="7" textLength="26.8" lengthAdjust="spacingAndGlyphs" fill="#231f20" stroke="#231f20" stroke-width="0.1">PAR-1/2</text>
<text x="494.1" y="607.7" font-size="7.2" textLength="18.9" lengthAdjust="spacingAndGlyphs" fill="#231f20" stroke="#231f20" stroke-width="0.1">CD16</text>
<text x="425.3" y="648.7" font-size="7" text-anchor="middle" textLength="11.7" lengthAdjust="spacingAndGlyphs" fill="#231f20" stroke="#231f20" stroke-width="0.1">IL-8</text>
<text x="424.6" y="657.7" font-size="7" text-anchor="middle" textLength="21.2" lengthAdjust="spacingAndGlyphs" fill="#231f20" stroke="#231f20" stroke-width="0.1">MCP-1</text>
<text x="469.7" y="648.7" font-size="7" text-anchor="middle" textLength="19.3" lengthAdjust="spacingAndGlyphs" fill="#231f20" stroke="#231f20" stroke-width="0.1">TNF-α</text>
<text x="469.8" y="657.7" font-size="7" text-anchor="middle" textLength="15.8" lengthAdjust="spacingAndGlyphs" fill="#231f20" stroke="#231f20" stroke-width="0.1">IL-1β</text>
</svg>
</body></html>
